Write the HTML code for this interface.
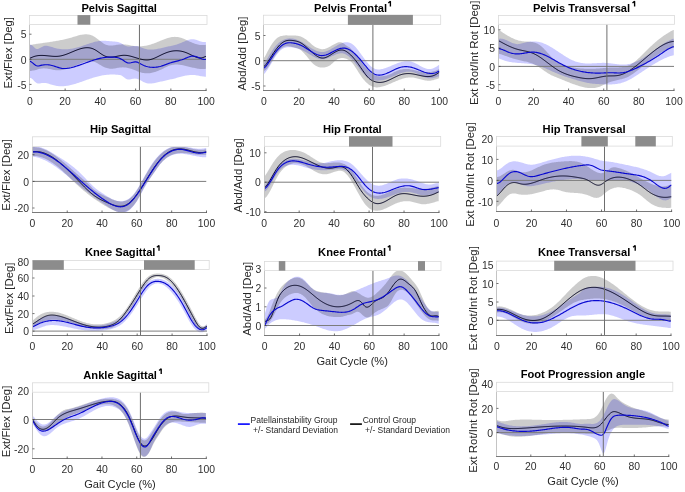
<!DOCTYPE html>
<html><head><meta charset="utf-8"><style>
html,body{margin:0;padding:0;background:#fff;width:685px;height:492px;overflow:hidden}
svg{display:block;will-change:transform}
text{font-family:"Liberation Sans", sans-serif}
</style></head><body>
<svg width="685" height="492" viewBox="0 0 685 492" font-family='"Liberation Sans", sans-serif'>
<rect width="685" height="492" fill="#fff"/>
<clipPath id="clipps"><rect x="29.9" y="24.4" width="176.2" height="65.6"/></clipPath>
<g clip-path="url(#clipps)">
<path d="M29.9,44.85 30.9,44.85 31.9,45.17 32.9,45.93 33.9,46.95 34.9,47.93 35.9,48.63 36.9,48.94 37.9,48.90 38.9,48.57 39.9,48.07 40.9,47.49 41.9,46.91 42.9,46.42 43.9,46.06 44.9,45.85 45.9,45.77 46.9,45.81 47.9,45.94 48.9,46.15 49.9,46.41 50.9,46.71 51.9,47.03 52.9,47.36 53.9,47.67 54.9,47.95 55.9,48.21 56.9,48.44 57.9,48.64 58.9,48.81 59.9,48.95 60.9,49.07 61.9,49.16 62.9,49.23 63.9,49.27 64.9,49.28 65.9,49.27 66.9,49.23 67.9,49.17 68.9,49.08 69.9,48.97 70.9,48.84 71.9,48.69 72.9,48.51 73.9,48.31 74.9,48.09 75.9,47.85 76.9,47.59 77.9,47.31 78.9,47.01 79.9,46.70 80.9,46.38 81.9,46.05 82.9,45.71 83.9,45.36 84.9,45.02 85.9,44.67 86.9,44.32 87.9,43.98 88.9,43.64 89.9,43.31 90.9,42.99 91.9,42.68 92.9,42.39 93.9,42.11 94.9,41.86 95.9,41.62 96.9,41.41 97.9,41.23 98.9,41.07 99.9,40.94 100.9,40.85 101.9,40.79 102.9,40.76 103.9,40.76 104.9,40.79 105.9,40.84 106.9,40.91 107.9,40.98 108.9,41.07 109.9,41.16 110.9,41.25 111.9,41.33 112.9,41.41 113.9,41.49 114.9,41.58 115.9,41.69 116.9,41.84 117.9,42.04 118.9,42.31 119.9,42.67 120.9,43.12 121.9,43.68 122.9,44.34 123.9,45.01 124.9,45.60 125.9,46.05 126.9,46.33 127.9,46.47 128.9,46.50 129.9,46.44 130.9,46.32 131.9,46.18 132.9,46.04 133.9,45.94 134.9,45.91 135.9,45.97 136.9,46.11 137.9,46.33 138.9,46.60 139.9,46.93 140.9,47.28 141.9,47.65 142.9,48.02 143.9,48.38 144.9,48.70 145.9,48.98 146.9,49.21 147.9,49.39 148.9,49.51 149.9,49.58 150.9,49.61 151.9,49.59 152.9,49.54 153.9,49.45 154.9,49.33 155.9,49.18 156.9,49.00 157.9,48.81 158.9,48.60 159.9,48.38 160.9,48.14 161.9,47.90 162.9,47.66 163.9,47.42 164.9,47.18 165.9,46.95 166.9,46.73 167.9,46.53 168.9,46.34 169.9,46.15 170.9,45.97 171.9,45.78 172.9,45.56 173.9,45.32 174.9,45.05 175.9,44.76 176.9,44.43 177.9,44.09 178.9,43.72 179.9,43.33 180.9,42.93 181.9,42.52 182.9,42.10 183.9,41.68 184.9,41.26 185.9,40.84 186.9,40.45 187.9,40.09 188.9,39.78 189.9,39.52 190.9,39.33 191.9,39.21 192.9,39.19 193.9,39.26 194.9,39.44 195.9,39.70 196.9,40.04 197.9,40.41 198.9,40.81 199.9,41.19 200.9,41.53 201.9,41.80 202.9,41.98 203.9,42.05 204.9,41.99 205.9,41.89 L205.9,76.67 204.9,76.66 203.9,76.61 202.9,76.51 201.9,76.37 200.9,76.21 199.9,76.02 198.9,75.82 197.9,75.62 196.9,75.42 195.9,75.25 194.9,75.11 193.9,75.01 192.9,74.95 191.9,74.94 190.9,74.97 189.9,75.03 188.9,75.13 187.9,75.26 186.9,75.42 185.9,75.61 184.9,75.81 183.9,76.04 182.9,76.28 181.9,76.53 180.9,76.79 179.9,77.06 178.9,77.33 177.9,77.60 176.9,77.87 175.9,78.13 174.9,78.39 173.9,78.64 172.9,78.89 171.9,79.13 170.9,79.37 169.9,79.60 168.9,79.83 167.9,80.05 166.9,80.28 165.9,80.50 164.9,80.72 163.9,80.94 162.9,81.16 161.9,81.38 160.9,81.60 159.9,81.83 158.9,82.05 157.9,82.27 156.9,82.50 155.9,82.73 154.9,82.95 153.9,83.15 152.9,83.32 151.9,83.46 150.9,83.56 149.9,83.59 148.9,83.56 147.9,83.46 146.9,83.26 145.9,82.98 144.9,82.60 143.9,82.15 142.9,81.64 141.9,81.10 140.9,80.56 139.9,80.03 138.9,79.55 137.9,79.14 136.9,78.83 135.9,78.63 134.9,78.57 133.9,78.65 132.9,78.83 131.9,79.08 130.9,79.33 129.9,79.53 128.9,79.62 127.9,79.57 126.9,79.31 125.9,78.81 124.9,78.09 123.9,77.24 122.9,76.40 121.9,75.72 120.9,75.29 119.9,75.04 118.9,74.90 117.9,74.80 116.9,74.72 115.9,74.65 114.9,74.60 113.9,74.57 112.9,74.56 111.9,74.56 110.9,74.58 109.9,74.62 108.9,74.67 107.9,74.74 106.9,74.83 105.9,74.94 104.9,75.06 103.9,75.20 102.9,75.36 101.9,75.53 100.9,75.72 99.9,75.93 98.9,76.15 97.9,76.39 96.9,76.65 95.9,76.92 94.9,77.21 93.9,77.51 92.9,77.82 91.9,78.14 90.9,78.48 89.9,78.81 88.9,79.16 87.9,79.51 86.9,79.87 85.9,80.22 84.9,80.58 83.9,80.94 82.9,81.30 81.9,81.66 80.9,82.01 79.9,82.35 78.9,82.69 77.9,83.03 76.9,83.35 75.9,83.66 74.9,83.96 73.9,84.25 72.9,84.53 71.9,84.79 70.9,85.03 69.9,85.25 68.9,85.46 67.9,85.64 66.9,85.80 65.9,85.94 64.9,86.06 63.9,86.15 62.9,86.21 61.9,86.25 60.9,86.25 59.9,86.22 58.9,86.17 57.9,86.08 56.9,85.95 55.9,85.79 54.9,85.59 53.9,85.35 52.9,85.08 51.9,84.78 50.9,84.46 49.9,84.14 48.9,83.83 47.9,83.54 46.9,83.29 45.9,83.10 44.9,82.97 43.9,82.92 42.9,82.95 41.9,83.07 40.9,83.24 39.9,83.40 38.9,83.48 37.9,83.42 36.9,83.14 35.9,82.58 34.9,81.73 33.9,80.66 32.9,79.56 31.9,78.65 30.9,78.10 29.9,77.90 Z" fill="#0000ff" fill-opacity="0.2" stroke="none"/>
<path d="M29.9,44.91 30.9,44.81 31.9,44.66 32.9,44.50 33.9,44.33 34.9,44.17 35.9,44.01 36.9,43.86 37.9,43.71 38.9,43.56 39.9,43.42 40.9,43.27 41.9,43.13 42.9,42.99 43.9,42.84 44.9,42.70 45.9,42.56 46.9,42.42 47.9,42.27 48.9,42.13 49.9,41.98 50.9,41.83 51.9,41.68 52.9,41.52 53.9,41.36 54.9,41.20 55.9,41.03 56.9,40.86 57.9,40.68 58.9,40.49 59.9,40.31 60.9,40.11 61.9,39.91 62.9,39.70 63.9,39.48 64.9,39.25 65.9,39.02 66.9,38.78 67.9,38.52 68.9,38.26 69.9,37.99 70.9,37.71 71.9,37.42 72.9,37.12 73.9,36.81 74.9,36.50 75.9,36.19 76.9,35.90 77.9,35.61 78.9,35.34 79.9,35.09 80.9,34.87 81.9,34.68 82.9,34.52 83.9,34.40 84.9,34.33 85.9,34.30 86.9,34.33 87.9,34.41 88.9,34.56 89.9,34.77 90.9,35.06 91.9,35.42 92.9,35.86 93.9,36.38 94.9,36.99 95.9,37.67 96.9,38.41 97.9,39.19 98.9,39.99 99.9,40.80 100.9,41.59 101.9,42.34 102.9,43.05 103.9,43.68 104.9,44.22 105.9,44.67 106.9,45.01 107.9,45.25 108.9,45.41 109.9,45.49 110.9,45.51 111.9,45.47 112.9,45.39 113.9,45.28 114.9,45.15 115.9,45.01 116.9,44.86 117.9,44.73 118.9,44.60 119.9,44.50 120.9,44.42 121.9,44.37 122.9,44.35 123.9,44.38 124.9,44.45 125.9,44.56 126.9,44.70 127.9,44.87 128.9,45.06 129.9,45.25 130.9,45.45 131.9,45.65 132.9,45.84 133.9,46.00 134.9,46.14 135.9,46.25 136.9,46.33 137.9,46.37 138.9,46.38 139.9,46.36 140.9,46.31 141.9,46.23 142.9,46.12 143.9,45.99 144.9,45.83 145.9,45.65 146.9,45.44 147.9,45.21 148.9,44.95 149.9,44.68 150.9,44.39 151.9,44.07 152.9,43.74 153.9,43.40 154.9,43.03 155.9,42.66 156.9,42.27 157.9,41.86 158.9,41.45 159.9,41.04 160.9,40.62 161.9,40.21 162.9,39.81 163.9,39.41 164.9,39.03 165.9,38.67 166.9,38.33 167.9,38.01 168.9,37.73 169.9,37.48 170.9,37.27 171.9,37.10 172.9,36.97 173.9,36.89 174.9,36.86 175.9,36.88 176.9,36.94 177.9,37.06 178.9,37.23 179.9,37.46 180.9,37.74 181.9,38.07 182.9,38.45 183.9,38.86 184.9,39.30 185.9,39.76 186.9,40.24 187.9,40.72 188.9,41.20 189.9,41.66 190.9,42.12 191.9,42.55 192.9,42.96 193.9,43.35 194.9,43.70 195.9,44.03 196.9,44.32 197.9,44.57 198.9,44.77 199.9,44.93 200.9,45.05 201.9,45.11 202.9,45.12 203.9,45.07 204.9,44.97 205.9,44.87 L205.9,68.82 204.9,68.89 203.9,68.96 202.9,69.00 201.9,68.99 200.9,68.95 199.9,68.88 198.9,68.77 197.9,68.63 196.9,68.47 195.9,68.29 194.9,68.09 193.9,67.87 192.9,67.64 191.9,67.39 190.9,67.14 189.9,66.89 188.9,66.63 187.9,66.38 186.9,66.13 185.9,65.88 184.9,65.65 183.9,65.43 182.9,65.23 181.9,65.05 180.9,64.89 179.9,64.76 178.9,64.65 177.9,64.58 176.9,64.54 175.9,64.54 174.9,64.58 173.9,64.66 172.9,64.79 171.9,64.97 170.9,65.21 169.9,65.50 168.9,65.84 167.9,66.23 166.9,66.67 165.9,67.13 164.9,67.62 163.9,68.13 162.9,68.63 161.9,69.14 160.9,69.63 159.9,70.10 158.9,70.55 157.9,70.97 156.9,71.36 155.9,71.72 154.9,72.04 153.9,72.34 152.9,72.60 151.9,72.82 150.9,73.00 149.9,73.14 148.9,73.25 147.9,73.30 146.9,73.32 145.9,73.29 144.9,73.21 143.9,73.09 142.9,72.91 141.9,72.68 140.9,72.41 139.9,72.10 138.9,71.75 137.9,71.38 136.9,70.98 135.9,70.58 134.9,70.18 133.9,69.78 132.9,69.40 131.9,69.03 130.9,68.70 129.9,68.40 128.9,68.14 127.9,67.91 126.9,67.72 125.9,67.57 124.9,67.46 123.9,67.39 122.9,67.36 121.9,67.38 120.9,67.44 119.9,67.55 118.9,67.69 117.9,67.87 116.9,68.06 115.9,68.26 114.9,68.44 113.9,68.59 112.9,68.70 111.9,68.75 110.9,68.75 109.9,68.67 108.9,68.54 107.9,68.34 106.9,68.08 105.9,67.77 104.9,67.39 103.9,66.96 102.9,66.48 101.9,65.94 100.9,65.36 99.9,64.75 98.9,64.13 97.9,63.52 96.9,62.95 95.9,62.45 94.9,62.04 93.9,61.72 92.9,61.50 91.9,61.37 90.9,61.31 89.9,61.32 88.9,61.38 87.9,61.49 86.9,61.65 85.9,61.85 84.9,62.09 83.9,62.37 82.9,62.67 81.9,63.01 80.9,63.36 79.9,63.74 78.9,64.13 77.9,64.54 76.9,64.96 75.9,65.38 74.9,65.80 73.9,66.22 72.9,66.63 71.9,67.04 70.9,67.44 69.9,67.82 68.9,68.19 67.9,68.54 66.9,68.87 65.9,69.17 64.9,69.45 63.9,69.69 62.9,69.90 61.9,70.08 60.9,70.21 59.9,70.31 58.9,70.36 57.9,70.36 56.9,70.31 55.9,70.22 54.9,70.08 53.9,69.91 52.9,69.72 51.9,69.52 50.9,69.31 49.9,69.10 48.9,68.90 47.9,68.72 46.9,68.57 45.9,68.46 44.9,68.39 43.9,68.37 42.9,68.41 41.9,68.51 40.9,68.66 39.9,68.86 38.9,69.10 37.9,69.36 36.9,69.63 35.9,69.90 34.9,70.16 33.9,70.41 32.9,70.62 31.9,70.80 30.9,70.91 29.9,70.97 Z" fill="#000000" fill-opacity="0.2" stroke="none"/>
<line x1="29.9" x2="206.1" y1="59.3" y2="59.3" stroke="#7c7c7c" stroke-width="1.0"/>
<path d="M29.9,58.11 30.9,57.80 31.9,57.37 32.9,56.95 33.9,56.57 34.9,56.26 35.9,56.00 36.9,55.80 37.9,55.64 38.9,55.53 39.9,55.46 40.9,55.43 41.9,55.43 42.9,55.45 43.9,55.50 44.9,55.56 45.9,55.65 46.9,55.74 47.9,55.84 48.9,55.94 49.9,56.04 50.9,56.14 51.9,56.23 52.9,56.30 53.9,56.35 54.9,56.38 55.9,56.39 56.9,56.36 57.9,56.30 58.9,56.20 59.9,56.06 60.9,55.87 61.9,55.65 62.9,55.39 63.9,55.10 64.9,54.78 65.9,54.44 66.9,54.07 67.9,53.69 68.9,53.29 69.9,52.87 70.9,52.46 71.9,52.03 72.9,51.61 73.9,51.19 74.9,50.78 75.9,50.38 76.9,49.99 77.9,49.62 78.9,49.27 79.9,48.94 80.9,48.65 81.9,48.39 82.9,48.16 83.9,47.97 84.9,47.83 85.9,47.74 86.9,47.70 87.9,47.71 88.9,47.79 89.9,47.93 90.9,48.13 91.9,48.41 92.9,48.77 93.9,49.21 94.9,49.72 95.9,50.30 96.9,50.94 97.9,51.62 98.9,52.33 99.9,53.04 100.9,53.73 101.9,54.40 102.9,55.02 103.9,55.58 104.9,56.06 105.9,56.46 106.9,56.75 107.9,56.96 108.9,57.10 109.9,57.16 110.9,57.15 111.9,57.10 112.9,57.00 113.9,56.86 114.9,56.69 115.9,56.50 116.9,56.30 117.9,56.10 118.9,55.90 119.9,55.72 120.9,55.56 121.9,55.43 122.9,55.34 123.9,55.29 124.9,55.30 125.9,55.36 126.9,55.46 127.9,55.61 128.9,55.80 129.9,56.02 130.9,56.27 131.9,56.54 132.9,56.83 133.9,57.13 134.9,57.44 135.9,57.75 136.9,58.06 137.9,58.37 138.9,58.66 139.9,58.94 140.9,59.19 141.9,59.41 142.9,59.61 143.9,59.77 144.9,59.88 145.9,59.95 146.9,59.97 147.9,59.93 148.9,59.83 149.9,59.66 150.9,59.44 151.9,59.15 152.9,58.81 153.9,58.42 154.9,58.00 155.9,57.55 156.9,57.07 157.9,56.58 158.9,56.08 159.9,55.58 160.9,55.09 161.9,54.61 162.9,54.15 163.9,53.70 164.9,53.28 165.9,52.88 166.9,52.51 167.9,52.16 168.9,51.86 169.9,51.58 170.9,51.35 171.9,51.15 172.9,50.99 173.9,50.87 174.9,50.80 175.9,50.76 176.9,50.76 177.9,50.80 178.9,50.88 179.9,51.00 180.9,51.16 181.9,51.35 182.9,51.59 183.9,51.87 184.9,52.19 185.9,52.55 186.9,52.95 187.9,53.38 188.9,53.85 189.9,54.34 190.9,54.84 191.9,55.34 192.9,55.82 193.9,56.29 194.9,56.72 195.9,57.10 196.9,57.43 197.9,57.69 198.9,57.87 199.9,57.96 200.9,57.95 201.9,57.83 202.9,57.58 203.9,57.20 204.9,56.73 205.9,56.32" fill="none" stroke="#0a0a28" stroke-width="1.0" stroke-linejoin="round"/>
<path d="M29.9,61.21 30.9,61.64 31.9,62.35 32.9,63.18 33.9,64.02 34.9,64.80 35.9,65.42 36.9,65.83 37.9,65.98 38.9,65.90 39.9,65.67 40.9,65.41 41.9,65.16 42.9,64.97 43.9,64.83 44.9,64.74 45.9,64.70 46.9,64.72 47.9,64.78 48.9,64.89 49.9,65.04 50.9,65.24 51.9,65.48 52.9,65.75 53.9,66.05 54.9,66.37 55.9,66.70 56.9,67.03 57.9,67.35 58.9,67.65 59.9,67.92 60.9,68.15 61.9,68.33 62.9,68.45 63.9,68.52 64.9,68.54 65.9,68.51 66.9,68.42 67.9,68.30 68.9,68.14 69.9,67.95 70.9,67.73 71.9,67.48 72.9,67.21 73.9,66.93 74.9,66.63 75.9,66.32 76.9,66.00 77.9,65.67 78.9,65.34 79.9,64.99 80.9,64.64 81.9,64.28 82.9,63.92 83.9,63.56 84.9,63.20 85.9,62.83 86.9,62.47 87.9,62.11 88.9,61.76 89.9,61.40 90.9,61.06 91.9,60.72 92.9,60.39 93.9,60.07 94.9,59.75 95.9,59.46 96.9,59.17 97.9,58.90 98.9,58.64 99.9,58.40 100.9,58.18 101.9,57.98 102.9,57.79 103.9,57.63 104.9,57.49 105.9,57.36 106.9,57.26 107.9,57.18 108.9,57.12 109.9,57.08 110.9,57.06 111.9,57.06 112.9,57.08 113.9,57.13 114.9,57.21 115.9,57.34 116.9,57.51 117.9,57.75 118.9,58.05 119.9,58.42 120.9,58.88 121.9,59.44 122.9,60.08 123.9,60.78 124.9,61.48 125.9,62.11 126.9,62.60 127.9,62.89 128.9,63.00 129.9,62.95 130.9,62.78 131.9,62.54 132.9,62.29 133.9,62.06 134.9,61.92 135.9,61.91 136.9,62.07 137.9,62.41 138.9,62.91 139.9,63.47 140.9,64.03 141.9,64.56 142.9,65.05 143.9,65.48 144.9,65.87 145.9,66.20 146.9,66.50 147.9,66.75 148.9,66.95 149.9,67.11 150.9,67.23 151.9,67.30 152.9,67.33 153.9,67.33 154.9,67.28 155.9,67.19 156.9,67.07 157.9,66.91 158.9,66.71 159.9,66.48 160.9,66.21 161.9,65.91 162.9,65.58 163.9,65.24 164.9,64.88 165.9,64.51 166.9,64.13 167.9,63.76 168.9,63.39 169.9,63.04 170.9,62.70 171.9,62.39 172.9,62.10 173.9,61.83 174.9,61.57 175.9,61.32 176.9,61.08 177.9,60.83 178.9,60.57 179.9,60.30 180.9,60.01 181.9,59.70 182.9,59.36 183.9,58.98 184.9,58.57 185.9,58.15 186.9,57.72 187.9,57.30 188.9,56.92 189.9,56.58 190.9,56.31 191.9,56.12 192.9,56.03 193.9,56.06 194.9,56.21 195.9,56.48 196.9,56.83 197.9,57.24 198.9,57.69 199.9,58.14 200.9,58.56 201.9,58.93 202.9,59.22 203.9,59.40 204.9,59.45 205.9,59.43" fill="none" stroke="#0808d0" stroke-width="1.15" stroke-linejoin="round"/>
</g>
<line x1="139.45" x2="139.45" y1="24.4" y2="90.0" stroke="#6e6e6e" stroke-width="1.0"/>
<line x1="29.5" x2="29.5" y1="24.4" y2="90.5" stroke="#c4c4c4" stroke-width="1"/>
<line x1="29.0" x2="206.6" y1="90.5" y2="90.5" stroke="#7a7a7a" stroke-width="1"/>
<text x="29.90" y="104.9" font-size="10.4" text-anchor="middle" font-weight="normal" fill="#303030">0</text>
<line x1="65.14" x2="65.14" y1="90.5" y2="88.5" stroke="#333333" stroke-width="0.7"/>
<text x="65.14" y="104.9" font-size="10.4" text-anchor="middle" font-weight="normal" fill="#303030">20</text>
<line x1="100.38" x2="100.38" y1="90.5" y2="88.5" stroke="#333333" stroke-width="0.7"/>
<text x="100.38" y="104.9" font-size="10.4" text-anchor="middle" font-weight="normal" fill="#303030">40</text>
<line x1="135.62" x2="135.62" y1="90.5" y2="88.5" stroke="#333333" stroke-width="0.7"/>
<text x="135.62" y="104.9" font-size="10.4" text-anchor="middle" font-weight="normal" fill="#303030">60</text>
<line x1="170.86" x2="170.86" y1="90.5" y2="88.5" stroke="#333333" stroke-width="0.7"/>
<text x="170.86" y="104.9" font-size="10.4" text-anchor="middle" font-weight="normal" fill="#303030">80</text>
<line x1="206.10" x2="206.10" y1="90.5" y2="88.5" stroke="#333333" stroke-width="0.7"/>
<text x="206.10" y="104.9" font-size="10.4" text-anchor="middle" font-weight="normal" fill="#303030">100</text>
<line x1="29.5" x2="31.5" y1="34.2" y2="34.2" stroke="#333333" stroke-width="0.7"/>
<text x="26.599999999999998" y="38.400000000000006" font-size="10.4" text-anchor="end" font-weight="normal" fill="#303030">5</text>
<line x1="29.5" x2="31.5" y1="59.3" y2="59.3" stroke="#333333" stroke-width="0.7"/>
<text x="26.599999999999998" y="63.5" font-size="10.4" text-anchor="end" font-weight="normal" fill="#303030">0</text>
<line x1="29.5" x2="31.5" y1="84.4" y2="84.4" stroke="#333333" stroke-width="0.7"/>
<text x="26.599999999999998" y="88.60000000000001" font-size="10.4" text-anchor="end" font-weight="normal" fill="#303030">-5</text>
<rect x="29.5" y="15.4" width="177.50" height="9.00" fill="#fff" stroke="#dadada" stroke-width="0.8"/>
<rect x="77.5" y="15.1" width="12.80" height="9.60" fill="#8c8c8c"/>
<text x="81.4" y="11.8" font-size="11.15" text-anchor="start" font-weight="bold" fill="#000">Pelvis Sagittal</text>
<text x="12.4" y="52.8" font-size="11.4" text-anchor="middle" font-weight="normal" fill="#262626" transform="rotate(-90 12.4 52.8)">Ext/Flex [Deg]</text>
<clipPath id="clippf"><rect x="263.8" y="24.6" width="175.59999999999997" height="65.4"/></clipPath>
<g clip-path="url(#clippf)">
<path d="M263.8,63.25 264.8,62.30 265.8,60.88 266.8,59.29 267.8,57.64 268.8,55.98 269.8,54.33 270.8,52.72 271.8,51.15 272.8,49.66 273.8,48.25 274.8,46.95 275.8,45.75 276.8,44.66 277.8,43.67 278.8,42.78 279.8,41.98 280.8,41.27 281.8,40.65 282.8,40.10 283.8,39.64 284.8,39.26 285.8,38.94 286.8,38.70 287.8,38.52 288.8,38.41 289.8,38.36 290.8,38.38 291.8,38.45 292.8,38.59 293.8,38.78 294.8,39.02 295.8,39.31 296.8,39.65 297.8,40.04 298.8,40.47 299.8,40.95 300.8,41.47 301.8,42.02 302.8,42.61 303.8,43.23 304.8,43.86 305.8,44.52 306.8,45.18 307.8,45.85 308.8,46.51 309.8,47.16 310.8,47.80 311.8,48.42 312.8,49.01 313.8,49.56 314.8,50.08 315.8,50.55 316.8,50.96 317.8,51.32 318.8,51.61 319.8,51.83 320.8,51.98 321.8,52.04 322.8,52.01 323.8,51.90 324.8,51.70 325.8,51.42 326.8,51.08 327.8,50.68 328.8,50.22 329.8,49.72 330.8,49.18 331.8,48.61 332.8,48.03 333.8,47.43 334.8,46.82 335.8,46.22 336.8,45.64 337.8,45.07 338.8,44.53 339.8,44.02 340.8,43.56 341.8,43.15 342.8,42.80 343.8,42.52 344.8,42.32 345.8,42.19 346.8,42.17 347.8,42.24 348.8,42.43 349.8,42.74 350.8,43.17 351.8,43.75 352.8,44.46 353.8,45.31 354.8,46.29 355.8,47.37 356.8,48.55 357.8,49.80 358.8,51.11 359.8,52.46 360.8,53.84 361.8,55.23 362.8,56.61 363.8,57.98 364.8,59.33 365.8,60.63 366.8,61.89 367.8,63.09 368.8,64.21 369.8,65.25 370.8,66.19 371.8,67.03 372.8,67.75 373.8,68.34 374.8,68.80 375.8,69.14 376.8,69.36 377.8,69.48 378.8,69.50 379.8,69.45 380.8,69.32 381.8,69.12 382.8,68.88 383.8,68.60 384.8,68.29 385.8,67.94 386.8,67.58 387.8,67.20 388.8,66.80 389.8,66.39 390.8,65.97 391.8,65.54 392.8,65.12 393.8,64.70 394.8,64.28 395.8,63.88 396.8,63.49 397.8,63.11 398.8,62.76 399.8,62.44 400.8,62.14 401.8,61.87 402.8,61.64 403.8,61.45 404.8,61.31 405.8,61.21 406.8,61.16 407.8,61.17 408.8,61.23 409.8,61.36 410.8,61.55 411.8,61.81 412.8,62.14 413.8,62.53 414.8,62.97 415.8,63.46 416.8,63.98 417.8,64.53 418.8,65.08 419.8,65.64 420.8,66.19 421.8,66.72 422.8,67.22 423.8,67.68 424.8,68.09 425.8,68.44 426.8,68.71 427.8,68.90 428.8,69.00 429.8,69.00 430.8,68.90 431.8,68.70 432.8,68.40 433.8,68.02 434.8,67.55 435.8,67.01 436.8,66.39 437.8,65.72 438.8,65.10 439.3,64.87 L439.3,76.21 438.3,76.48 437.3,76.84 436.3,77.19 435.3,77.51 434.3,77.78 433.3,78.01 432.3,78.17 431.3,78.28 430.3,78.31 429.3,78.27 428.3,78.16 427.3,77.96 426.3,77.70 425.3,77.39 424.3,77.02 423.3,76.61 422.3,76.17 421.3,75.71 420.3,75.23 419.3,74.75 418.3,74.28 417.3,73.81 416.3,73.37 415.3,72.97 414.3,72.60 413.3,72.29 412.3,72.03 411.3,71.84 410.3,71.71 409.3,71.65 408.3,71.64 407.3,71.70 406.3,71.81 405.3,71.96 404.3,72.17 403.3,72.41 402.3,72.69 401.3,73.00 400.3,73.35 399.3,73.72 398.3,74.11 397.3,74.52 396.3,74.94 395.3,75.38 394.3,75.82 393.3,76.26 392.3,76.70 391.3,77.14 390.3,77.56 389.3,77.98 388.3,78.37 387.3,78.75 386.3,79.10 385.3,79.43 384.3,79.72 383.3,79.97 382.3,80.19 381.3,80.37 380.3,80.50 379.3,80.60 378.3,80.65 377.3,80.66 376.3,80.62 375.3,80.54 374.3,80.41 373.3,80.24 372.3,80.00 371.3,79.69 370.3,79.29 369.3,78.77 368.3,78.13 367.3,77.37 366.3,76.50 365.3,75.54 364.3,74.49 363.3,73.36 362.3,72.17 361.3,70.93 360.3,69.66 359.3,68.36 358.3,67.04 357.3,65.74 356.3,64.44 355.3,63.18 354.3,61.97 353.3,60.81 352.3,59.72 351.3,58.70 350.3,57.77 349.3,56.91 348.3,56.11 347.3,55.38 346.3,54.73 345.3,54.18 344.3,53.73 343.3,53.42 342.3,53.24 341.3,53.19 340.3,53.24 339.3,53.40 338.3,53.63 337.3,53.94 336.3,54.31 335.3,54.72 334.3,55.16 333.3,55.63 332.3,56.11 331.3,56.58 330.3,57.05 329.3,57.50 328.3,57.93 327.3,58.31 326.3,58.65 325.3,58.93 324.3,59.14 323.3,59.28 322.3,59.33 321.3,59.29 320.3,59.17 319.3,58.96 318.3,58.69 317.3,58.35 316.3,57.96 315.3,57.51 314.3,57.02 313.3,56.49 312.3,55.93 311.3,55.34 310.3,54.74 309.3,54.13 308.3,53.52 307.3,52.91 306.3,52.31 305.3,51.73 304.3,51.17 303.3,50.64 302.3,50.16 301.3,49.72 300.3,49.32 299.3,48.97 298.3,48.67 297.3,48.40 296.3,48.16 295.3,47.96 294.3,47.77 293.3,47.61 292.3,47.46 291.3,47.33 290.3,47.23 289.3,47.18 288.3,47.18 287.3,47.25 286.3,47.40 285.3,47.64 284.3,48.00 283.3,48.47 282.3,49.06 281.3,49.78 280.3,50.62 279.3,51.58 278.3,52.67 277.3,53.88 276.3,55.21 275.3,56.66 274.3,58.23 273.3,59.91 272.3,61.67 271.3,63.44 270.3,65.18 269.3,66.85 268.3,68.43 267.3,69.94 266.3,71.36 265.3,72.67 264.3,73.70 263.8,74.04 Z" fill="#0000ff" fill-opacity="0.2" stroke="none"/>
<path d="M263.8,57.96 264.8,56.70 265.8,54.89 266.8,52.93 267.8,51.02 268.8,49.18 269.8,47.42 270.8,45.77 271.8,44.22 272.8,42.79 273.8,41.49 274.8,40.32 275.8,39.27 276.8,38.35 277.8,37.54 278.8,36.88 279.8,36.39 280.8,36.07 281.8,35.90 282.8,35.77 283.8,35.62 284.8,35.46 285.8,35.37 286.8,35.37 287.8,35.43 288.8,35.50 289.8,35.54 290.8,35.56 291.8,35.55 292.8,35.53 293.8,35.52 294.8,35.53 295.8,35.57 296.8,35.64 297.8,35.76 298.8,35.94 299.8,36.19 300.8,36.51 301.8,36.92 302.8,37.42 303.8,37.99 304.8,38.63 305.8,39.34 306.8,40.10 307.8,40.91 308.8,41.75 309.8,42.62 310.8,43.51 311.8,44.38 312.8,45.20 313.8,45.96 314.8,46.63 315.8,47.20 316.8,47.70 317.8,48.12 318.8,48.49 319.8,48.79 320.8,49.02 321.8,49.16 322.8,49.19 323.8,49.11 324.8,48.91 325.8,48.62 326.8,48.25 327.8,47.81 328.8,47.31 329.8,46.76 330.8,46.19 331.8,45.61 332.8,45.02 333.8,44.45 334.8,43.91 335.8,43.41 336.8,42.97 337.8,42.61 338.8,42.37 339.8,42.25 340.8,42.29 341.8,42.50 342.8,42.92 343.8,43.54 344.8,44.33 345.8,45.15 346.8,45.86 347.8,46.39 348.8,46.89 349.8,47.61 350.8,48.63 351.8,49.83 352.8,51.06 353.8,52.25 354.8,53.41 355.8,54.58 356.8,55.78 357.8,57.04 358.8,58.36 359.8,59.72 360.8,61.11 361.8,62.50 362.8,63.88 363.8,65.20 364.8,66.43 365.8,67.57 366.8,68.62 367.8,69.61 368.8,70.55 369.8,71.48 370.8,72.38 371.8,73.25 372.8,74.04 373.8,74.72 374.8,75.27 375.8,75.70 376.8,76.02 377.8,76.23 378.8,76.34 379.8,76.38 380.8,76.36 381.8,76.28 382.8,76.16 383.8,76.01 384.8,75.83 385.8,75.63 386.8,75.38 387.8,75.09 388.8,74.75 389.8,74.34 390.8,73.89 391.8,73.39 392.8,72.88 393.8,72.36 394.8,71.86 395.8,71.38 396.8,70.94 397.8,70.54 398.8,70.18 399.8,69.87 400.8,69.60 401.8,69.39 402.8,69.21 403.8,69.09 404.8,69.01 405.8,68.97 406.8,68.97 407.8,69.02 408.8,69.11 409.8,69.24 410.8,69.40 411.8,69.60 412.8,69.83 413.8,70.09 414.8,70.35 415.8,70.61 416.8,70.86 417.8,71.07 418.8,71.25 419.8,71.40 420.8,71.52 421.8,71.63 422.8,71.72 423.8,71.81 424.8,71.89 425.8,71.96 426.8,72.02 427.8,72.05 428.8,72.04 429.8,72.00 430.8,71.90 431.8,71.76 432.8,71.57 433.8,71.32 434.8,71.01 435.8,70.65 436.8,70.23 437.8,69.76 438.8,69.32 439.3,69.15 L439.3,78.36 438.3,78.60 437.3,78.93 436.3,79.26 435.3,79.58 434.3,79.87 433.3,80.13 432.3,80.35 431.3,80.53 430.3,80.65 429.3,80.72 428.3,80.72 427.3,80.67 426.3,80.57 425.3,80.42 424.3,80.24 423.3,80.02 422.3,79.77 421.3,79.51 420.3,79.23 419.3,78.96 418.3,78.68 417.3,78.41 416.3,78.17 415.3,77.94 414.3,77.75 413.3,77.59 412.3,77.48 411.3,77.41 410.3,77.40 409.3,77.43 408.3,77.51 407.3,77.64 406.3,77.80 405.3,78.00 404.3,78.24 403.3,78.51 402.3,78.81 401.3,79.13 400.3,79.48 399.3,79.85 398.3,80.24 397.3,80.64 396.3,81.06 395.3,81.49 394.3,81.92 393.3,82.35 392.3,82.79 391.3,83.23 390.3,83.66 389.3,84.08 388.3,84.49 387.3,84.89 386.3,85.28 385.3,85.65 384.3,85.99 383.3,86.31 382.3,86.60 381.3,86.86 380.3,87.07 379.3,87.24 378.3,87.35 377.3,87.40 376.3,87.38 375.3,87.29 374.3,87.12 373.3,86.86 372.3,86.51 371.3,86.07 370.3,85.53 369.3,84.90 368.3,84.18 367.3,83.36 366.3,82.45 365.3,81.45 364.3,80.35 363.3,79.16 362.3,77.88 361.3,76.50 360.3,75.03 359.3,73.50 358.3,71.91 357.3,70.31 356.3,68.72 355.3,67.18 354.3,65.71 353.3,64.35 352.3,63.12 351.3,62.04 350.3,61.12 349.3,60.34 348.3,59.69 347.3,59.17 346.3,58.76 345.3,58.45 344.3,58.24 343.3,58.10 342.3,58.05 341.3,58.09 340.3,58.23 339.3,58.47 338.3,58.83 337.3,59.32 336.3,59.94 335.3,60.70 334.3,61.57 333.3,62.51 332.3,63.47 331.3,64.36 330.3,65.15 329.3,65.82 328.3,66.36 327.3,66.79 326.3,67.11 325.3,67.34 324.3,67.49 323.3,67.56 322.3,67.57 321.3,67.52 320.3,67.40 319.3,67.21 318.3,66.93 317.3,66.56 316.3,66.08 315.3,65.48 314.3,64.76 313.3,63.92 312.3,62.96 311.3,61.90 310.3,60.76 309.3,59.56 308.3,58.33 307.3,57.09 306.3,55.86 305.3,54.66 304.3,53.51 303.3,52.44 302.3,51.47 301.3,50.61 300.3,49.87 299.3,49.26 298.3,48.75 297.3,48.33 296.3,47.99 295.3,47.70 294.3,47.45 293.3,47.21 292.3,46.99 291.3,46.77 290.3,46.57 289.3,46.41 288.3,46.30 287.3,46.27 286.3,46.32 285.3,46.49 284.3,46.78 283.3,47.22 282.3,47.79 281.3,48.51 280.3,49.36 279.3,50.34 278.3,51.44 277.3,52.66 276.3,53.99 275.3,55.43 274.3,56.97 273.3,58.60 272.3,60.28 271.3,61.99 270.3,63.68 269.3,65.30 268.3,66.81 267.3,68.16 266.3,69.29 265.3,70.17 264.3,70.73 263.8,70.89 Z" fill="#000000" fill-opacity="0.2" stroke="none"/>
<line x1="263.8" x2="439.4" y1="60.7" y2="60.7" stroke="#7c7c7c" stroke-width="1.0"/>
<path d="M263.8,66.61 264.8,65.83 265.8,64.65 266.8,63.27 267.8,61.81 268.8,60.29 269.8,58.73 270.8,57.16 271.8,55.59 272.8,54.04 273.8,52.53 274.8,51.07 275.8,49.68 276.8,48.36 277.8,47.13 278.8,45.97 279.8,44.91 280.8,43.95 281.8,43.10 282.8,42.36 283.8,41.74 284.8,41.24 285.8,40.86 286.8,40.59 287.8,40.41 288.8,40.32 289.8,40.30 290.8,40.33 291.8,40.40 292.8,40.51 293.8,40.65 294.8,40.82 295.8,41.02 296.8,41.27 297.8,41.57 298.8,41.93 299.8,42.35 300.8,42.86 301.8,43.45 302.8,44.11 303.8,44.85 304.8,45.65 305.8,46.50 306.8,47.38 307.8,48.30 308.8,49.23 309.8,50.18 310.8,51.11 311.8,52.03 312.8,52.93 313.8,53.79 314.8,54.60 315.8,55.36 316.8,56.04 317.8,56.64 318.8,57.16 319.8,57.57 320.8,57.87 321.8,58.04 322.8,58.09 323.8,58.00 324.8,57.79 325.8,57.48 326.8,57.06 327.8,56.58 328.8,56.03 329.8,55.43 330.8,54.80 331.8,54.15 332.8,53.51 333.8,52.87 334.8,52.27 335.8,51.71 336.8,51.21 337.8,50.78 338.8,50.43 339.8,50.18 340.8,50.03 341.8,50.00 342.8,50.09 343.8,50.32 344.8,50.69 345.8,51.20 346.8,51.81 347.8,52.52 348.8,53.30 349.8,54.15 350.8,55.07 351.8,56.07 352.8,57.13 353.8,58.27 354.8,59.47 355.8,60.74 356.8,62.05 357.8,63.42 358.8,64.82 359.8,66.25 360.8,67.70 361.8,69.17 362.8,70.63 363.8,72.07 364.8,73.46 365.8,74.79 366.8,76.03 367.8,77.17 368.8,78.17 369.8,79.04 370.8,79.77 371.8,80.37 372.8,80.87 373.8,81.29 374.8,81.63 375.8,81.91 376.8,82.13 377.8,82.29 378.8,82.38 379.8,82.41 380.8,82.38 381.8,82.29 382.8,82.15 383.8,81.94 384.8,81.67 385.8,81.36 386.8,81.00 387.8,80.60 388.8,80.17 389.8,79.71 390.8,79.23 391.8,78.73 392.8,78.23 393.8,77.73 394.8,77.23 395.8,76.75 396.8,76.28 397.8,75.83 398.8,75.42 399.8,75.04 400.8,74.71 401.8,74.41 402.8,74.17 403.8,73.97 404.8,73.81 405.8,73.69 406.8,73.62 407.8,73.58 408.8,73.58 409.8,73.62 410.8,73.70 411.8,73.81 412.8,73.95 413.8,74.11 414.8,74.31 415.8,74.51 416.8,74.74 417.8,74.97 418.8,75.20 419.8,75.43 420.8,75.65 421.8,75.86 422.8,76.05 423.8,76.22 424.8,76.36 425.8,76.47 426.8,76.53 427.8,76.56 428.8,76.53 429.8,76.46 430.8,76.32 431.8,76.12 432.8,75.85 433.8,75.50 434.8,75.08 435.8,74.57 436.8,73.97 437.8,73.30 438.8,72.67 439.3,72.43" fill="none" stroke="#0a0a28" stroke-width="1.0" stroke-linejoin="round"/>
<path d="M263.8,68.11 264.8,67.39 265.8,66.30 266.8,65.01 267.8,63.62 268.8,62.16 269.8,60.66 270.8,59.14 271.8,57.61 272.8,56.11 273.8,54.64 274.8,53.23 275.8,51.88 276.8,50.61 277.8,49.41 278.8,48.30 279.8,47.28 280.8,46.35 281.8,45.53 282.8,44.81 283.8,44.20 284.8,43.71 285.8,43.33 286.8,43.05 287.8,42.87 288.8,42.77 289.8,42.74 290.8,42.77 291.8,42.85 292.8,42.97 293.8,43.13 294.8,43.33 295.8,43.55 296.8,43.82 297.8,44.13 298.8,44.47 299.8,44.86 300.8,45.29 301.8,45.77 302.8,46.29 303.8,46.85 304.8,47.44 305.8,48.05 306.8,48.68 307.8,49.32 308.8,49.96 309.8,50.60 310.8,51.23 311.8,51.84 312.8,52.43 313.8,52.99 314.8,53.51 315.8,53.99 316.8,54.42 317.8,54.79 318.8,55.09 319.8,55.33 320.8,55.49 321.8,55.56 322.8,55.55 323.8,55.44 324.8,55.26 325.8,54.99 326.8,54.67 327.8,54.28 328.8,53.85 329.8,53.38 330.8,52.88 331.8,52.36 332.8,51.84 333.8,51.31 334.8,50.79 335.8,50.29 336.8,49.82 337.8,49.38 338.8,49.00 339.8,48.66 340.8,48.40 341.8,48.21 342.8,48.10 343.8,48.08 344.8,48.17 345.8,48.35 346.8,48.62 347.8,48.99 348.8,49.45 349.8,49.98 350.8,50.60 351.8,51.29 352.8,52.06 353.8,52.88 354.8,53.77 355.8,54.72 356.8,55.72 357.8,56.77 358.8,57.87 359.8,59.00 360.8,60.17 361.8,61.37 362.8,62.59 363.8,63.81 364.8,65.03 365.8,66.23 366.8,67.40 367.8,68.53 368.8,69.60 369.8,70.61 370.8,71.53 371.8,72.37 372.8,73.10 373.8,73.72 374.8,74.21 375.8,74.60 376.8,74.87 377.8,75.04 378.8,75.12 379.8,75.11 380.8,75.02 381.8,74.86 382.8,74.64 383.8,74.37 384.8,74.05 385.8,73.68 386.8,73.28 387.8,72.85 388.8,72.40 389.8,71.93 390.8,71.45 391.8,70.96 392.8,70.48 393.8,70.00 394.8,69.53 395.8,69.07 396.8,68.64 397.8,68.24 398.8,67.88 399.8,67.56 400.8,67.28 401.8,67.05 402.8,66.88 403.8,66.75 404.8,66.67 405.8,66.64 406.8,66.65 407.8,66.72 408.8,66.82 409.8,66.98 410.8,67.17 411.8,67.41 412.8,67.69 413.8,68.00 414.8,68.35 415.8,68.72 416.8,69.11 417.8,69.51 418.8,69.92 419.8,70.34 420.8,70.75 421.8,71.16 422.8,71.55 423.8,71.92 424.8,72.26 425.8,72.57 426.8,72.85 427.8,73.08 428.8,73.27 429.8,73.40 430.8,73.47 431.8,73.48 432.8,73.42 433.8,73.28 434.8,73.05 435.8,72.74 436.8,72.34 437.8,71.85 438.8,71.37 439.3,71.19" fill="none" stroke="#0808d0" stroke-width="1.15" stroke-linejoin="round"/>
</g>
<line x1="372.9" x2="372.9" y1="24.6" y2="90.0" stroke="#6e6e6e" stroke-width="1.0"/>
<line x1="263.5" x2="263.5" y1="24.6" y2="90.5" stroke="#c4c4c4" stroke-width="1"/>
<line x1="263.0" x2="439.9" y1="90.5" y2="90.5" stroke="#7a7a7a" stroke-width="1"/>
<text x="263.80" y="104.9" font-size="10.4" text-anchor="middle" font-weight="normal" fill="#303030">0</text>
<line x1="298.92" x2="298.92" y1="90.5" y2="88.5" stroke="#333333" stroke-width="0.7"/>
<text x="298.92" y="104.9" font-size="10.4" text-anchor="middle" font-weight="normal" fill="#303030">20</text>
<line x1="334.04" x2="334.04" y1="90.5" y2="88.5" stroke="#333333" stroke-width="0.7"/>
<text x="334.04" y="104.9" font-size="10.4" text-anchor="middle" font-weight="normal" fill="#303030">40</text>
<line x1="369.16" x2="369.16" y1="90.5" y2="88.5" stroke="#333333" stroke-width="0.7"/>
<text x="369.16" y="104.9" font-size="10.4" text-anchor="middle" font-weight="normal" fill="#303030">60</text>
<line x1="404.28" x2="404.28" y1="90.5" y2="88.5" stroke="#333333" stroke-width="0.7"/>
<text x="404.28" y="104.9" font-size="10.4" text-anchor="middle" font-weight="normal" fill="#303030">80</text>
<line x1="439.40" x2="439.40" y1="90.5" y2="88.5" stroke="#333333" stroke-width="0.7"/>
<text x="439.40" y="104.9" font-size="10.4" text-anchor="middle" font-weight="normal" fill="#303030">100</text>
<line x1="263.5" x2="265.5" y1="35.5" y2="35.5" stroke="#333333" stroke-width="0.7"/>
<text x="260.5" y="39.7" font-size="10.4" text-anchor="end" font-weight="normal" fill="#303030">5</text>
<line x1="263.5" x2="265.5" y1="60.7" y2="60.7" stroke="#333333" stroke-width="0.7"/>
<text x="260.5" y="64.9" font-size="10.4" text-anchor="end" font-weight="normal" fill="#303030">0</text>
<line x1="263.5" x2="265.5" y1="86.0" y2="86.0" stroke="#333333" stroke-width="0.7"/>
<text x="260.5" y="90.2" font-size="10.4" text-anchor="end" font-weight="normal" fill="#303030">-5</text>
<rect x="263.5" y="15.2" width="177.20" height="9.40" fill="#fff" stroke="#dadada" stroke-width="0.8"/>
<rect x="347.9" y="14.899999999999999" width="65.00" height="10.00" fill="#8c8c8c"/>
<path d="M388.30,3.10 L390.40,1.20 L390.40,6.40" fill="none" stroke="#000" stroke-width="1.35" stroke-linejoin="bevel"/>
<text x="314.1" y="11.8" font-size="11.15" text-anchor="start" font-weight="bold" fill="#000">Pelvis Frontal</text>
<text x="246.2" y="53.5" font-size="11.4" text-anchor="middle" font-weight="normal" fill="#262626" transform="rotate(-90 246.2 53.5)">Abd/Add [Deg]</text>
<clipPath id="clippt"><rect x="498.3" y="24.3" width="175.7" height="65.7"/></clipPath>
<g clip-path="url(#clippt)">
<path d="M498.3,38.75 499.3,38.66 500.3,38.61 501.3,38.65 502.3,38.80 503.3,39.03 504.3,39.33 505.3,39.70 506.3,40.12 507.3,40.57 508.3,41.04 509.3,41.53 510.3,42.00 511.3,42.47 512.3,42.90 513.3,43.28 514.3,43.61 515.3,43.87 516.3,44.05 517.3,44.14 518.3,44.12 519.3,44.02 520.3,43.84 521.3,43.61 522.3,43.34 523.3,43.06 524.3,42.78 525.3,42.52 526.3,42.28 527.3,42.07 528.3,41.88 529.3,41.73 530.3,41.60 531.3,41.51 532.3,41.44 533.3,41.42 534.3,41.42 535.3,41.46 536.3,41.54 537.3,41.66 538.3,41.82 539.3,42.02 540.3,42.26 541.3,42.54 542.3,42.87 543.3,43.23 544.3,43.63 545.3,44.06 546.3,44.52 547.3,45.02 548.3,45.54 549.3,46.08 550.3,46.65 551.3,47.23 552.3,47.84 553.3,48.46 554.3,49.09 555.3,49.74 556.3,50.39 557.3,51.05 558.3,51.72 559.3,52.38 560.3,53.05 561.3,53.71 562.3,54.37 563.3,55.02 564.3,55.66 565.3,56.29 566.3,56.90 567.3,57.50 568.3,58.08 569.3,58.64 570.3,59.18 571.3,59.69 572.3,60.17 573.3,60.62 574.3,61.05 575.3,61.43 576.3,61.78 577.3,62.09 578.3,62.37 579.3,62.61 580.3,62.81 581.3,62.98 582.3,63.12 583.3,63.24 584.3,63.33 585.3,63.39 586.3,63.43 587.3,63.46 588.3,63.46 589.3,63.45 590.3,63.43 591.3,63.39 592.3,63.35 593.3,63.30 594.3,63.24 595.3,63.18 596.3,63.13 597.3,63.07 598.3,63.01 599.3,62.96 600.3,62.92 601.3,62.89 602.3,62.86 603.3,62.86 604.3,62.86 605.3,62.89 606.3,62.94 607.3,63.00 608.3,63.09 609.3,63.19 610.3,63.31 611.3,63.44 612.3,63.57 613.3,63.71 614.3,63.85 615.3,63.99 616.3,64.12 617.3,64.25 618.3,64.36 619.3,64.45 620.3,64.53 621.3,64.58 622.3,64.61 623.3,64.61 624.3,64.58 625.3,64.51 626.3,64.41 627.3,64.27 628.3,64.11 629.3,63.90 630.3,63.67 631.3,63.40 632.3,63.10 633.3,62.77 634.3,62.41 635.3,62.02 636.3,61.60 637.3,61.16 638.3,60.68 639.3,60.18 640.3,59.65 641.3,59.09 642.3,58.51 643.3,57.90 644.3,57.27 645.3,56.62 646.3,55.95 647.3,55.26 648.3,54.57 649.3,53.85 650.3,53.13 651.3,52.41 652.3,51.67 653.3,50.93 654.3,50.19 655.3,49.46 656.3,48.72 657.3,47.99 658.3,47.27 659.3,46.55 660.3,45.85 661.3,45.16 662.3,44.49 663.3,43.83 664.3,43.19 665.3,42.58 666.3,41.99 667.3,41.42 668.3,40.88 669.3,40.38 670.3,39.90 671.3,39.47 672.3,39.07 673.3,38.76 673.8,38.65 L673.8,55.20 672.8,55.40 671.8,55.67 670.8,55.99 669.8,56.33 668.8,56.70 667.8,57.08 666.8,57.49 665.8,57.91 664.8,58.35 663.8,58.81 662.8,59.29 661.8,59.78 660.8,60.29 659.8,60.82 658.8,61.36 657.8,61.91 656.8,62.48 655.8,63.06 654.8,63.65 653.8,64.25 652.8,64.86 651.8,65.48 650.8,66.11 649.8,66.74 648.8,67.38 647.8,68.03 646.8,68.69 645.8,69.35 644.8,70.01 643.8,70.68 642.8,71.35 641.8,72.02 640.8,72.69 639.8,73.36 638.8,74.03 637.8,74.69 636.8,75.34 635.8,75.99 634.8,76.62 633.8,77.24 632.8,77.85 631.8,78.43 630.8,79.00 629.8,79.54 628.8,80.06 627.8,80.56 626.8,81.03 625.8,81.46 624.8,81.86 623.8,82.23 622.8,82.57 621.8,82.87 620.8,83.14 619.8,83.38 618.8,83.59 617.8,83.78 616.8,83.94 615.8,84.07 614.8,84.18 613.8,84.27 612.8,84.34 611.8,84.40 610.8,84.43 609.8,84.46 608.8,84.47 607.8,84.46 606.8,84.45 605.8,84.43 604.8,84.40 603.8,84.36 602.8,84.32 601.8,84.28 600.8,84.23 599.8,84.17 598.8,84.12 597.8,84.06 596.8,83.99 595.8,83.91 594.8,83.83 593.8,83.73 592.8,83.63 591.8,83.51 590.8,83.38 589.8,83.23 588.8,83.07 587.8,82.89 586.8,82.70 585.8,82.49 584.8,82.26 583.8,82.03 582.8,81.78 581.8,81.52 580.8,81.25 579.8,80.98 578.8,80.71 577.8,80.42 576.8,80.14 575.8,79.86 574.8,79.57 573.8,79.27 572.8,78.97 571.8,78.67 570.8,78.37 569.8,78.05 568.8,77.74 567.8,77.41 566.8,77.08 565.8,76.75 564.8,76.40 563.8,76.05 562.8,75.69 561.8,75.33 560.8,74.95 559.8,74.57 558.8,74.17 557.8,73.77 556.8,73.36 555.8,72.94 554.8,72.51 553.8,72.07 552.8,71.63 551.8,71.18 550.8,70.73 549.8,70.29 548.8,69.84 547.8,69.40 546.8,68.97 545.8,68.54 544.8,68.12 543.8,67.71 542.8,67.31 541.8,66.93 540.8,66.56 539.8,66.21 538.8,65.88 537.8,65.56 536.8,65.28 535.8,65.01 534.8,64.77 533.8,64.55 532.8,64.36 531.8,64.19 530.8,64.03 529.8,63.90 528.8,63.77 527.8,63.67 526.8,63.57 525.8,63.48 524.8,63.40 523.8,63.33 522.8,63.26 521.8,63.19 520.8,63.12 519.8,63.05 518.8,62.98 517.8,62.91 516.8,62.82 515.8,62.73 514.8,62.62 513.8,62.51 512.8,62.38 511.8,62.24 510.8,62.08 509.8,61.90 508.8,61.70 507.8,61.48 506.8,61.24 505.8,60.97 504.8,60.67 503.8,60.35 502.8,60.00 501.8,59.62 500.8,59.21 499.8,58.77 498.8,58.38 498.3,58.23 Z" fill="#0000ff" fill-opacity="0.2" stroke="none"/>
<path d="M498.3,29.82 499.3,30.30 500.3,30.94 501.3,31.62 502.3,32.29 503.3,32.96 504.3,33.61 505.3,34.24 506.3,34.85 507.3,35.45 508.3,36.03 509.3,36.59 510.3,37.12 511.3,37.63 512.3,38.11 513.3,38.57 514.3,39.00 515.3,39.39 516.3,39.76 517.3,40.09 518.3,40.38 519.3,40.64 520.3,40.86 521.3,41.05 522.3,41.19 523.3,41.31 524.3,41.39 525.3,41.46 526.3,41.51 527.3,41.56 528.3,41.62 529.3,41.69 530.3,41.78 531.3,41.89 532.3,42.04 533.3,42.24 534.3,42.48 535.3,42.79 536.3,43.16 537.3,43.60 538.3,44.13 539.3,44.75 540.3,45.46 541.3,46.26 542.3,47.15 543.3,48.11 544.3,49.13 545.3,50.19 546.3,51.28 547.3,52.39 548.3,53.50 549.3,54.60 550.3,55.67 551.3,56.71 552.3,57.70 553.3,58.63 554.3,59.50 555.3,60.31 556.3,61.07 557.3,61.77 558.3,62.42 559.3,63.02 560.3,63.57 561.3,64.08 562.3,64.54 563.3,64.97 564.3,65.35 565.3,65.71 566.3,66.02 567.3,66.31 568.3,66.58 569.3,66.81 570.3,67.02 571.3,67.22 572.3,67.39 573.3,67.55 574.3,67.69 575.3,67.82 576.3,67.95 577.3,68.07 578.3,68.18 579.3,68.28 580.3,68.38 581.3,68.47 582.3,68.55 583.3,68.62 584.3,68.69 585.3,68.74 586.3,68.78 587.3,68.82 588.3,68.84 589.3,68.85 590.3,68.85 591.3,68.84 592.3,68.82 593.3,68.78 594.3,68.73 595.3,68.68 596.3,68.61 597.3,68.54 598.3,68.47 599.3,68.39 600.3,68.30 601.3,68.22 602.3,68.13 603.3,68.04 604.3,67.96 605.3,67.88 606.3,67.80 607.3,67.72 608.3,67.66 609.3,67.60 610.3,67.55 611.3,67.51 612.3,67.48 613.3,67.45 614.3,67.44 615.3,67.44 616.3,67.43 617.3,67.41 618.3,67.39 619.3,67.35 620.3,67.30 621.3,67.22 622.3,67.11 623.3,66.97 624.3,66.79 625.3,66.56 626.3,66.29 627.3,65.97 628.3,65.59 629.3,65.15 630.3,64.65 631.3,64.08 632.3,63.45 633.3,62.76 634.3,62.01 635.3,61.22 636.3,60.38 637.3,59.51 638.3,58.60 639.3,57.66 640.3,56.70 641.3,55.72 642.3,54.73 643.3,53.74 644.3,52.74 645.3,51.74 646.3,50.74 647.3,49.75 648.3,48.77 649.3,47.80 650.3,46.84 651.3,45.90 652.3,44.96 653.3,44.04 654.3,43.14 655.3,42.26 656.3,41.39 657.3,40.54 658.3,39.72 659.3,38.91 660.3,38.13 661.3,37.38 662.3,36.65 663.3,35.95 664.3,35.28 665.3,34.63 666.3,33.99 667.3,33.38 668.3,32.78 669.3,32.20 670.3,31.62 671.3,31.06 672.3,30.52 673.3,30.05 673.8,29.88 L673.8,47.97 672.8,48.08 671.8,48.25 670.8,48.48 669.8,48.75 668.8,49.06 667.8,49.41 666.8,49.79 665.8,50.22 664.8,50.68 663.8,51.17 662.8,51.69 661.8,52.24 660.8,52.82 659.8,53.43 658.8,54.06 657.8,54.72 656.8,55.40 655.8,56.09 654.8,56.81 653.8,57.55 652.8,58.30 651.8,59.06 650.8,59.84 649.8,60.62 648.8,61.42 647.8,62.22 646.8,63.03 645.8,63.85 644.8,64.66 643.8,65.48 642.8,66.30 641.8,67.11 640.8,67.93 639.8,68.73 638.8,69.53 637.8,70.31 636.8,71.08 635.8,71.84 634.8,72.57 633.8,73.28 632.8,73.97 631.8,74.62 630.8,75.25 629.8,75.85 628.8,76.41 627.8,76.93 626.8,77.41 625.8,77.84 624.8,78.23 623.8,78.57 622.8,78.87 621.8,79.13 620.8,79.37 619.8,79.59 618.8,79.80 617.8,80.01 616.8,80.22 615.8,80.45 614.8,80.68 613.8,80.94 612.8,81.21 611.8,81.50 610.8,81.82 609.8,82.17 608.8,82.54 607.8,82.95 606.8,83.39 605.8,83.86 604.8,84.35 603.8,84.85 602.8,85.34 601.8,85.82 600.8,86.25 599.8,86.64 598.8,86.98 597.8,87.28 596.8,87.52 595.8,87.73 594.8,87.88 593.8,88.00 592.8,88.08 591.8,88.11 590.8,88.11 589.8,88.08 588.8,88.02 587.8,87.92 586.8,87.79 585.8,87.64 584.8,87.46 583.8,87.25 582.8,87.03 581.8,86.78 580.8,86.52 579.8,86.23 578.8,85.94 577.8,85.62 576.8,85.30 575.8,84.96 574.8,84.62 573.8,84.26 572.8,83.90 571.8,83.53 570.8,83.15 569.8,82.76 568.8,82.37 567.8,81.97 566.8,81.57 565.8,81.16 564.8,80.76 563.8,80.35 562.8,79.94 561.8,79.53 560.8,79.12 559.8,78.71 558.8,78.31 557.8,77.90 556.8,77.51 555.8,77.11 554.8,76.70 553.8,76.29 552.8,75.86 551.8,75.40 550.8,74.90 549.8,74.37 548.8,73.80 547.8,73.19 546.8,72.54 545.8,71.87 544.8,71.18 543.8,70.48 542.8,69.76 541.8,69.06 540.8,68.35 539.8,67.67 538.8,67.00 537.8,66.36 536.8,65.76 535.8,65.19 534.8,64.67 533.8,64.20 532.8,63.76 531.8,63.37 530.8,63.01 529.8,62.68 528.8,62.38 527.8,62.11 526.8,61.85 525.8,61.61 524.8,61.38 523.8,61.17 522.8,60.95 521.8,60.74 520.8,60.53 519.8,60.31 518.8,60.09 517.8,59.85 516.8,59.59 515.8,59.32 514.8,59.03 513.8,58.74 512.8,58.42 511.8,58.10 510.8,57.77 509.8,57.43 508.8,57.08 507.8,56.73 506.8,56.37 505.8,56.02 504.8,55.66 503.8,55.30 502.8,54.95 501.8,54.60 500.8,54.25 499.8,53.92 498.8,53.64 498.3,53.54 Z" fill="#000000" fill-opacity="0.2" stroke="none"/>
<line x1="498.3" x2="674.0" y1="66.4" y2="66.4" stroke="#7c7c7c" stroke-width="1.0"/>
<path d="M498.3,40.70 499.3,41.09 500.3,41.61 501.3,42.16 502.3,42.71 503.3,43.26 504.3,43.79 505.3,44.31 506.3,44.82 507.3,45.32 508.3,45.80 509.3,46.26 510.3,46.71 511.3,47.14 512.3,47.55 513.3,47.95 514.3,48.31 515.3,48.66 516.3,48.98 517.3,49.28 518.3,49.55 519.3,49.80 520.3,50.03 521.3,50.25 522.3,50.46 523.3,50.67 524.3,50.87 525.3,51.08 526.3,51.30 527.3,51.53 528.3,51.78 529.3,52.05 530.3,52.35 531.3,52.68 532.3,53.05 533.3,53.46 534.3,53.91 535.3,54.41 536.3,54.94 537.3,55.51 538.3,56.12 539.3,56.76 540.3,57.42 541.3,58.10 542.3,58.81 543.3,59.54 544.3,60.28 545.3,61.03 546.3,61.78 547.3,62.55 548.3,63.31 549.3,64.07 550.3,64.83 551.3,65.58 552.3,66.32 553.3,67.05 554.3,67.75 555.3,68.44 556.3,69.10 557.3,69.74 558.3,70.34 559.3,70.91 560.3,71.46 561.3,71.97 562.3,72.45 563.3,72.90 564.3,73.33 565.3,73.73 566.3,74.11 567.3,74.47 568.3,74.81 569.3,75.13 570.3,75.43 571.3,75.72 572.3,75.99 573.3,76.25 574.3,76.49 575.3,76.73 576.3,76.96 577.3,77.18 578.3,77.39 579.3,77.59 580.3,77.79 581.3,77.96 582.3,78.13 583.3,78.27 584.3,78.40 585.3,78.50 586.3,78.58 587.3,78.64 588.3,78.67 589.3,78.67 590.3,78.64 591.3,78.58 592.3,78.49 593.3,78.37 594.3,78.22 595.3,78.06 596.3,77.87 597.3,77.68 598.3,77.48 599.3,77.27 600.3,77.07 601.3,76.87 602.3,76.68 603.3,76.50 604.3,76.34 605.3,76.21 606.3,76.10 607.3,76.02 608.3,75.97 609.3,75.93 610.3,75.91 611.3,75.90 612.3,75.89 613.3,75.87 614.3,75.84 615.3,75.78 616.3,75.70 617.3,75.58 618.3,75.42 619.3,75.21 620.3,74.95 621.3,74.64 622.3,74.29 623.3,73.90 624.3,73.46 625.3,72.98 626.3,72.47 627.3,71.92 628.3,71.34 629.3,70.73 630.3,70.08 631.3,69.41 632.3,68.71 633.3,67.99 634.3,67.25 635.3,66.49 636.3,65.71 637.3,64.92 638.3,64.11 639.3,63.29 640.3,62.46 641.3,61.62 642.3,60.78 643.3,59.93 644.3,59.08 645.3,58.22 646.3,57.37 647.3,56.52 648.3,55.67 649.3,54.84 650.3,54.01 651.3,53.19 652.3,52.38 653.3,51.58 654.3,50.80 655.3,50.04 656.3,49.30 657.3,48.58 658.3,47.88 659.3,47.21 660.3,46.56 661.3,45.94 662.3,45.36 663.3,44.80 664.3,44.28 665.3,43.80 666.3,43.35 667.3,42.94 668.3,42.58 669.3,42.26 670.3,41.98 671.3,41.75 672.3,41.57 673.3,41.45 673.8,41.41" fill="none" stroke="#0a0a28" stroke-width="1.0" stroke-linejoin="round"/>
<path d="M498.3,48.48 499.3,48.63 500.3,48.88 501.3,49.19 502.3,49.56 503.3,49.96 504.3,50.39 505.3,50.83 506.3,51.27 507.3,51.69 508.3,52.10 509.3,52.46 510.3,52.79 511.3,53.08 512.3,53.33 513.3,53.54 514.3,53.70 515.3,53.82 516.3,53.90 517.3,53.93 518.3,53.91 519.3,53.86 520.3,53.77 521.3,53.65 522.3,53.51 523.3,53.36 524.3,53.19 525.3,53.01 526.3,52.84 527.3,52.67 528.3,52.51 529.3,52.38 530.3,52.27 531.3,52.19 532.3,52.15 533.3,52.14 534.3,52.19 535.3,52.28 536.3,52.42 537.3,52.60 538.3,52.82 539.3,53.08 540.3,53.38 541.3,53.71 542.3,54.07 543.3,54.46 544.3,54.88 545.3,55.32 546.3,55.79 547.3,56.28 548.3,56.78 549.3,57.31 550.3,57.85 551.3,58.39 552.3,58.95 553.3,59.52 554.3,60.09 555.3,60.67 556.3,61.24 557.3,61.82 558.3,62.39 559.3,62.96 560.3,63.51 561.3,64.06 562.3,64.59 563.3,65.12 564.3,65.62 565.3,66.10 566.3,66.57 567.3,67.02 568.3,67.45 569.3,67.86 570.3,68.25 571.3,68.63 572.3,68.99 573.3,69.33 574.3,69.65 575.3,69.96 576.3,70.25 577.3,70.53 578.3,70.79 579.3,71.03 580.3,71.26 581.3,71.48 582.3,71.68 583.3,71.86 584.3,72.03 585.3,72.19 586.3,72.33 587.3,72.46 588.3,72.58 589.3,72.68 590.3,72.78 591.3,72.86 592.3,72.92 593.3,72.98 594.3,73.02 595.3,73.06 596.3,73.08 597.3,73.09 598.3,73.09 599.3,73.08 600.3,73.06 601.3,73.03 602.3,73.00 603.3,72.96 604.3,72.91 605.3,72.87 606.3,72.82 607.3,72.78 608.3,72.75 609.3,72.73 610.3,72.72 611.3,72.72 612.3,72.74 613.3,72.78 614.3,72.83 615.3,72.88 616.3,72.93 617.3,72.97 618.3,72.98 619.3,72.96 620.3,72.92 621.3,72.84 622.3,72.73 623.3,72.58 624.3,72.40 625.3,72.19 626.3,71.95 627.3,71.67 628.3,71.37 629.3,71.04 630.3,70.68 631.3,70.30 632.3,69.90 633.3,69.48 634.3,69.04 635.3,68.58 636.3,68.11 637.3,67.62 638.3,67.13 639.3,66.62 640.3,66.10 641.3,65.58 642.3,65.05 643.3,64.52 644.3,63.98 645.3,63.44 646.3,62.89 647.3,62.34 648.3,61.77 649.3,61.20 650.3,60.63 651.3,60.04 652.3,59.45 653.3,58.84 654.3,58.23 655.3,57.60 656.3,56.97 657.3,56.32 658.3,55.66 659.3,54.99 660.3,54.30 661.3,53.61 662.3,52.92 663.3,52.23 664.3,51.55 665.3,50.88 666.3,50.23 667.3,49.61 668.3,49.01 669.3,48.45 670.3,47.94 671.3,47.47 672.3,47.06 673.3,46.74 673.8,46.63" fill="none" stroke="#0808d0" stroke-width="1.15" stroke-linejoin="round"/>
</g>
<line x1="606.9" x2="606.9" y1="24.3" y2="90.0" stroke="#6e6e6e" stroke-width="1.0"/>
<line x1="498.5" x2="498.5" y1="24.3" y2="90.5" stroke="#c4c4c4" stroke-width="1"/>
<line x1="498.0" x2="674.5" y1="90.5" y2="90.5" stroke="#7a7a7a" stroke-width="1"/>
<text x="498.30" y="104.9" font-size="10.4" text-anchor="middle" font-weight="normal" fill="#303030">0</text>
<line x1="533.44" x2="533.44" y1="90.5" y2="88.5" stroke="#333333" stroke-width="0.7"/>
<text x="533.44" y="104.9" font-size="10.4" text-anchor="middle" font-weight="normal" fill="#303030">20</text>
<line x1="568.58" x2="568.58" y1="90.5" y2="88.5" stroke="#333333" stroke-width="0.7"/>
<text x="568.58" y="104.9" font-size="10.4" text-anchor="middle" font-weight="normal" fill="#303030">40</text>
<line x1="603.72" x2="603.72" y1="90.5" y2="88.5" stroke="#333333" stroke-width="0.7"/>
<text x="603.72" y="104.9" font-size="10.4" text-anchor="middle" font-weight="normal" fill="#303030">60</text>
<line x1="638.86" x2="638.86" y1="90.5" y2="88.5" stroke="#333333" stroke-width="0.7"/>
<text x="638.86" y="104.9" font-size="10.4" text-anchor="middle" font-weight="normal" fill="#303030">80</text>
<line x1="674.00" x2="674.00" y1="90.5" y2="88.5" stroke="#333333" stroke-width="0.7"/>
<text x="674.00" y="104.9" font-size="10.4" text-anchor="middle" font-weight="normal" fill="#303030">100</text>
<line x1="498.5" x2="500.5" y1="29.8" y2="29.8" stroke="#333333" stroke-width="0.7"/>
<text x="495.0" y="34.0" font-size="10.4" text-anchor="end" font-weight="normal" fill="#303030">10</text>
<line x1="498.5" x2="500.5" y1="48.1" y2="48.1" stroke="#333333" stroke-width="0.7"/>
<text x="495.0" y="52.300000000000004" font-size="10.4" text-anchor="end" font-weight="normal" fill="#303030">5</text>
<line x1="498.5" x2="500.5" y1="66.4" y2="66.4" stroke="#333333" stroke-width="0.7"/>
<text x="495.0" y="70.60000000000001" font-size="10.4" text-anchor="end" font-weight="normal" fill="#303030">0</text>
<line x1="498.5" x2="500.5" y1="84.6" y2="84.6" stroke="#333333" stroke-width="0.7"/>
<text x="495.0" y="88.8" font-size="10.4" text-anchor="end" font-weight="normal" fill="#303030">-5</text>
<rect x="498.5" y="15.4" width="176.00" height="8.90" fill="#fff" stroke="#dadada" stroke-width="0.8"/>
<path d="M632.50,3.10 L634.60,1.20 L634.60,6.40" fill="none" stroke="#000" stroke-width="1.35" stroke-linejoin="bevel"/>
<text x="532.9" y="11.8" font-size="11.15" text-anchor="start" font-weight="bold" fill="#000">Pelvis Transversal</text>
<text x="478.4" y="52.85" font-size="11.4" text-anchor="middle" font-weight="normal" fill="#262626" transform="rotate(-90 478.4 52.85)">Ext Rot/Int Rot [Deg]</text>
<clipPath id="cliphs"><rect x="32.4" y="146.4" width="174.1" height="65.69999999999999"/></clipPath>
<g clip-path="url(#cliphs)">
<path d="M32.4,146.85 33.4,146.79 34.4,146.71 35.4,146.67 36.4,146.69 37.4,146.77 38.4,146.90 39.4,147.09 40.4,147.32 41.4,147.61 42.4,147.94 43.4,148.30 44.4,148.71 45.4,149.15 46.4,149.62 47.4,150.12 48.4,150.65 49.4,151.20 50.4,151.77 51.4,152.35 52.4,152.95 53.4,153.56 54.4,154.17 55.4,154.79 56.4,155.42 57.4,156.04 58.4,156.67 59.4,157.29 60.4,157.92 61.4,158.56 62.4,159.20 63.4,159.85 64.4,160.51 65.4,161.18 66.4,161.86 67.4,162.55 68.4,163.25 69.4,163.97 70.4,164.71 71.4,165.46 72.4,166.23 73.4,167.03 74.4,167.84 75.4,168.67 76.4,169.53 77.4,170.41 78.4,171.32 79.4,172.25 80.4,173.22 81.4,174.21 82.4,175.22 83.4,176.25 84.4,177.30 85.4,178.35 86.4,179.41 87.4,180.46 88.4,181.50 89.4,182.53 90.4,183.54 91.4,184.53 92.4,185.49 93.4,186.41 94.4,187.29 95.4,188.13 96.4,188.93 97.4,189.70 98.4,190.43 99.4,191.14 100.4,191.83 101.4,192.51 102.4,193.17 103.4,193.83 104.4,194.48 105.4,195.13 106.4,195.76 107.4,196.38 108.4,196.98 109.4,197.56 110.4,198.12 111.4,198.64 112.4,199.13 113.4,199.58 114.4,199.98 115.4,200.34 116.4,200.65 117.4,200.91 118.4,201.11 119.4,201.24 120.4,201.31 121.4,201.30 122.4,201.22 123.4,201.07 124.4,200.83 125.4,200.50 126.4,200.09 127.4,199.58 128.4,198.97 129.4,198.27 130.4,197.46 131.4,196.56 132.4,195.54 133.4,194.41 134.4,193.17 135.4,191.82 136.4,190.36 137.4,188.81 138.4,187.18 139.4,185.48 140.4,183.73 141.4,181.94 142.4,180.13 143.4,178.31 144.4,176.48 145.4,174.67 146.4,172.88 147.4,171.13 148.4,169.43 149.4,167.78 150.4,166.19 151.4,164.67 152.4,163.21 153.4,161.82 154.4,160.50 155.4,159.24 156.4,158.04 157.4,156.90 158.4,155.82 159.4,154.81 160.4,153.85 161.4,152.95 162.4,152.12 163.4,151.33 164.4,150.61 165.4,149.94 166.4,149.33 167.4,148.78 168.4,148.27 169.4,147.82 170.4,147.42 171.4,147.08 172.4,146.78 173.4,146.54 174.4,146.34 175.4,146.19 176.4,146.09 177.4,146.03 178.4,146.01 179.4,146.03 180.4,146.08 181.4,146.16 182.4,146.26 183.4,146.39 184.4,146.53 185.4,146.69 186.4,146.87 187.4,147.05 188.4,147.24 189.4,147.43 190.4,147.62 191.4,147.80 192.4,147.98 193.4,148.15 194.4,148.30 195.4,148.43 196.4,148.55 197.4,148.63 198.4,148.69 199.4,148.72 200.4,148.71 201.4,148.67 202.4,148.58 203.4,148.45 204.4,148.27 205.4,148.07 206.4,147.92 L206.4,157.26 205.4,157.26 204.4,157.24 203.4,157.20 202.4,157.13 201.4,157.03 200.4,156.91 199.4,156.77 198.4,156.61 197.4,156.44 196.4,156.25 195.4,156.05 194.4,155.85 193.4,155.65 192.4,155.44 191.4,155.23 190.4,155.03 189.4,154.83 188.4,154.64 187.4,154.47 186.4,154.30 185.4,154.16 184.4,154.04 183.4,153.94 182.4,153.86 181.4,153.81 180.4,153.80 179.4,153.81 178.4,153.86 177.4,153.96 176.4,154.09 175.4,154.27 174.4,154.49 173.4,154.77 172.4,155.09 171.4,155.47 170.4,155.91 169.4,156.41 168.4,156.98 167.4,157.61 166.4,158.30 165.4,159.07 164.4,159.92 163.4,160.84 162.4,161.83 161.4,162.92 160.4,164.08 159.4,165.33 158.4,166.65 157.4,168.03 156.4,169.46 155.4,170.92 154.4,172.39 153.4,173.87 152.4,175.34 151.4,176.81 150.4,178.27 149.4,179.76 148.4,181.28 147.4,182.84 146.4,184.45 145.4,186.13 144.4,187.86 143.4,189.66 142.4,191.50 141.4,193.35 140.4,195.20 139.4,197.00 138.4,198.74 137.4,200.40 136.4,201.98 135.4,203.46 134.4,204.84 133.4,206.12 132.4,207.30 131.4,208.36 130.4,209.30 129.4,210.13 128.4,210.83 127.4,211.41 126.4,211.88 125.4,212.24 124.4,212.49 123.4,212.65 122.4,212.71 121.4,212.69 120.4,212.58 119.4,212.40 118.4,212.15 117.4,211.83 116.4,211.46 115.4,211.03 114.4,210.55 113.4,210.03 112.4,209.47 111.4,208.88 110.4,208.27 109.4,207.63 108.4,206.98 107.4,206.32 106.4,205.65 105.4,204.98 104.4,204.30 103.4,203.62 102.4,202.94 101.4,202.25 100.4,201.55 99.4,200.85 98.4,200.15 97.4,199.44 96.4,198.73 95.4,198.01 94.4,197.28 93.4,196.55 92.4,195.82 91.4,195.08 90.4,194.34 89.4,193.59 88.4,192.84 87.4,192.08 86.4,191.31 85.4,190.54 84.4,189.77 83.4,188.99 82.4,188.20 81.4,187.41 80.4,186.62 79.4,185.81 78.4,185.01 77.4,184.19 76.4,183.37 75.4,182.55 74.4,181.72 73.4,180.89 72.4,180.06 71.4,179.23 70.4,178.40 69.4,177.57 68.4,176.74 67.4,175.91 66.4,175.09 65.4,174.28 64.4,173.47 63.4,172.66 62.4,171.87 61.4,171.08 60.4,170.31 59.4,169.54 58.4,168.79 57.4,168.05 56.4,167.33 55.4,166.62 54.4,165.92 53.4,165.25 52.4,164.59 51.4,163.95 50.4,163.33 49.4,162.73 48.4,162.15 47.4,161.60 46.4,161.07 45.4,160.56 44.4,160.08 43.4,159.63 42.4,159.21 41.4,158.81 40.4,158.45 39.4,158.11 38.4,157.81 37.4,157.54 36.4,157.31 35.4,157.11 34.4,156.94 33.4,156.83 32.4,156.76 Z" fill="#0000ff" fill-opacity="0.2" stroke="none"/>
<path d="M32.4,147.11 33.4,147.10 34.4,147.11 35.4,147.16 36.4,147.25 37.4,147.38 38.4,147.55 39.4,147.76 40.4,148.02 41.4,148.31 42.4,148.63 43.4,149.00 44.4,149.40 45.4,149.83 46.4,150.29 47.4,150.79 48.4,151.31 49.4,151.86 50.4,152.44 51.4,153.05 52.4,153.69 53.4,154.34 54.4,155.02 55.4,155.72 56.4,156.45 57.4,157.19 58.4,157.95 59.4,158.73 60.4,159.52 61.4,160.33 62.4,161.15 63.4,161.98 64.4,162.83 65.4,163.69 66.4,164.55 67.4,165.42 68.4,166.30 69.4,167.19 70.4,168.08 71.4,168.97 72.4,169.86 73.4,170.76 74.4,171.65 75.4,172.54 76.4,173.43 77.4,174.32 78.4,175.20 79.4,176.08 80.4,176.95 81.4,177.81 82.4,178.67 83.4,179.53 84.4,180.40 85.4,181.29 86.4,182.19 87.4,183.11 88.4,184.07 89.4,185.06 90.4,186.08 91.4,187.11 92.4,188.14 93.4,189.13 94.4,190.04 95.4,190.86 96.4,191.59 97.4,192.24 98.4,192.82 99.4,193.34 100.4,193.83 101.4,194.29 102.4,194.74 103.4,195.20 104.4,195.67 105.4,196.14 106.4,196.63 107.4,197.11 108.4,197.60 109.4,198.07 110.4,198.53 111.4,198.98 112.4,199.40 113.4,199.80 114.4,200.17 115.4,200.50 116.4,200.79 117.4,201.03 118.4,201.23 119.4,201.37 120.4,201.45 121.4,201.47 122.4,201.42 123.4,201.29 124.4,201.09 125.4,200.80 126.4,200.43 127.4,199.96 128.4,199.41 129.4,198.75 130.4,197.98 131.4,197.11 132.4,196.13 133.4,195.03 134.4,193.82 135.4,192.48 136.4,191.03 137.4,189.48 138.4,187.84 139.4,186.12 140.4,184.35 141.4,182.54 142.4,180.72 143.4,178.91 144.4,177.13 145.4,175.37 146.4,173.64 147.4,171.95 148.4,170.30 149.4,168.69 150.4,167.12 151.4,165.60 152.4,164.12 153.4,162.70 154.4,161.34 155.4,160.03 156.4,158.79 157.4,157.61 158.4,156.49 159.4,155.44 160.4,154.44 161.4,153.51 162.4,152.65 163.4,151.84 164.4,151.09 165.4,150.40 166.4,149.77 167.4,149.19 168.4,148.67 169.4,148.21 170.4,147.81 171.4,147.45 172.4,147.15 173.4,146.91 174.4,146.71 175.4,146.57 176.4,146.48 177.4,146.43 178.4,146.42 179.4,146.45 180.4,146.52 181.4,146.61 182.4,146.74 183.4,146.89 184.4,147.06 185.4,147.25 186.4,147.45 187.4,147.66 188.4,147.88 189.4,148.11 190.4,148.33 191.4,148.55 192.4,148.76 193.4,148.96 194.4,149.15 195.4,149.32 196.4,149.47 197.4,149.59 198.4,149.69 199.4,149.75 200.4,149.78 201.4,149.78 202.4,149.72 203.4,149.63 204.4,149.49 205.4,149.32 206.4,149.19 L206.4,154.64 205.4,154.71 204.4,154.78 203.4,154.84 202.4,154.87 201.4,154.87 200.4,154.85 199.4,154.80 198.4,154.73 197.4,154.64 196.4,154.54 195.4,154.43 194.4,154.30 193.4,154.17 192.4,154.04 191.4,153.90 190.4,153.77 189.4,153.64 188.4,153.51 187.4,153.40 186.4,153.29 185.4,153.21 184.4,153.14 183.4,153.09 182.4,153.06 181.4,153.06 180.4,153.09 179.4,153.15 178.4,153.24 177.4,153.37 176.4,153.54 175.4,153.75 174.4,154.01 173.4,154.31 172.4,154.67 171.4,155.08 170.4,155.54 169.4,156.06 168.4,156.65 167.4,157.29 166.4,158.01 165.4,158.79 164.4,159.65 163.4,160.58 162.4,161.59 161.4,162.68 160.4,163.85 159.4,165.10 158.4,166.42 157.4,167.80 156.4,169.21 155.4,170.65 154.4,172.10 153.4,173.54 152.4,174.96 151.4,176.35 150.4,177.74 149.4,179.14 148.4,180.57 147.4,182.05 146.4,183.60 145.4,185.23 144.4,186.97 143.4,188.81 142.4,190.74 141.4,192.70 140.4,194.65 139.4,196.55 138.4,198.36 137.4,200.07 136.4,201.65 135.4,203.12 134.4,204.47 133.4,205.71 132.4,206.83 131.4,207.84 130.4,208.74 129.4,209.53 128.4,210.21 127.4,210.78 126.4,211.25 125.4,211.63 124.4,211.91 123.4,212.11 122.4,212.23 121.4,212.26 120.4,212.23 119.4,212.12 118.4,211.95 117.4,211.72 116.4,211.44 115.4,211.11 114.4,210.73 113.4,210.31 112.4,209.85 111.4,209.36 110.4,208.85 109.4,208.31 108.4,207.75 107.4,207.19 106.4,206.61 105.4,206.02 104.4,205.42 103.4,204.81 102.4,204.19 101.4,203.56 100.4,202.93 99.4,202.28 98.4,201.62 97.4,200.95 96.4,200.27 95.4,199.58 94.4,198.88 93.4,198.17 92.4,197.44 91.4,196.71 90.4,195.96 89.4,195.20 88.4,194.43 87.4,193.65 86.4,192.86 85.4,192.05 84.4,191.23 83.4,190.40 82.4,189.55 81.4,188.69 80.4,187.82 79.4,186.93 78.4,186.03 77.4,185.12 76.4,184.20 75.4,183.26 74.4,182.31 73.4,181.36 72.4,180.39 71.4,179.43 70.4,178.46 69.4,177.49 68.4,176.52 67.4,175.56 66.4,174.60 65.4,173.65 64.4,172.70 63.4,171.77 62.4,170.85 61.4,169.95 60.4,169.06 59.4,168.19 58.4,167.35 57.4,166.52 56.4,165.72 55.4,164.95 54.4,164.20 53.4,163.48 52.4,162.79 51.4,162.13 50.4,161.50 49.4,160.90 48.4,160.33 47.4,159.79 46.4,159.29 45.4,158.81 44.4,158.37 43.4,157.97 42.4,157.59 41.4,157.26 40.4,156.96 39.4,156.69 38.4,156.46 37.4,156.27 36.4,156.12 35.4,156.00 34.4,155.92 33.4,155.88 32.4,155.87 Z" fill="#000000" fill-opacity="0.2" stroke="none"/>
<line x1="32.4" x2="206.5" y1="181.4" y2="181.4" stroke="#7c7c7c" stroke-width="1.0"/>
<path d="M32.4,151.86 33.4,151.78 34.4,151.69 35.4,151.63 36.4,151.61 37.4,151.64 38.4,151.71 39.4,151.83 40.4,152.00 41.4,152.22 42.4,152.47 43.4,152.77 44.4,153.11 45.4,153.49 46.4,153.90 47.4,154.36 48.4,154.85 49.4,155.37 50.4,155.93 51.4,156.52 52.4,157.15 53.4,157.80 54.4,158.49 55.4,159.20 56.4,159.94 57.4,160.70 58.4,161.49 59.4,162.31 60.4,163.14 61.4,164.00 62.4,164.88 63.4,165.77 64.4,166.69 65.4,167.62 66.4,168.56 67.4,169.52 68.4,170.50 69.4,171.48 70.4,172.48 71.4,173.49 72.4,174.50 73.4,175.53 74.4,176.56 75.4,177.59 76.4,178.63 77.4,179.67 78.4,180.72 79.4,181.76 80.4,182.80 81.4,183.84 82.4,184.87 83.4,185.90 84.4,186.91 85.4,187.90 86.4,188.88 87.4,189.84 88.4,190.77 89.4,191.68 90.4,192.56 91.4,193.41 92.4,194.23 93.4,195.01 94.4,195.74 95.4,196.44 96.4,197.10 97.4,197.73 98.4,198.32 99.4,198.88 100.4,199.41 101.4,199.92 102.4,200.41 103.4,200.88 104.4,201.34 105.4,201.79 106.4,202.23 107.4,202.66 108.4,203.09 109.4,203.52 110.4,203.93 111.4,204.32 112.4,204.70 113.4,205.05 114.4,205.36 115.4,205.64 116.4,205.88 117.4,206.07 118.4,206.21 119.4,206.29 120.4,206.30 121.4,206.25 122.4,206.13 123.4,205.93 124.4,205.64 125.4,205.27 126.4,204.80 127.4,204.23 128.4,203.56 129.4,202.80 130.4,201.93 131.4,200.98 132.4,199.94 133.4,198.83 134.4,197.64 135.4,196.38 136.4,195.07 137.4,193.70 138.4,192.27 139.4,190.81 140.4,189.31 141.4,187.77 142.4,186.21 143.4,184.63 144.4,183.03 145.4,181.42 146.4,179.81 147.4,178.19 148.4,176.59 149.4,174.99 150.4,173.40 151.4,171.83 152.4,170.29 153.4,168.78 154.4,167.29 155.4,165.85 156.4,164.44 157.4,163.09 158.4,161.78 159.4,160.53 160.4,159.34 161.4,158.22 162.4,157.16 163.4,156.18 164.4,155.26 165.4,154.41 166.4,153.64 167.4,152.92 168.4,152.27 169.4,151.68 170.4,151.16 171.4,150.69 172.4,150.28 173.4,149.93 174.4,149.63 175.4,149.38 176.4,149.19 177.4,149.04 178.4,148.95 179.4,148.90 180.4,148.89 181.4,148.93 182.4,149.02 183.4,149.14 184.4,149.29 185.4,149.48 186.4,149.69 187.4,149.92 188.4,150.17 189.4,150.43 190.4,150.70 191.4,150.96 192.4,151.22 193.4,151.48 194.4,151.72 195.4,151.94 196.4,152.14 197.4,152.30 198.4,152.44 199.4,152.54 200.4,152.59 201.4,152.60 202.4,152.55 203.4,152.44 204.4,152.28 205.4,152.08 206.4,151.92" fill="none" stroke="#0a0a28" stroke-width="1.0" stroke-linejoin="round"/>
<path d="M32.4,151.84 33.4,151.83 34.4,151.83 35.4,151.86 36.4,151.94 37.4,152.05 38.4,152.20 39.4,152.39 40.4,152.62 41.4,152.88 42.4,153.18 43.4,153.51 44.4,153.87 45.4,154.27 46.4,154.70 47.4,155.16 48.4,155.64 49.4,156.16 50.4,156.70 51.4,157.27 52.4,157.86 53.4,158.48 54.4,159.12 55.4,159.79 56.4,160.47 57.4,161.18 58.4,161.90 59.4,162.64 60.4,163.40 61.4,164.18 62.4,164.97 63.4,165.78 64.4,166.60 65.4,167.43 66.4,168.27 67.4,169.12 68.4,169.98 69.4,170.86 70.4,171.73 71.4,172.62 72.4,173.51 73.4,174.40 74.4,175.30 75.4,176.20 76.4,177.10 77.4,178.01 78.4,178.91 79.4,179.81 80.4,180.71 81.4,181.60 82.4,182.49 83.4,183.38 84.4,184.26 85.4,185.13 86.4,186.00 87.4,186.87 88.4,187.72 89.4,188.57 90.4,189.41 91.4,190.24 92.4,191.06 93.4,191.88 94.4,192.68 95.4,193.47 96.4,194.25 97.4,195.02 98.4,195.77 99.4,196.52 100.4,197.25 101.4,197.96 102.4,198.67 103.4,199.35 104.4,200.03 105.4,200.68 106.4,201.32 107.4,201.94 108.4,202.55 109.4,203.13 110.4,203.68 111.4,204.21 112.4,204.70 113.4,205.15 114.4,205.55 115.4,205.91 116.4,206.21 117.4,206.46 118.4,206.64 119.4,206.76 120.4,206.81 121.4,206.78 122.4,206.67 123.4,206.47 124.4,206.19 125.4,205.81 126.4,205.33 127.4,204.75 128.4,204.07 129.4,203.29 130.4,202.40 131.4,201.43 132.4,200.37 133.4,199.23 134.4,198.02 135.4,196.74 136.4,195.40 137.4,194.01 138.4,192.57 139.4,191.09 140.4,189.57 141.4,188.02 142.4,186.45 143.4,184.86 144.4,183.26 145.4,181.65 146.4,180.04 147.4,178.44 148.4,176.84 149.4,175.26 150.4,173.69 151.4,172.14 152.4,170.62 153.4,169.12 154.4,167.66 155.4,166.24 156.4,164.85 157.4,163.52 158.4,162.23 159.4,160.99 160.4,159.82 161.4,158.70 162.4,157.65 163.4,156.67 164.4,155.76 165.4,154.91 166.4,154.13 167.4,153.41 168.4,152.75 169.4,152.16 170.4,151.62 171.4,151.15 172.4,150.73 173.4,150.37 174.4,150.07 175.4,149.82 176.4,149.63 177.4,149.49 178.4,149.40 179.4,149.36 180.4,149.37 181.4,149.43 182.4,149.54 183.4,149.69 184.4,149.88 185.4,150.10 186.4,150.35 187.4,150.62 188.4,150.91 189.4,151.20 190.4,151.49 191.4,151.78 192.4,152.06 193.4,152.32 194.4,152.55 195.4,152.76 196.4,152.92 197.4,153.05 198.4,153.12 199.4,153.15 200.4,153.12 201.4,153.05 202.4,152.93 203.4,152.76 204.4,152.55 205.4,152.33 206.4,152.16" fill="none" stroke="#0808d0" stroke-width="1.15" stroke-linejoin="round"/>
</g>
<line x1="140.4" x2="140.4" y1="146.4" y2="212.1" stroke="#6e6e6e" stroke-width="1.0"/>
<line x1="32.5" x2="32.5" y1="146.4" y2="212.5" stroke="#c4c4c4" stroke-width="1"/>
<line x1="32.0" x2="207.0" y1="212.5" y2="212.5" stroke="#7a7a7a" stroke-width="1"/>
<text x="32.40" y="226.5" font-size="10.4" text-anchor="middle" font-weight="normal" fill="#303030">0</text>
<line x1="67.22" x2="67.22" y1="212.5" y2="210.5" stroke="#333333" stroke-width="0.7"/>
<text x="67.22" y="226.5" font-size="10.4" text-anchor="middle" font-weight="normal" fill="#303030">20</text>
<line x1="102.04" x2="102.04" y1="212.5" y2="210.5" stroke="#333333" stroke-width="0.7"/>
<text x="102.04" y="226.5" font-size="10.4" text-anchor="middle" font-weight="normal" fill="#303030">40</text>
<line x1="136.86" x2="136.86" y1="212.5" y2="210.5" stroke="#333333" stroke-width="0.7"/>
<text x="136.86" y="226.5" font-size="10.4" text-anchor="middle" font-weight="normal" fill="#303030">60</text>
<line x1="171.68" x2="171.68" y1="212.5" y2="210.5" stroke="#333333" stroke-width="0.7"/>
<text x="171.68" y="226.5" font-size="10.4" text-anchor="middle" font-weight="normal" fill="#303030">80</text>
<line x1="206.50" x2="206.50" y1="212.5" y2="210.5" stroke="#333333" stroke-width="0.7"/>
<text x="206.50" y="226.5" font-size="10.4" text-anchor="middle" font-weight="normal" fill="#303030">100</text>
<line x1="32.5" x2="34.5" y1="154.7" y2="154.7" stroke="#333333" stroke-width="0.7"/>
<text x="29.099999999999998" y="158.89999999999998" font-size="10.4" text-anchor="end" font-weight="normal" fill="#303030">20</text>
<line x1="32.5" x2="34.5" y1="181.4" y2="181.4" stroke="#333333" stroke-width="0.7"/>
<text x="29.099999999999998" y="185.6" font-size="10.4" text-anchor="end" font-weight="normal" fill="#303030">0</text>
<line x1="32.5" x2="34.5" y1="208.0" y2="208.0" stroke="#333333" stroke-width="0.7"/>
<text x="29.099999999999998" y="212.2" font-size="10.4" text-anchor="end" font-weight="normal" fill="#303030">-20</text>
<rect x="32.5" y="136.8" width="176.20" height="9.60" fill="#fff" stroke="#dadada" stroke-width="0.8"/>
<text x="89.9" y="132.6" font-size="11.15" text-anchor="start" font-weight="bold" fill="#000">Hip Sagittal</text>
<text x="9.8" y="174.95" font-size="11.4" text-anchor="middle" font-weight="normal" fill="#262626" transform="rotate(-90 9.8 174.95)">Ext/Flex [Deg]</text>
<clipPath id="cliphf"><rect x="264.2" y="146.3" width="174.8" height="65.89999999999998"/></clipPath>
<g clip-path="url(#cliphf)">
<path d="M264.2,185.48 265.2,184.89 266.2,183.89 267.2,182.63 268.2,181.21 269.2,179.68 270.2,178.07 271.2,176.41 272.2,174.73 273.2,173.06 274.2,171.43 275.2,169.86 276.2,168.40 277.2,167.05 278.2,165.84 279.2,164.75 280.2,163.79 281.2,162.95 282.2,162.21 283.2,161.56 284.2,161.01 285.2,160.53 286.2,160.12 287.2,159.77 288.2,159.48 289.2,159.25 290.2,159.07 291.2,158.94 292.2,158.86 293.2,158.82 294.2,158.81 295.2,158.85 296.2,158.92 297.2,159.03 298.2,159.16 299.2,159.32 300.2,159.49 301.2,159.69 302.2,159.91 303.2,160.14 304.2,160.38 305.2,160.63 306.2,160.88 307.2,161.13 308.2,161.39 309.2,161.64 310.2,161.88 311.2,162.11 312.2,162.33 313.2,162.53 314.2,162.72 315.2,162.88 316.2,163.02 317.2,163.13 318.2,163.21 319.2,163.26 320.2,163.28 321.2,163.25 322.2,163.19 323.2,163.08 324.2,162.93 325.2,162.76 326.2,162.55 327.2,162.32 328.2,162.08 329.2,161.83 330.2,161.58 331.2,161.34 332.2,161.11 333.2,160.90 334.2,160.70 335.2,160.53 336.2,160.39 337.2,160.27 338.2,160.20 339.2,160.16 340.2,160.15 341.2,160.20 342.2,160.29 343.2,160.43 344.2,160.63 345.2,160.88 346.2,161.19 347.2,161.57 348.2,162.02 349.2,162.53 350.2,163.12 351.2,163.79 352.2,164.54 353.2,165.37 354.2,166.27 355.2,167.24 356.2,168.27 357.2,169.35 358.2,170.46 359.2,171.59 360.2,172.74 361.2,173.90 362.2,175.04 363.2,176.17 364.2,177.27 365.2,178.33 366.2,179.34 367.2,180.29 368.2,181.17 369.2,181.99 370.2,182.73 371.2,183.40 372.2,183.99 373.2,184.49 374.2,184.91 375.2,185.23 376.2,185.47 377.2,185.61 378.2,185.67 379.2,185.65 380.2,185.57 381.2,185.41 382.2,185.20 383.2,184.93 384.2,184.62 385.2,184.27 386.2,183.89 387.2,183.48 388.2,183.05 389.2,182.60 390.2,182.15 391.2,181.70 392.2,181.26 393.2,180.82 394.2,180.41 395.2,180.02 396.2,179.66 397.2,179.34 398.2,179.06 399.2,178.83 400.2,178.65 401.2,178.52 402.2,178.43 403.2,178.38 404.2,178.38 405.2,178.41 406.2,178.48 407.2,178.59 408.2,178.73 409.2,178.90 410.2,179.10 411.2,179.32 412.2,179.57 413.2,179.84 414.2,180.13 415.2,180.44 416.2,180.76 417.2,181.09 418.2,181.44 419.2,181.80 420.2,182.16 421.2,182.53 422.2,182.89 423.2,183.25 424.2,183.58 425.2,183.89 426.2,184.15 427.2,184.37 428.2,184.51 429.2,184.59 430.2,184.58 431.2,184.49 432.2,184.33 433.2,184.11 434.2,183.86 435.2,183.60 436.2,183.35 437.2,183.14 438.2,182.99 438.7,182.95 L438.7,192.67 437.7,192.81 436.7,193.01 435.7,193.23 434.7,193.47 433.7,193.71 432.7,193.96 431.7,194.20 430.7,194.42 429.7,194.64 428.7,194.83 427.7,195.00 426.7,195.13 425.7,195.23 424.7,195.29 423.7,195.29 422.7,195.25 421.7,195.14 420.7,194.98 419.7,194.76 418.7,194.50 417.7,194.20 416.7,193.87 415.7,193.55 414.7,193.22 413.7,192.91 412.7,192.64 411.7,192.40 410.7,192.22 409.7,192.08 408.7,191.99 407.7,191.94 406.7,191.94 405.7,191.98 404.7,192.06 403.7,192.18 402.7,192.33 401.7,192.52 400.7,192.73 399.7,192.98 398.7,193.25 397.7,193.55 396.7,193.87 395.7,194.21 394.7,194.56 393.7,194.92 392.7,195.28 391.7,195.65 390.7,196.02 389.7,196.38 388.7,196.74 387.7,197.08 386.7,197.40 385.7,197.70 384.7,197.98 383.7,198.23 382.7,198.45 381.7,198.63 380.7,198.77 379.7,198.87 378.7,198.92 377.7,198.91 376.7,198.85 375.7,198.74 374.7,198.55 373.7,198.30 372.7,197.98 371.7,197.58 370.7,197.10 369.7,196.53 368.7,195.87 367.7,195.11 366.7,194.25 365.7,193.29 364.7,192.23 363.7,191.08 362.7,189.87 361.7,188.59 360.7,187.27 359.7,185.92 358.7,184.55 357.7,183.18 356.7,181.82 355.7,180.48 354.7,179.19 353.7,177.94 352.7,176.76 351.7,175.66 350.7,174.64 349.7,173.69 348.7,172.84 347.7,172.06 346.7,171.37 345.7,170.78 344.7,170.29 343.7,169.89 342.7,169.59 341.7,169.36 340.7,169.22 339.7,169.13 338.7,169.11 337.7,169.13 336.7,169.19 335.7,169.28 334.7,169.39 333.7,169.51 332.7,169.64 331.7,169.76 330.7,169.87 329.7,169.97 328.7,170.05 327.7,170.11 326.7,170.16 325.7,170.20 324.7,170.22 323.7,170.22 322.7,170.21 321.7,170.18 320.7,170.13 319.7,170.07 318.7,170.00 317.7,169.90 316.7,169.79 315.7,169.66 314.7,169.52 313.7,169.36 312.7,169.18 311.7,168.99 310.7,168.77 309.7,168.54 308.7,168.30 307.7,168.04 306.7,167.76 305.7,167.48 304.7,167.19 303.7,166.90 302.7,166.61 301.7,166.33 300.7,166.06 299.7,165.81 298.7,165.58 297.7,165.36 296.7,165.18 295.7,165.03 294.7,164.91 293.7,164.83 292.7,164.80 291.7,164.81 290.7,164.88 289.7,165.00 288.7,165.18 287.7,165.42 286.7,165.73 285.7,166.11 284.7,166.58 283.7,167.12 282.7,167.77 281.7,168.51 280.7,169.38 279.7,170.36 278.7,171.47 277.7,172.73 276.7,174.13 275.7,175.66 274.7,177.31 273.7,179.03 272.7,180.80 271.7,182.56 270.7,184.28 269.7,185.92 268.7,187.44 267.7,188.81 266.7,189.98 265.7,190.89 264.7,191.48 264.2,191.64 Z" fill="#0000ff" fill-opacity="0.2" stroke="none"/>
<path d="M264.2,176.40 265.2,175.52 266.2,174.12 267.2,172.50 268.2,170.82 269.2,169.14 270.2,167.46 271.2,165.80 272.2,164.19 273.2,162.62 274.2,161.13 275.2,159.72 276.2,158.42 277.2,157.22 278.2,156.14 279.2,155.17 280.2,154.31 281.2,153.56 282.2,152.89 283.2,152.31 284.2,151.80 285.2,151.37 286.2,151.00 287.2,150.68 288.2,150.43 289.2,150.22 290.2,150.07 291.2,149.98 292.2,149.93 293.2,149.93 294.2,149.98 295.2,150.08 296.2,150.22 297.2,150.40 298.2,150.63 299.2,150.90 300.2,151.21 301.2,151.56 302.2,151.95 303.2,152.37 304.2,152.83 305.2,153.32 306.2,153.85 307.2,154.41 308.2,154.99 309.2,155.61 310.2,156.25 311.2,156.90 312.2,157.56 313.2,158.22 314.2,158.87 315.2,159.51 316.2,160.12 317.2,160.70 318.2,161.24 319.2,161.72 320.2,162.15 321.2,162.51 322.2,162.80 323.2,163.01 324.2,163.15 325.2,163.21 326.2,163.22 327.2,163.19 328.2,163.11 329.2,163.02 330.2,162.91 331.2,162.79 332.2,162.68 333.2,162.58 334.2,162.51 335.2,162.45 336.2,162.43 337.2,162.45 338.2,162.51 339.2,162.62 340.2,162.78 341.2,162.99 342.2,163.28 343.2,163.63 344.2,164.05 345.2,164.56 346.2,165.16 347.2,165.84 348.2,166.62 349.2,167.51 350.2,168.50 351.2,169.60 352.2,170.83 353.2,172.17 354.2,173.61 355.2,175.14 356.2,176.73 357.2,178.36 358.2,180.00 359.2,181.63 360.2,183.23 361.2,184.76 362.2,186.21 363.2,187.56 364.2,188.81 365.2,189.96 366.2,190.99 367.2,191.92 368.2,192.74 369.2,193.45 370.2,194.06 371.2,194.57 372.2,194.99 373.2,195.31 374.2,195.55 375.2,195.70 376.2,195.78 377.2,195.78 378.2,195.71 379.2,195.58 380.2,195.39 381.2,195.15 382.2,194.86 383.2,194.53 384.2,194.16 385.2,193.76 386.2,193.34 387.2,192.90 388.2,192.45 389.2,191.99 390.2,191.53 391.2,191.07 392.2,190.62 393.2,190.18 394.2,189.76 395.2,189.37 396.2,189.02 397.2,188.69 398.2,188.41 399.2,188.18 400.2,187.99 401.2,187.84 402.2,187.73 403.2,187.66 404.2,187.62 405.2,187.61 406.2,187.63 407.2,187.67 408.2,187.73 409.2,187.81 410.2,187.90 411.2,188.00 412.2,188.11 413.2,188.22 414.2,188.33 415.2,188.44 416.2,188.55 417.2,188.64 418.2,188.73 419.2,188.79 420.2,188.84 421.2,188.87 422.2,188.87 423.2,188.85 424.2,188.80 425.2,188.73 426.2,188.64 427.2,188.52 428.2,188.38 429.2,188.22 430.2,188.03 431.2,187.82 432.2,187.59 433.2,187.34 434.2,187.06 435.2,186.77 436.2,186.45 437.2,186.13 438.2,185.84 438.7,185.73 L438.7,201.16 437.7,201.34 436.7,201.59 435.7,201.86 434.7,202.14 433.7,202.43 432.7,202.70 431.7,202.97 430.7,203.23 429.7,203.46 428.7,203.68 427.7,203.86 426.7,204.02 425.7,204.13 424.7,204.21 423.7,204.24 422.7,204.22 421.7,204.14 420.7,204.01 419.7,203.83 418.7,203.60 417.7,203.33 416.7,203.05 415.7,202.75 414.7,202.46 413.7,202.17 412.7,201.91 411.7,201.68 410.7,201.49 409.7,201.34 408.7,201.23 407.7,201.17 406.7,201.14 405.7,201.16 404.7,201.22 403.7,201.32 402.7,201.46 401.7,201.65 400.7,201.87 399.7,202.14 398.7,202.45 397.7,202.80 396.7,203.18 395.7,203.60 394.7,204.05 393.7,204.52 392.7,205.00 391.7,205.50 390.7,206.00 389.7,206.51 388.7,207.01 387.7,207.50 386.7,207.98 385.7,208.43 384.7,208.86 383.7,209.26 382.7,209.63 381.7,209.95 380.7,210.23 379.7,210.46 378.7,210.62 377.7,210.73 376.7,210.77 375.7,210.74 374.7,210.62 373.7,210.43 372.7,210.14 371.7,209.75 370.7,209.25 369.7,208.64 368.7,207.91 367.7,207.05 366.7,206.05 365.7,204.92 364.7,203.65 363.7,202.27 362.7,200.77 361.7,199.19 360.7,197.52 359.7,195.80 358.7,194.02 357.7,192.22 356.7,190.39 355.7,188.56 354.7,186.75 353.7,184.96 352.7,183.21 351.7,181.52 350.7,179.90 349.7,178.36 348.7,176.92 347.7,175.60 346.7,174.41 345.7,173.38 344.7,172.53 343.7,171.86 342.7,171.36 341.7,171.03 340.7,170.83 339.7,170.76 338.7,170.81 337.7,170.94 336.7,171.15 335.7,171.42 334.7,171.74 333.7,172.09 332.7,172.44 331.7,172.79 330.7,173.13 329.7,173.44 328.7,173.71 327.7,173.94 326.7,174.13 325.7,174.25 324.7,174.32 323.7,174.31 322.7,174.23 321.7,174.07 320.7,173.84 319.7,173.53 318.7,173.17 317.7,172.74 316.7,172.27 315.7,171.76 314.7,171.21 313.7,170.65 312.7,170.06 311.7,169.47 310.7,168.87 309.7,168.28 308.7,167.70 307.7,167.14 306.7,166.61 305.7,166.10 304.7,165.62 303.7,165.18 302.7,164.77 301.7,164.40 300.7,164.08 299.7,163.80 298.7,163.58 297.7,163.40 296.7,163.29 295.7,163.23 294.7,163.23 293.7,163.30 292.7,163.44 291.7,163.66 290.7,163.95 289.7,164.31 288.7,164.76 287.7,165.30 286.7,165.92 285.7,166.64 284.7,167.45 283.7,168.36 282.7,169.38 281.7,170.51 280.7,171.75 279.7,173.12 278.7,174.61 277.7,176.23 276.7,177.98 275.7,179.86 274.7,181.82 273.7,183.85 272.7,185.90 271.7,187.92 270.7,189.90 269.7,191.77 268.7,193.51 267.7,195.07 266.7,196.42 265.7,197.49 264.7,198.18 264.2,198.38 Z" fill="#000000" fill-opacity="0.2" stroke="none"/>
<line x1="264.2" x2="439.0" y1="182.2" y2="182.2" stroke="#7c7c7c" stroke-width="1.0"/>
<path d="M264.2,187.76 265.2,187.16 266.2,186.15 267.2,184.85 268.2,183.39 269.2,181.79 270.2,180.10 271.2,178.35 272.2,176.56 273.2,174.76 274.2,172.98 275.2,171.26 276.2,169.62 277.2,168.08 278.2,166.67 279.2,165.37 280.2,164.19 281.2,163.12 282.2,162.15 283.2,161.28 284.2,160.50 285.2,159.80 286.2,159.18 287.2,158.64 288.2,158.16 289.2,157.76 290.2,157.43 291.2,157.16 292.2,156.95 293.2,156.81 294.2,156.72 295.2,156.70 296.2,156.73 297.2,156.81 298.2,156.95 299.2,157.14 300.2,157.38 301.2,157.66 302.2,157.98 303.2,158.34 304.2,158.73 305.2,159.15 306.2,159.60 307.2,160.07 308.2,160.55 309.2,161.04 310.2,161.54 311.2,162.05 312.2,162.55 313.2,163.06 314.2,163.55 315.2,164.05 316.2,164.53 317.2,164.99 318.2,165.44 319.2,165.86 320.2,166.27 321.2,166.64 322.2,166.99 323.2,167.30 324.2,167.57 325.2,167.81 326.2,168.00 327.2,168.14 328.2,168.24 329.2,168.28 330.2,168.27 331.2,168.20 332.2,168.08 333.2,167.90 334.2,167.70 335.2,167.47 336.2,167.24 337.2,167.04 338.2,166.87 339.2,166.76 340.2,166.72 341.2,166.77 342.2,166.94 343.2,167.23 344.2,167.67 345.2,168.27 346.2,169.04 347.2,169.96 348.2,171.02 349.2,172.20 350.2,173.49 351.2,174.86 352.2,176.33 353.2,177.87 354.2,179.47 355.2,181.12 356.2,182.79 357.2,184.47 358.2,186.13 359.2,187.75 360.2,189.32 361.2,190.81 362.2,192.21 363.2,193.51 364.2,194.73 365.2,195.87 366.2,196.94 367.2,197.95 368.2,198.90 369.2,199.78 370.2,200.59 371.2,201.32 372.2,201.96 373.2,202.51 374.2,202.96 375.2,203.29 376.2,203.51 377.2,203.63 378.2,203.63 379.2,203.54 380.2,203.37 381.2,203.11 382.2,202.78 383.2,202.39 384.2,201.94 385.2,201.44 386.2,200.91 387.2,200.35 388.2,199.76 389.2,199.16 390.2,198.55 391.2,197.95 392.2,197.36 393.2,196.78 394.2,196.24 395.2,195.73 396.2,195.26 397.2,194.84 398.2,194.49 399.2,194.20 400.2,193.97 401.2,193.80 402.2,193.69 403.2,193.63 404.2,193.62 405.2,193.65 406.2,193.72 407.2,193.82 408.2,193.96 409.2,194.11 410.2,194.29 411.2,194.48 412.2,194.68 413.2,194.88 414.2,195.09 415.2,195.29 416.2,195.49 417.2,195.67 418.2,195.84 419.2,195.98 420.2,196.10 421.2,196.18 422.2,196.23 423.2,196.25 424.2,196.23 425.2,196.17 426.2,196.08 427.2,195.95 428.2,195.78 429.2,195.58 430.2,195.33 431.2,195.05 432.2,194.73 433.2,194.37 434.2,193.97 435.2,193.53 436.2,193.05 437.2,192.55 438.2,192.09 438.7,191.93" fill="none" stroke="#0a0a28" stroke-width="1.0" stroke-linejoin="round"/>
<path d="M264.2,188.64 265.2,188.18 266.2,187.36 267.2,186.27 268.2,184.98 269.2,183.54 270.2,181.97 271.2,180.33 272.2,178.62 273.2,176.90 274.2,175.20 275.2,173.54 276.2,171.96 277.2,170.49 278.2,169.14 279.2,167.92 280.2,166.82 281.2,165.83 282.2,164.94 283.2,164.16 284.2,163.48 285.2,162.89 286.2,162.39 287.2,161.96 288.2,161.61 289.2,161.34 290.2,161.13 291.2,160.98 292.2,160.90 293.2,160.87 294.2,160.89 295.2,160.95 296.2,161.06 297.2,161.21 298.2,161.40 299.2,161.61 300.2,161.85 301.2,162.11 302.2,162.39 303.2,162.69 304.2,162.99 305.2,163.30 306.2,163.61 307.2,163.91 308.2,164.22 309.2,164.51 310.2,164.78 311.2,165.05 312.2,165.30 313.2,165.53 314.2,165.76 315.2,165.96 316.2,166.15 317.2,166.33 318.2,166.49 319.2,166.64 320.2,166.77 321.2,166.88 322.2,166.98 323.2,167.06 324.2,167.12 325.2,167.17 326.2,167.20 327.2,167.21 328.2,167.21 329.2,167.19 330.2,167.15 331.2,167.09 332.2,167.01 333.2,166.92 334.2,166.82 335.2,166.72 336.2,166.62 337.2,166.53 338.2,166.45 339.2,166.40 340.2,166.37 341.2,166.37 342.2,166.42 343.2,166.51 344.2,166.65 345.2,166.84 346.2,167.10 347.2,167.43 348.2,167.84 349.2,168.32 350.2,168.90 351.2,169.56 352.2,170.33 353.2,171.19 354.2,172.15 355.2,173.20 356.2,174.32 357.2,175.49 358.2,176.71 359.2,177.96 360.2,179.22 361.2,180.49 362.2,181.75 363.2,182.98 364.2,184.17 365.2,185.31 366.2,186.39 367.2,187.39 368.2,188.31 369.2,189.15 370.2,189.91 371.2,190.58 372.2,191.18 373.2,191.69 374.2,192.12 375.2,192.47 376.2,192.74 377.2,192.93 378.2,193.05 379.2,193.09 380.2,193.08 381.2,193.00 382.2,192.87 383.2,192.69 384.2,192.47 385.2,192.21 386.2,191.91 387.2,191.58 388.2,191.22 389.2,190.85 390.2,190.46 391.2,190.05 392.2,189.65 393.2,189.24 394.2,188.83 395.2,188.43 396.2,188.05 397.2,187.68 398.2,187.33 399.2,187.01 400.2,186.72 401.2,186.47 402.2,186.24 403.2,186.06 404.2,185.91 405.2,185.80 406.2,185.73 407.2,185.71 408.2,185.73 409.2,185.80 410.2,185.92 411.2,186.10 412.2,186.32 413.2,186.59 414.2,186.91 415.2,187.25 416.2,187.60 417.2,187.96 418.2,188.31 419.2,188.64 420.2,188.93 421.2,189.17 422.2,189.36 423.2,189.50 424.2,189.58 425.2,189.61 426.2,189.60 427.2,189.55 428.2,189.47 429.2,189.35 430.2,189.22 431.2,189.06 432.2,188.88 433.2,188.69 434.2,188.49 435.2,188.29 436.2,188.09 437.2,187.91 438.2,187.75 438.7,187.69" fill="none" stroke="#0808d0" stroke-width="1.15" stroke-linejoin="round"/>
</g>
<line x1="372.5" x2="372.5" y1="146.3" y2="212.2" stroke="#6e6e6e" stroke-width="1.0"/>
<line x1="264.5" x2="264.5" y1="146.3" y2="212.5" stroke="#c4c4c4" stroke-width="1"/>
<line x1="264.0" x2="439.5" y1="212.5" y2="212.5" stroke="#7a7a7a" stroke-width="1"/>
<text x="264.20" y="226.5" font-size="10.4" text-anchor="middle" font-weight="normal" fill="#303030">0</text>
<line x1="299.16" x2="299.16" y1="212.5" y2="210.5" stroke="#333333" stroke-width="0.7"/>
<text x="299.16" y="226.5" font-size="10.4" text-anchor="middle" font-weight="normal" fill="#303030">20</text>
<line x1="334.12" x2="334.12" y1="212.5" y2="210.5" stroke="#333333" stroke-width="0.7"/>
<text x="334.12" y="226.5" font-size="10.4" text-anchor="middle" font-weight="normal" fill="#303030">40</text>
<line x1="369.08" x2="369.08" y1="212.5" y2="210.5" stroke="#333333" stroke-width="0.7"/>
<text x="369.08" y="226.5" font-size="10.4" text-anchor="middle" font-weight="normal" fill="#303030">60</text>
<line x1="404.04" x2="404.04" y1="212.5" y2="210.5" stroke="#333333" stroke-width="0.7"/>
<text x="404.04" y="226.5" font-size="10.4" text-anchor="middle" font-weight="normal" fill="#303030">80</text>
<line x1="439.00" x2="439.00" y1="212.5" y2="210.5" stroke="#333333" stroke-width="0.7"/>
<text x="439.00" y="226.5" font-size="10.4" text-anchor="middle" font-weight="normal" fill="#303030">100</text>
<line x1="264.5" x2="266.5" y1="152.8" y2="152.8" stroke="#333333" stroke-width="0.7"/>
<text x="260.9" y="157.0" font-size="10.4" text-anchor="end" font-weight="normal" fill="#303030">10</text>
<line x1="264.5" x2="266.5" y1="182.2" y2="182.2" stroke="#333333" stroke-width="0.7"/>
<text x="260.9" y="186.39999999999998" font-size="10.4" text-anchor="end" font-weight="normal" fill="#303030">0</text>
<line x1="264.5" x2="266.5" y1="211.7" y2="211.7" stroke="#333333" stroke-width="0.7"/>
<text x="260.9" y="215.89999999999998" font-size="10.4" text-anchor="end" font-weight="normal" fill="#303030">-10</text>
<rect x="264.5" y="136.5" width="176.20" height="9.80" fill="#fff" stroke="#dadada" stroke-width="0.8"/>
<rect x="349.0" y="136.2" width="43.50" height="10.40" fill="#8c8c8c"/>
<text x="322.9" y="132.6" font-size="11.15" text-anchor="start" font-weight="bold" fill="#000">Hip Frontal</text>
<text x="241.6" y="175.4" font-size="11.4" text-anchor="middle" font-weight="normal" fill="#262626" transform="rotate(-90 241.6 175.4)">Abd/Add [Deg]</text>
<clipPath id="clipht"><rect x="496.4" y="146.1" width="175.20000000000005" height="65.70000000000002"/></clipPath>
<g clip-path="url(#clipht)">
<path d="M496.4,170.51 497.4,170.28 498.4,169.89 499.4,169.35 500.4,168.69 501.4,167.96 502.4,167.17 503.4,166.36 504.4,165.55 505.4,164.77 506.4,164.05 507.4,163.39 508.4,162.82 509.4,162.33 510.4,161.94 511.4,161.65 512.4,161.45 513.4,161.33 514.4,161.29 515.4,161.32 516.4,161.41 517.4,161.56 518.4,161.75 519.4,161.98 520.4,162.24 521.4,162.52 522.4,162.82 523.4,163.12 524.4,163.41 525.4,163.69 526.4,163.96 527.4,164.19 528.4,164.39 529.4,164.54 530.4,164.63 531.4,164.67 532.4,164.64 533.4,164.56 534.4,164.42 535.4,164.24 536.4,164.02 537.4,163.78 538.4,163.51 539.4,163.22 540.4,162.93 541.4,162.63 542.4,162.33 543.4,162.03 544.4,161.74 545.4,161.44 546.4,161.15 547.4,160.85 548.4,160.56 549.4,160.28 550.4,159.99 551.4,159.72 552.4,159.44 553.4,159.17 554.4,158.91 555.4,158.66 556.4,158.41 557.4,158.16 558.4,157.93 559.4,157.70 560.4,157.49 561.4,157.28 562.4,157.08 563.4,156.89 564.4,156.72 565.4,156.55 566.4,156.40 567.4,156.26 568.4,156.13 569.4,156.02 570.4,155.92 571.4,155.83 572.4,155.76 573.4,155.71 574.4,155.67 575.4,155.65 576.4,155.64 577.4,155.65 578.4,155.69 579.4,155.73 580.4,155.80 581.4,155.89 582.4,156.00 583.4,156.13 584.4,156.28 585.4,156.45 586.4,156.63 587.4,156.84 588.4,157.06 589.4,157.29 590.4,157.54 591.4,157.80 592.4,158.07 593.4,158.35 594.4,158.64 595.4,158.94 596.4,159.24 597.4,159.54 598.4,159.84 599.4,160.13 600.4,160.38 601.4,160.60 602.4,160.78 603.4,160.93 604.4,161.05 605.4,161.16 606.4,161.27 607.4,161.39 608.4,161.52 609.4,161.66 610.4,161.81 611.4,161.96 612.4,162.12 613.4,162.29 614.4,162.47 615.4,162.65 616.4,162.84 617.4,163.03 618.4,163.23 619.4,163.43 620.4,163.63 621.4,163.84 622.4,164.05 623.4,164.26 624.4,164.48 625.4,164.69 626.4,164.90 627.4,165.12 628.4,165.33 629.4,165.55 630.4,165.76 631.4,165.98 632.4,166.20 633.4,166.42 634.4,166.64 635.4,166.87 636.4,167.11 637.4,167.35 638.4,167.61 639.4,167.87 640.4,168.15 641.4,168.44 642.4,168.74 643.4,169.06 644.4,169.40 645.4,169.75 646.4,170.12 647.4,170.51 648.4,170.92 649.4,171.36 650.4,171.82 651.4,172.30 652.4,172.80 653.4,173.32 654.4,173.83 655.4,174.33 656.4,174.80 657.4,175.23 658.4,175.60 659.4,175.89 660.4,176.10 661.4,176.21 662.4,176.22 663.4,176.13 664.4,175.95 665.4,175.67 666.4,175.31 667.4,174.87 668.4,174.35 669.4,173.77 670.4,173.22 671.4,172.86 L671.4,198.08 670.4,198.51 669.4,199.11 668.4,199.67 667.4,200.07 666.4,200.31 665.4,200.40 664.4,200.36 663.4,200.18 662.4,199.90 661.4,199.51 660.4,199.03 659.4,198.46 658.4,197.83 657.4,197.15 656.4,196.42 655.4,195.66 654.4,194.87 653.4,194.08 652.4,193.28 651.4,192.51 650.4,191.74 649.4,191.01 648.4,190.29 647.4,189.60 646.4,188.93 645.4,188.29 644.4,187.67 643.4,187.07 642.4,186.50 641.4,185.95 640.4,185.43 639.4,184.93 638.4,184.46 637.4,184.01 636.4,183.58 635.4,183.18 634.4,182.81 633.4,182.46 632.4,182.13 631.4,181.83 630.4,181.56 629.4,181.31 628.4,181.09 627.4,180.89 626.4,180.72 625.4,180.57 624.4,180.44 623.4,180.33 622.4,180.24 621.4,180.17 620.4,180.11 619.4,180.08 618.4,180.05 617.4,180.04 616.4,180.04 615.4,180.05 614.4,180.07 613.4,180.10 612.4,180.13 611.4,180.17 610.4,180.22 609.4,180.26 608.4,180.31 607.4,180.36 606.4,180.41 605.4,180.46 604.4,180.50 603.4,180.54 602.4,180.57 601.4,180.59 600.4,180.61 599.4,180.61 598.4,180.60 597.4,180.57 596.4,180.53 595.4,180.47 594.4,180.40 593.4,180.31 592.4,180.22 591.4,180.11 590.4,180.00 589.4,179.89 588.4,179.78 587.4,179.67 586.4,179.56 585.4,179.45 584.4,179.36 583.4,179.27 582.4,179.20 581.4,179.14 580.4,179.09 579.4,179.05 578.4,179.03 577.4,179.01 576.4,179.01 575.4,179.02 574.4,179.05 573.4,179.08 572.4,179.12 571.4,179.18 570.4,179.24 569.4,179.31 568.4,179.40 567.4,179.49 566.4,179.59 565.4,179.70 564.4,179.82 563.4,179.94 562.4,180.08 561.4,180.22 560.4,180.37 559.4,180.53 558.4,180.69 557.4,180.86 556.4,181.03 555.4,181.21 554.4,181.40 553.4,181.59 552.4,181.79 551.4,181.99 550.4,182.20 549.4,182.41 548.4,182.63 547.4,182.85 546.4,183.07 545.4,183.30 544.4,183.52 543.4,183.76 542.4,183.99 541.4,184.22 540.4,184.46 539.4,184.69 538.4,184.92 537.4,185.15 536.4,185.36 535.4,185.56 534.4,185.74 533.4,185.91 532.4,186.05 531.4,186.17 530.4,186.25 529.4,186.28 528.4,186.25 527.4,186.15 526.4,185.99 525.4,185.78 524.4,185.51 523.4,185.20 522.4,184.86 521.4,184.50 520.4,184.12 519.4,183.75 518.4,183.38 517.4,183.03 516.4,182.72 515.4,182.46 514.4,182.28 513.4,182.17 512.4,182.17 511.4,182.29 510.4,182.54 509.4,182.93 508.4,183.48 507.4,184.16 506.4,184.96 505.4,185.88 504.4,186.89 503.4,187.98 502.4,189.13 501.4,190.34 500.4,191.58 499.4,192.83 498.4,194.09 497.4,195.26 496.4,196.11 Z" fill="#0000ff" fill-opacity="0.2" stroke="none"/>
<path d="M496.4,177.28 497.4,177.11 498.4,176.81 499.4,176.40 500.4,175.91 501.4,175.34 502.4,174.72 503.4,174.07 504.4,173.40 505.4,172.74 506.4,172.10 507.4,171.50 508.4,170.96 509.4,170.50 510.4,170.14 511.4,169.89 512.4,169.76 513.4,169.77 514.4,169.91 515.4,170.19 516.4,170.56 517.4,170.98 518.4,171.39 519.4,171.74 520.4,172.01 521.4,172.20 522.4,172.30 523.4,172.33 524.4,172.28 525.4,172.17 526.4,171.99 527.4,171.76 528.4,171.48 529.4,171.15 530.4,170.79 531.4,170.39 532.4,169.96 533.4,169.51 534.4,169.04 535.4,168.57 536.4,168.08 537.4,167.59 538.4,167.11 539.4,166.64 540.4,166.19 541.4,165.75 542.4,165.34 543.4,164.96 544.4,164.61 545.4,164.28 546.4,163.98 547.4,163.70 548.4,163.44 549.4,163.20 550.4,162.98 551.4,162.78 552.4,162.60 553.4,162.44 554.4,162.29 555.4,162.15 556.4,162.03 557.4,161.92 558.4,161.81 559.4,161.72 560.4,161.64 561.4,161.56 562.4,161.48 563.4,161.41 564.4,161.35 565.4,161.28 566.4,161.22 567.4,161.17 568.4,161.13 569.4,161.10 570.4,161.09 571.4,161.10 572.4,161.13 573.4,161.19 574.4,161.28 575.4,161.40 576.4,161.55 577.4,161.75 578.4,161.99 579.4,162.28 580.4,162.61 581.4,163.00 582.4,163.45 583.4,163.95 584.4,164.50 585.4,165.10 586.4,165.74 587.4,166.41 588.4,167.10 589.4,167.79 590.4,168.48 591.4,169.16 592.4,169.82 593.4,170.45 594.4,171.03 595.4,171.57 596.4,172.04 597.4,172.45 598.4,172.77 599.4,173.01 600.4,173.14 601.4,173.17 602.4,173.07 603.4,172.85 604.4,172.48 605.4,171.98 606.4,171.33 607.4,170.58 608.4,169.79 609.4,169.03 610.4,168.37 611.4,167.86 612.4,167.51 613.4,167.31 614.4,167.24 615.4,167.29 616.4,167.42 617.4,167.63 618.4,167.89 619.4,168.19 620.4,168.51 621.4,168.85 622.4,169.21 623.4,169.58 624.4,169.96 625.4,170.37 626.4,170.79 627.4,171.23 628.4,171.69 629.4,172.17 630.4,172.67 631.4,173.18 632.4,173.72 633.4,174.26 634.4,174.82 635.4,175.38 636.4,175.95 637.4,176.53 638.4,177.11 639.4,177.69 640.4,178.27 641.4,178.85 642.4,179.42 643.4,179.98 644.4,180.53 645.4,181.07 646.4,181.60 647.4,182.11 648.4,182.60 649.4,183.07 650.4,183.52 651.4,183.95 652.4,184.35 653.4,184.72 654.4,185.06 655.4,185.36 656.4,185.63 657.4,185.87 658.4,186.06 659.4,186.22 660.4,186.33 661.4,186.40 662.4,186.41 663.4,186.38 664.4,186.30 665.4,186.16 666.4,185.97 667.4,185.72 668.4,185.41 669.4,185.05 670.4,184.69 671.4,184.45 L671.4,207.84 670.4,207.86 669.4,207.88 668.4,207.90 667.4,207.91 666.4,207.90 665.4,207.87 664.4,207.82 663.4,207.75 662.4,207.65 661.4,207.52 660.4,207.35 659.4,207.16 658.4,206.92 657.4,206.64 656.4,206.31 655.4,205.94 654.4,205.52 653.4,205.05 652.4,204.53 651.4,203.94 650.4,203.29 649.4,202.59 648.4,201.83 647.4,201.03 646.4,200.20 645.4,199.35 644.4,198.50 643.4,197.65 642.4,196.82 641.4,196.02 640.4,195.27 639.4,194.56 638.4,193.90 637.4,193.28 636.4,192.70 635.4,192.16 634.4,191.66 633.4,191.19 632.4,190.75 631.4,190.34 630.4,189.96 629.4,189.60 628.4,189.26 627.4,188.94 626.4,188.64 625.4,188.36 624.4,188.11 623.4,187.88 622.4,187.69 621.4,187.53 620.4,187.42 619.4,187.35 618.4,187.34 617.4,187.37 616.4,187.47 615.4,187.63 614.4,187.85 613.4,188.13 612.4,188.47 611.4,188.89 610.4,189.36 609.4,189.91 608.4,190.53 607.4,191.21 606.4,191.97 605.4,192.80 604.4,193.66 603.4,194.54 602.4,195.39 601.4,196.16 600.4,196.82 599.4,197.33 598.4,197.68 597.4,197.87 596.4,197.91 595.4,197.84 594.4,197.66 593.4,197.40 592.4,197.07 591.4,196.69 590.4,196.29 589.4,195.87 588.4,195.46 587.4,195.08 586.4,194.73 585.4,194.42 584.4,194.15 583.4,193.92 582.4,193.71 581.4,193.54 580.4,193.39 579.4,193.27 578.4,193.17 577.4,193.08 576.4,193.01 575.4,192.95 574.4,192.90 573.4,192.85 572.4,192.79 571.4,192.73 570.4,192.66 569.4,192.57 568.4,192.46 567.4,192.33 566.4,192.17 565.4,191.98 564.4,191.76 563.4,191.50 562.4,191.22 561.4,190.92 560.4,190.62 559.4,190.33 558.4,190.06 557.4,189.82 556.4,189.63 555.4,189.48 554.4,189.39 553.4,189.36 552.4,189.38 551.4,189.45 550.4,189.56 549.4,189.71 548.4,189.90 547.4,190.11 546.4,190.35 545.4,190.61 544.4,190.88 543.4,191.16 542.4,191.45 541.4,191.74 540.4,192.02 539.4,192.30 538.4,192.57 537.4,192.84 536.4,193.09 535.4,193.33 534.4,193.56 533.4,193.78 532.4,193.98 531.4,194.16 530.4,194.32 529.4,194.46 528.4,194.58 527.4,194.67 526.4,194.74 525.4,194.78 524.4,194.80 523.4,194.78 522.4,194.73 521.4,194.65 520.4,194.53 519.4,194.38 518.4,194.19 517.4,193.99 516.4,193.79 515.4,193.61 514.4,193.48 513.4,193.43 512.4,193.49 511.4,193.67 510.4,194.00 509.4,194.50 508.4,195.18 507.4,196.00 506.4,196.95 505.4,198.00 504.4,199.12 503.4,200.28 502.4,201.46 501.4,202.62 500.4,203.73 499.4,204.78 498.4,205.72 497.4,206.49 496.4,207.01 Z" fill="#000000" fill-opacity="0.2" stroke="none"/>
<line x1="496.4" x2="671.6" y1="180.4" y2="180.4" stroke="#7c7c7c" stroke-width="1.0"/>
<path d="M496.4,196.17 497.4,195.54 498.4,194.62 499.4,193.56 500.4,192.44 501.4,191.28 502.4,190.11 503.4,188.96 504.4,187.85 505.4,186.80 506.4,185.86 507.4,185.03 508.4,184.32 509.4,183.73 510.4,183.27 511.4,182.92 512.4,182.69 513.4,182.56 514.4,182.54 515.4,182.61 516.4,182.77 517.4,183.01 518.4,183.28 519.4,183.56 520.4,183.81 521.4,184.01 522.4,184.15 523.4,184.24 524.4,184.27 525.4,184.25 526.4,184.18 527.4,184.07 528.4,183.91 529.4,183.72 530.4,183.50 531.4,183.24 532.4,182.96 533.4,182.66 534.4,182.33 535.4,182.00 536.4,181.65 537.4,181.29 538.4,180.92 539.4,180.56 540.4,180.20 541.4,179.84 542.4,179.49 543.4,179.16 544.4,178.84 545.4,178.54 546.4,178.25 547.4,177.99 548.4,177.73 549.4,177.50 550.4,177.28 551.4,177.08 552.4,176.89 553.4,176.72 554.4,176.57 555.4,176.44 556.4,176.32 557.4,176.22 558.4,176.13 559.4,176.06 560.4,176.01 561.4,175.98 562.4,175.96 563.4,175.96 564.4,175.97 565.4,176.01 566.4,176.06 567.4,176.12 568.4,176.20 569.4,176.30 570.4,176.40 571.4,176.52 572.4,176.65 573.4,176.79 574.4,176.94 575.4,177.10 576.4,177.26 577.4,177.42 578.4,177.59 579.4,177.77 580.4,177.94 581.4,178.13 582.4,178.34 583.4,178.57 584.4,178.84 585.4,179.16 586.4,179.54 587.4,179.99 588.4,180.52 589.4,181.10 590.4,181.72 591.4,182.36 592.4,182.99 593.4,183.59 594.4,184.13 595.4,184.58 596.4,184.94 597.4,185.16 598.4,185.23 599.4,185.12 600.4,184.83 601.4,184.36 602.4,183.76 603.4,183.08 604.4,182.34 605.4,181.61 606.4,180.91 607.4,180.27 608.4,179.69 609.4,179.18 610.4,178.72 611.4,178.33 612.4,178.00 613.4,177.73 614.4,177.51 615.4,177.34 616.4,177.22 617.4,177.15 618.4,177.13 619.4,177.15 620.4,177.22 621.4,177.33 622.4,177.47 623.4,177.65 624.4,177.87 625.4,178.12 626.4,178.40 627.4,178.72 628.4,179.06 629.4,179.42 630.4,179.82 631.4,180.24 632.4,180.70 633.4,181.18 634.4,181.69 635.4,182.23 636.4,182.80 637.4,183.40 638.4,184.03 639.4,184.69 640.4,185.38 641.4,186.10 642.4,186.84 643.4,187.60 644.4,188.38 645.4,189.15 646.4,189.92 647.4,190.67 648.4,191.40 649.4,192.09 650.4,192.75 651.4,193.37 652.4,193.94 653.4,194.46 654.4,194.94 655.4,195.37 656.4,195.76 657.4,196.11 658.4,196.41 659.4,196.67 660.4,196.89 661.4,197.07 662.4,197.20 663.4,197.29 664.4,197.34 665.4,197.35 666.4,197.32 667.4,197.25 668.4,197.14 669.4,197.00 670.4,196.85 671.4,196.74" fill="none" stroke="#0a0a28" stroke-width="1.0" stroke-linejoin="round"/>
<path d="M496.4,183.54 497.4,183.36 498.4,182.99 499.4,182.43 500.4,181.71 501.4,180.87 502.4,179.93 503.4,178.93 504.4,177.89 505.4,176.86 506.4,175.87 507.4,174.94 508.4,174.10 509.4,173.38 510.4,172.78 511.4,172.30 512.4,171.94 513.4,171.70 514.4,171.56 515.4,171.54 516.4,171.62 517.4,171.80 518.4,172.07 519.4,172.41 520.4,172.81 521.4,173.25 522.4,173.73 523.4,174.21 524.4,174.69 525.4,175.15 526.4,175.57 527.4,175.95 528.4,176.25 529.4,176.48 530.4,176.62 531.4,176.67 532.4,176.64 533.4,176.54 534.4,176.38 535.4,176.17 536.4,175.93 537.4,175.66 538.4,175.38 539.4,175.09 540.4,174.80 541.4,174.52 542.4,174.23 543.4,173.95 544.4,173.66 545.4,173.38 546.4,173.10 547.4,172.83 548.4,172.55 549.4,172.28 550.4,172.01 551.4,171.75 552.4,171.48 553.4,171.22 554.4,170.96 555.4,170.70 556.4,170.45 557.4,170.20 558.4,169.96 559.4,169.71 560.4,169.47 561.4,169.24 562.4,169.01 563.4,168.78 564.4,168.55 565.4,168.33 566.4,168.12 567.4,167.91 568.4,167.70 569.4,167.50 570.4,167.30 571.4,167.10 572.4,166.92 573.4,166.73 574.4,166.55 575.4,166.38 576.4,166.21 577.4,166.05 578.4,165.89 579.4,165.74 580.4,165.59 581.4,165.45 582.4,165.32 583.4,165.19 584.4,165.08 585.4,164.99 586.4,164.93 587.4,164.91 588.4,164.94 589.4,165.03 590.4,165.20 591.4,165.45 592.4,165.79 593.4,166.21 594.4,166.70 595.4,167.22 596.4,167.77 597.4,168.31 598.4,168.82 599.4,169.28 600.4,169.68 601.4,170.01 602.4,170.25 603.4,170.43 604.4,170.57 605.4,170.67 606.4,170.77 607.4,170.88 608.4,170.99 609.4,171.11 610.4,171.23 611.4,171.36 612.4,171.49 613.4,171.63 614.4,171.78 615.4,171.92 616.4,172.07 617.4,172.23 618.4,172.38 619.4,172.54 620.4,172.69 621.4,172.85 622.4,173.01 623.4,173.16 624.4,173.32 625.4,173.47 626.4,173.61 627.4,173.76 628.4,173.90 629.4,174.04 630.4,174.17 631.4,174.31 632.4,174.44 633.4,174.58 634.4,174.73 635.4,174.88 636.4,175.05 637.4,175.23 638.4,175.43 639.4,175.65 640.4,175.89 641.4,176.16 642.4,176.45 643.4,176.77 644.4,177.13 645.4,177.52 646.4,177.94 647.4,178.41 648.4,178.92 649.4,179.47 650.4,180.07 651.4,180.72 652.4,181.41 653.4,182.14 654.4,182.90 655.4,183.66 656.4,184.42 657.4,185.15 658.4,185.85 659.4,186.49 660.4,187.06 661.4,187.55 662.4,187.93 663.4,188.19 664.4,188.32 665.4,188.30 666.4,188.11 667.4,187.74 668.4,187.18 669.4,186.43 670.4,185.63 671.4,185.07" fill="none" stroke="#0808d0" stroke-width="1.15" stroke-linejoin="round"/>
</g>
<line x1="604.5" x2="604.5" y1="146.1" y2="211.8" stroke="#6e6e6e" stroke-width="1.0"/>
<line x1="496.5" x2="496.5" y1="146.1" y2="211.5" stroke="#c4c4c4" stroke-width="1"/>
<line x1="496.0" x2="672.1" y1="211.5" y2="211.5" stroke="#7a7a7a" stroke-width="1"/>
<text x="496.40" y="226.5" font-size="10.4" text-anchor="middle" font-weight="normal" fill="#303030">0</text>
<line x1="531.44" x2="531.44" y1="211.5" y2="209.5" stroke="#333333" stroke-width="0.7"/>
<text x="531.44" y="226.5" font-size="10.4" text-anchor="middle" font-weight="normal" fill="#303030">20</text>
<line x1="566.48" x2="566.48" y1="211.5" y2="209.5" stroke="#333333" stroke-width="0.7"/>
<text x="566.48" y="226.5" font-size="10.4" text-anchor="middle" font-weight="normal" fill="#303030">40</text>
<line x1="601.52" x2="601.52" y1="211.5" y2="209.5" stroke="#333333" stroke-width="0.7"/>
<text x="601.52" y="226.5" font-size="10.4" text-anchor="middle" font-weight="normal" fill="#303030">60</text>
<line x1="636.56" x2="636.56" y1="211.5" y2="209.5" stroke="#333333" stroke-width="0.7"/>
<text x="636.56" y="226.5" font-size="10.4" text-anchor="middle" font-weight="normal" fill="#303030">80</text>
<line x1="671.60" x2="671.60" y1="211.5" y2="209.5" stroke="#333333" stroke-width="0.7"/>
<text x="671.60" y="226.5" font-size="10.4" text-anchor="middle" font-weight="normal" fill="#303030">100</text>
<line x1="496.5" x2="498.5" y1="138.8" y2="138.8" stroke="#333333" stroke-width="0.7"/>
<text x="493.09999999999997" y="143.0" font-size="10.4" text-anchor="end" font-weight="normal" fill="#303030">20</text>
<line x1="496.5" x2="498.5" y1="159.4" y2="159.4" stroke="#333333" stroke-width="0.7"/>
<text x="493.09999999999997" y="163.6" font-size="10.4" text-anchor="end" font-weight="normal" fill="#303030">10</text>
<line x1="496.5" x2="498.5" y1="180.4" y2="180.4" stroke="#333333" stroke-width="0.7"/>
<text x="493.09999999999997" y="184.6" font-size="10.4" text-anchor="end" font-weight="normal" fill="#303030">0</text>
<line x1="496.5" x2="498.5" y1="201.3" y2="201.3" stroke="#333333" stroke-width="0.7"/>
<text x="493.09999999999997" y="205.5" font-size="10.4" text-anchor="end" font-weight="normal" fill="#303030">-10</text>
<rect x="496.5" y="136.4" width="175.80" height="9.70" fill="#fff" stroke="#dadada" stroke-width="0.8"/>
<rect x="581.4" y="136.1" width="26.40" height="10.30" fill="#8c8c8c"/>
<rect x="635.3" y="136.1" width="20.50" height="10.30" fill="#8c8c8c"/>
<text x="542.6" y="132.7" font-size="11.15" text-anchor="start" font-weight="bold" fill="#000">Hip Transversal</text>
<text x="473.6" y="174.6" font-size="11.4" text-anchor="middle" font-weight="normal" fill="#262626" transform="rotate(-90 473.6 174.6)">Ext Rot/Int Rot [Deg]</text>
<clipPath id="clipks"><rect x="32.4" y="269.5" width="174.6" height="65.5"/></clipPath>
<g clip-path="url(#clipks)">
<path d="M32.4,324.13 33.4,323.59 34.4,322.81 35.4,321.99 36.4,321.21 37.4,320.48 38.4,319.81 39.4,319.20 40.4,318.64 41.4,318.14 42.4,317.68 43.4,317.27 44.4,316.91 45.4,316.60 46.4,316.33 47.4,316.11 48.4,315.93 49.4,315.79 50.4,315.69 51.4,315.62 52.4,315.60 53.4,315.61 54.4,315.65 55.4,315.72 56.4,315.83 57.4,315.97 58.4,316.13 59.4,316.32 60.4,316.53 61.4,316.77 62.4,317.03 63.4,317.30 64.4,317.60 65.4,317.90 66.4,318.23 67.4,318.56 68.4,318.90 69.4,319.25 70.4,319.61 71.4,319.97 72.4,320.33 73.4,320.70 74.4,321.06 75.4,321.42 76.4,321.77 77.4,322.12 78.4,322.46 79.4,322.79 80.4,323.10 81.4,323.40 82.4,323.69 83.4,323.95 84.4,324.20 85.4,324.43 86.4,324.64 87.4,324.83 88.4,324.99 89.4,325.14 90.4,325.27 91.4,325.37 92.4,325.46 93.4,325.52 94.4,325.56 95.4,325.59 96.4,325.59 97.4,325.56 98.4,325.52 99.4,325.45 100.4,325.36 101.4,325.25 102.4,325.12 103.4,324.96 104.4,324.78 105.4,324.58 106.4,324.36 107.4,324.11 108.4,323.84 109.4,323.54 110.4,323.22 111.4,322.87 112.4,322.50 113.4,322.09 114.4,321.65 115.4,321.17 116.4,320.66 117.4,320.11 118.4,319.52 119.4,318.89 120.4,318.21 121.4,317.48 122.4,316.68 123.4,315.80 124.4,314.82 125.4,313.76 126.4,312.61 127.4,311.38 128.4,310.07 129.4,308.68 130.4,307.24 131.4,305.73 132.4,304.17 133.4,302.55 134.4,300.90 135.4,299.21 136.4,297.49 137.4,295.76 138.4,294.03 139.4,292.32 140.4,290.64 141.4,289.03 142.4,287.53 143.4,286.16 144.4,284.95 145.4,283.92 146.4,283.03 147.4,282.28 148.4,281.63 149.4,281.06 150.4,280.56 151.4,280.13 152.4,279.76 153.4,279.45 154.4,279.21 155.4,279.03 156.4,278.91 157.4,278.86 158.4,278.87 159.4,278.94 160.4,279.08 161.4,279.28 162.4,279.55 163.4,279.89 164.4,280.29 165.4,280.75 166.4,281.28 167.4,281.88 168.4,282.54 169.4,283.27 170.4,284.07 171.4,284.93 172.4,285.86 173.4,286.86 174.4,287.93 175.4,289.06 176.4,290.26 177.4,291.54 178.4,292.88 179.4,294.29 180.4,295.77 181.4,297.32 182.4,298.94 183.4,300.63 184.4,302.38 185.4,304.19 186.4,306.05 187.4,307.93 188.4,309.83 189.4,311.72 190.4,313.59 191.4,315.43 192.4,317.22 193.4,318.94 194.4,320.58 195.4,322.11 196.4,323.50 197.4,324.73 198.4,325.74 199.4,326.52 200.4,327.03 201.4,327.25 202.4,327.19 203.4,326.90 204.4,326.42 205.4,325.83 206.4,325.27 206.9,325.06 L206.9,330.40 205.9,330.84 204.9,331.37 203.9,331.82 202.9,332.14 201.9,332.31 200.9,332.34 199.9,332.20 198.9,331.91 197.9,331.46 196.9,330.85 195.9,330.07 194.9,329.12 193.9,328.01 192.9,326.75 191.9,325.33 190.9,323.80 189.9,322.16 188.9,320.43 187.9,318.64 186.9,316.80 185.9,314.94 184.9,313.08 183.9,311.23 182.9,309.41 181.9,307.63 180.9,305.90 179.9,304.21 178.9,302.57 177.9,300.99 176.9,299.45 175.9,297.97 174.9,296.55 173.9,295.19 172.9,293.89 171.9,292.66 170.9,291.49 169.9,290.38 168.9,289.35 167.9,288.39 166.9,287.50 165.9,286.69 164.9,285.96 163.9,285.31 162.9,284.75 161.9,284.29 160.9,283.91 159.9,283.63 158.9,283.45 157.9,283.37 156.9,283.40 155.9,283.53 154.9,283.78 153.9,284.15 152.9,284.63 151.9,285.24 150.9,285.97 149.9,286.82 148.9,287.81 147.9,288.92 146.9,290.15 145.9,291.48 144.9,292.89 143.9,294.38 142.9,295.92 141.9,297.50 140.9,299.11 139.9,300.73 138.9,302.35 137.9,303.96 136.9,305.54 135.9,307.10 134.9,308.62 133.9,310.12 132.9,311.57 131.9,312.98 130.9,314.35 129.9,315.66 128.9,316.93 127.9,318.14 126.9,319.29 125.9,320.37 124.9,321.39 123.9,322.34 122.9,323.22 121.9,324.02 120.9,324.76 119.9,325.43 118.9,326.03 117.9,326.58 116.9,327.07 115.9,327.52 114.9,327.92 113.9,328.28 112.9,328.60 111.9,328.89 110.9,329.15 109.9,329.39 108.9,329.61 107.9,329.81 106.9,329.99 105.9,330.16 104.9,330.31 103.9,330.45 102.9,330.57 101.9,330.68 100.9,330.77 99.9,330.85 98.9,330.91 97.9,330.96 96.9,331.00 95.9,331.02 94.9,331.02 93.9,331.02 92.9,331.00 91.9,330.96 90.9,330.92 89.9,330.86 88.9,330.79 87.9,330.71 86.9,330.61 85.9,330.50 84.9,330.38 83.9,330.25 82.9,330.11 81.9,329.95 80.9,329.79 79.9,329.62 78.9,329.44 77.9,329.25 76.9,329.06 75.9,328.86 74.9,328.66 73.9,328.45 72.9,328.24 71.9,328.03 70.9,327.82 69.9,327.61 68.9,327.40 67.9,327.19 66.9,326.99 65.9,326.79 64.9,326.60 63.9,326.41 62.9,326.23 61.9,326.06 60.9,325.89 59.9,325.74 58.9,325.60 57.9,325.47 56.9,325.35 55.9,325.25 54.9,325.16 53.9,325.10 52.9,325.07 51.9,325.06 50.9,325.09 49.9,325.16 48.9,325.26 47.9,325.41 46.9,325.61 45.9,325.85 44.9,326.13 43.9,326.45 42.9,326.80 41.9,327.17 40.9,327.55 39.9,327.93 38.9,328.32 37.9,328.69 36.9,329.05 35.9,329.38 34.9,329.67 33.9,329.93 32.9,330.10 32.4,330.16 Z" fill="#0000ff" fill-opacity="0.2" stroke="none"/>
<path d="M32.4,320.50 33.4,319.91 34.4,319.05 35.4,318.14 36.4,317.29 37.4,316.51 38.4,315.80 39.4,315.15 40.4,314.56 41.4,314.03 42.4,313.56 43.4,313.15 44.4,312.80 45.4,312.50 46.4,312.25 47.4,312.05 48.4,311.89 49.4,311.79 50.4,311.73 51.4,311.71 52.4,311.73 53.4,311.78 54.4,311.88 55.4,312.01 56.4,312.17 57.4,312.36 58.4,312.58 59.4,312.83 60.4,313.11 61.4,313.40 62.4,313.72 63.4,314.06 64.4,314.42 65.4,314.79 66.4,315.17 67.4,315.57 68.4,315.98 69.4,316.39 70.4,316.82 71.4,317.24 72.4,317.67 73.4,318.10 74.4,318.53 75.4,318.95 76.4,319.37 77.4,319.78 78.4,320.19 79.4,320.58 80.4,320.96 81.4,321.33 82.4,321.68 83.4,322.01 84.4,322.32 85.4,322.61 86.4,322.88 87.4,323.13 88.4,323.36 89.4,323.56 90.4,323.75 91.4,323.91 92.4,324.05 93.4,324.16 94.4,324.25 95.4,324.31 96.4,324.35 97.4,324.37 98.4,324.36 99.4,324.32 100.4,324.26 101.4,324.17 102.4,324.05 103.4,323.90 104.4,323.73 105.4,323.52 106.4,323.29 107.4,323.03 108.4,322.74 109.4,322.42 110.4,322.06 111.4,321.67 112.4,321.24 113.4,320.76 114.4,320.24 115.4,319.66 116.4,319.02 117.4,318.32 118.4,317.55 119.4,316.72 120.4,315.80 121.4,314.81 122.4,313.73 123.4,312.56 124.4,311.31 125.4,309.98 126.4,308.57 127.4,307.10 128.4,305.57 129.4,304.00 130.4,302.38 131.4,300.74 132.4,299.07 133.4,297.39 134.4,295.71 135.4,294.03 136.4,292.36 137.4,290.71 138.4,289.10 139.4,287.52 140.4,285.99 141.4,284.51 142.4,283.10 143.4,281.76 144.4,280.51 145.4,279.34 146.4,278.27 147.4,277.31 148.4,276.47 149.4,275.74 150.4,275.14 151.4,274.66 152.4,274.27 153.4,273.98 154.4,273.78 155.4,273.65 156.4,273.58 157.4,273.55 158.4,273.57 159.4,273.62 160.4,273.71 161.4,273.84 162.4,274.01 163.4,274.24 164.4,274.53 165.4,274.88 166.4,275.32 167.4,275.83 168.4,276.44 169.4,277.13 170.4,277.92 171.4,278.79 172.4,279.75 173.4,280.79 174.4,281.91 175.4,283.11 176.4,284.37 177.4,285.70 178.4,287.10 179.4,288.56 180.4,290.08 181.4,291.65 182.4,293.27 183.4,294.94 184.4,296.66 185.4,298.42 186.4,300.21 187.4,302.04 188.4,303.90 189.4,305.79 190.4,307.70 191.4,309.64 192.4,311.59 193.4,313.56 194.4,315.52 195.4,317.47 196.4,319.34 197.4,321.10 198.4,322.69 199.4,324.06 200.4,325.16 201.4,325.94 202.4,326.37 203.4,326.43 204.4,326.11 205.4,325.44 206.4,324.61 206.9,324.27 L206.9,328.50 205.9,328.77 204.9,329.17 203.9,329.59 202.9,329.93 201.9,330.11 200.9,330.06 199.9,329.72 198.9,329.10 197.9,328.21 196.9,327.08 195.9,325.75 194.9,324.26 193.9,322.62 192.9,320.88 191.9,319.04 190.9,317.13 189.9,315.17 188.9,313.17 187.9,311.15 186.9,309.12 185.9,307.11 184.9,305.12 183.9,303.18 182.9,301.30 181.9,299.48 180.9,297.72 179.9,296.03 178.9,294.42 177.9,292.86 176.9,291.38 175.9,289.97 174.9,288.62 173.9,287.35 172.9,286.14 171.9,285.01 170.9,283.95 169.9,282.95 168.9,282.03 167.9,281.18 166.9,280.41 165.9,279.71 164.9,279.08 163.9,278.54 162.9,278.07 161.9,277.69 160.9,277.40 159.9,277.19 158.9,277.07 157.9,277.05 156.9,277.12 155.9,277.29 154.9,277.56 153.9,277.92 152.9,278.40 151.9,278.97 150.9,279.66 149.9,280.45 148.9,281.36 147.9,282.37 146.9,283.49 145.9,284.71 144.9,286.02 143.9,287.41 142.9,288.88 141.9,290.42 140.9,292.02 139.9,293.68 138.9,295.38 137.9,297.11 136.9,298.86 135.9,300.59 134.9,302.28 133.9,303.91 132.9,305.44 131.9,306.89 130.9,308.27 129.9,309.60 128.9,310.89 127.9,312.18 126.9,313.48 125.9,314.82 124.9,316.21 123.9,317.67 122.9,319.19 121.9,320.69 120.9,322.01 119.9,322.97 118.9,323.58 117.9,324.03 116.9,324.59 115.9,325.32 114.9,326.12 113.9,326.84 112.9,327.42 111.9,327.85 110.9,328.15 109.9,328.37 108.9,328.54 107.9,328.68 106.9,328.81 105.9,328.91 104.9,329.00 103.9,329.08 102.9,329.14 101.9,329.18 100.9,329.21 99.9,329.21 98.9,329.21 97.9,329.19 96.9,329.15 95.9,329.09 94.9,329.02 93.9,328.94 92.9,328.83 91.9,328.71 90.9,328.58 89.9,328.43 88.9,328.26 87.9,328.08 86.9,327.88 85.9,327.67 84.9,327.44 83.9,327.19 82.9,326.93 81.9,326.65 80.9,326.36 79.9,326.06 78.9,325.75 77.9,325.43 76.9,325.10 75.9,324.77 74.9,324.44 73.9,324.10 72.9,323.76 71.9,323.43 70.9,323.10 69.9,322.77 68.9,322.45 67.9,322.14 66.9,321.84 65.9,321.56 64.9,321.28 63.9,321.02 62.9,320.78 61.9,320.56 60.9,320.35 59.9,320.17 58.9,320.02 57.9,319.89 56.9,319.78 55.9,319.71 54.9,319.66 53.9,319.65 52.9,319.66 51.9,319.71 50.9,319.78 49.9,319.89 48.9,320.04 47.9,320.22 46.9,320.43 45.9,320.68 44.9,320.97 43.9,321.29 42.9,321.66 41.9,322.06 40.9,322.50 39.9,322.98 38.9,323.50 37.9,324.06 36.9,324.67 35.9,325.32 34.9,326.01 33.9,326.70 32.9,327.28 32.4,327.48 Z" fill="#000000" fill-opacity="0.2" stroke="none"/>
<line x1="32.4" x2="207.0" y1="331.1" y2="331.1" stroke="#7c7c7c" stroke-width="1.0"/>
<path d="M32.4,323.92 33.4,323.55 34.4,322.97 35.4,322.32 36.4,321.64 37.4,320.97 38.4,320.29 39.4,319.63 40.4,318.99 41.4,318.37 42.4,317.79 43.4,317.25 44.4,316.75 45.4,316.32 46.4,315.94 47.4,315.63 48.4,315.39 49.4,315.22 50.4,315.11 51.4,315.06 52.4,315.06 53.4,315.11 54.4,315.20 55.4,315.33 56.4,315.49 57.4,315.69 58.4,315.90 59.4,316.14 60.4,316.40 61.4,316.68 62.4,316.98 63.4,317.29 64.4,317.62 65.4,317.96 66.4,318.31 67.4,318.67 68.4,319.04 69.4,319.41 70.4,319.79 71.4,320.18 72.4,320.57 73.4,320.96 74.4,321.35 75.4,321.73 76.4,322.12 77.4,322.50 78.4,322.87 79.4,323.23 80.4,323.59 81.4,323.93 82.4,324.26 83.4,324.58 84.4,324.88 85.4,325.17 86.4,325.44 87.4,325.69 88.4,325.92 89.4,326.14 90.4,326.34 91.4,326.52 92.4,326.67 93.4,326.81 94.4,326.93 95.4,327.02 96.4,327.09 97.4,327.14 98.4,327.17 99.4,327.17 100.4,327.14 101.4,327.10 102.4,327.02 103.4,326.92 104.4,326.79 105.4,326.63 106.4,326.45 107.4,326.23 108.4,325.99 109.4,325.71 110.4,325.41 111.4,325.06 112.4,324.66 113.4,324.21 114.4,323.70 115.4,323.12 116.4,322.46 117.4,321.71 118.4,320.88 119.4,319.96 120.4,318.94 121.4,317.83 122.4,316.65 123.4,315.41 124.4,314.12 125.4,312.78 126.4,311.40 127.4,309.98 128.4,308.53 129.4,307.04 130.4,305.53 131.4,303.99 132.4,302.43 133.4,300.85 134.4,299.26 135.4,297.65 136.4,296.04 137.4,294.43 138.4,292.81 139.4,291.20 140.4,289.60 141.4,288.04 142.4,286.51 143.4,285.04 144.4,283.64 145.4,282.32 146.4,281.10 147.4,279.99 148.4,279.00 149.4,278.15 150.4,277.44 151.4,276.86 152.4,276.40 153.4,276.05 154.4,275.79 155.4,275.63 156.4,275.53 157.4,275.49 158.4,275.50 159.4,275.56 160.4,275.66 161.4,275.80 162.4,276.00 163.4,276.26 164.4,276.59 165.4,277.00 166.4,277.50 167.4,278.08 168.4,278.77 169.4,279.55 170.4,280.44 171.4,281.42 172.4,282.49 173.4,283.64 174.4,284.88 175.4,286.19 176.4,287.57 177.4,289.02 178.4,290.53 179.4,292.10 180.4,293.72 181.4,295.39 182.4,297.10 183.4,298.85 184.4,300.63 185.4,302.44 186.4,304.28 187.4,306.13 188.4,308.00 189.4,309.88 190.4,311.77 191.4,313.65 192.4,315.53 193.4,317.41 194.4,319.25 195.4,321.05 196.4,322.76 197.4,324.32 198.4,325.70 199.4,326.83 200.4,327.66 201.4,328.17 202.4,328.35 203.4,328.22 204.4,327.83 205.4,327.23 206.4,326.59 206.9,326.34" fill="none" stroke="#0a0a28" stroke-width="1.0" stroke-linejoin="round"/>
<path d="M32.4,326.93 33.4,326.56 34.4,326.03 35.4,325.46 36.4,324.91 37.4,324.40 38.4,323.93 39.4,323.49 40.4,323.08 41.4,322.70 42.4,322.36 43.4,322.04 44.4,321.76 45.4,321.51 46.4,321.29 47.4,321.09 48.4,320.93 49.4,320.79 50.4,320.68 51.4,320.60 52.4,320.55 53.4,320.52 54.4,320.52 55.4,320.54 56.4,320.59 57.4,320.66 58.4,320.76 59.4,320.87 60.4,321.01 61.4,321.17 62.4,321.34 63.4,321.53 64.4,321.74 65.4,321.96 66.4,322.19 67.4,322.43 68.4,322.68 69.4,322.94 70.4,323.21 71.4,323.48 72.4,323.75 73.4,324.02 74.4,324.30 75.4,324.57 76.4,324.84 77.4,325.11 78.4,325.37 79.4,325.62 80.4,325.87 81.4,326.10 82.4,326.33 83.4,326.54 84.4,326.74 85.4,326.92 86.4,327.09 87.4,327.25 88.4,327.38 89.4,327.51 90.4,327.62 91.4,327.71 92.4,327.79 93.4,327.85 94.4,327.90 95.4,327.93 96.4,327.94 97.4,327.94 98.4,327.92 99.4,327.88 100.4,327.83 101.4,327.76 102.4,327.67 103.4,327.57 104.4,327.44 105.4,327.30 106.4,327.14 107.4,326.96 108.4,326.77 109.4,326.55 110.4,326.31 111.4,326.05 112.4,325.76 113.4,325.44 114.4,325.08 115.4,324.67 116.4,324.22 117.4,323.72 118.4,323.16 119.4,322.54 120.4,321.86 121.4,321.10 122.4,320.27 123.4,319.37 124.4,318.39 125.4,317.33 126.4,316.20 127.4,315.00 128.4,313.74 129.4,312.42 130.4,311.05 131.4,309.63 132.4,308.16 133.4,306.66 134.4,305.11 135.4,303.54 136.4,301.94 137.4,300.32 138.4,298.68 139.4,297.04 140.4,295.40 141.4,293.78 142.4,292.22 143.4,290.72 144.4,289.31 145.4,288.00 146.4,286.80 147.4,285.72 148.4,284.76 149.4,283.93 150.4,283.22 151.4,282.64 152.4,282.18 153.4,281.82 154.4,281.56 155.4,281.39 156.4,281.31 157.4,281.30 158.4,281.36 159.4,281.48 160.4,281.66 161.4,281.91 162.4,282.22 163.4,282.59 164.4,283.04 165.4,283.56 166.4,284.16 167.4,284.83 168.4,285.58 169.4,286.41 170.4,287.33 171.4,288.32 172.4,289.38 173.4,290.52 174.4,291.73 175.4,293.02 176.4,294.37 177.4,295.78 178.4,297.26 179.4,298.80 180.4,300.41 181.4,302.07 182.4,303.79 183.4,305.56 184.4,307.37 185.4,309.23 186.4,311.10 187.4,312.98 188.4,314.83 189.4,316.65 190.4,318.42 191.4,320.11 192.4,321.71 193.4,323.21 194.4,324.57 195.4,325.80 196.4,326.88 197.4,327.80 198.4,328.56 199.4,329.14 200.4,329.54 201.4,329.76 202.4,329.78 203.4,329.60 204.4,329.21 205.4,328.63 206.4,327.99 206.9,327.74" fill="none" stroke="#0808d0" stroke-width="1.15" stroke-linejoin="round"/>
</g>
<line x1="140.5" x2="140.5" y1="269.5" y2="335.0" stroke="#6e6e6e" stroke-width="1.0"/>
<line x1="32.5" x2="32.5" y1="269.5" y2="335.5" stroke="#c4c4c4" stroke-width="1"/>
<line x1="32.0" x2="207.5" y1="335.5" y2="335.5" stroke="#7a7a7a" stroke-width="1"/>
<text x="32.40" y="350.3" font-size="10.4" text-anchor="middle" font-weight="normal" fill="#303030">0</text>
<line x1="67.32" x2="67.32" y1="335.5" y2="333.5" stroke="#333333" stroke-width="0.7"/>
<text x="67.32" y="350.3" font-size="10.4" text-anchor="middle" font-weight="normal" fill="#303030">20</text>
<line x1="102.24" x2="102.24" y1="335.5" y2="333.5" stroke="#333333" stroke-width="0.7"/>
<text x="102.24" y="350.3" font-size="10.4" text-anchor="middle" font-weight="normal" fill="#303030">40</text>
<line x1="137.16" x2="137.16" y1="335.5" y2="333.5" stroke="#333333" stroke-width="0.7"/>
<text x="137.16" y="350.3" font-size="10.4" text-anchor="middle" font-weight="normal" fill="#303030">60</text>
<line x1="172.08" x2="172.08" y1="335.5" y2="333.5" stroke="#333333" stroke-width="0.7"/>
<text x="172.08" y="350.3" font-size="10.4" text-anchor="middle" font-weight="normal" fill="#303030">80</text>
<line x1="207.00" x2="207.00" y1="335.5" y2="333.5" stroke="#333333" stroke-width="0.7"/>
<text x="207.00" y="350.3" font-size="10.4" text-anchor="middle" font-weight="normal" fill="#303030">100</text>
<line x1="32.5" x2="34.5" y1="261.5" y2="261.5" stroke="#333333" stroke-width="0.7"/>
<text x="29.099999999999998" y="265.7" font-size="10.4" text-anchor="end" font-weight="normal" fill="#303030">80</text>
<line x1="32.5" x2="34.5" y1="278.0" y2="278.0" stroke="#333333" stroke-width="0.7"/>
<text x="29.099999999999998" y="282.2" font-size="10.4" text-anchor="end" font-weight="normal" fill="#303030">60</text>
<line x1="32.5" x2="34.5" y1="296.0" y2="296.0" stroke="#333333" stroke-width="0.7"/>
<text x="29.099999999999998" y="300.2" font-size="10.4" text-anchor="end" font-weight="normal" fill="#303030">40</text>
<line x1="32.5" x2="34.5" y1="313.6" y2="313.6" stroke="#333333" stroke-width="0.7"/>
<text x="29.099999999999998" y="317.8" font-size="10.4" text-anchor="end" font-weight="normal" fill="#303030">20</text>
<line x1="32.5" x2="34.5" y1="331.1" y2="331.1" stroke="#333333" stroke-width="0.7"/>
<text x="29.099999999999998" y="335.3" font-size="10.4" text-anchor="end" font-weight="normal" fill="#303030">0</text>
<rect x="32.5" y="260.5" width="176.70" height="9.00" fill="#fff" stroke="#dadada" stroke-width="0.8"/>
<rect x="32.6" y="260.2" width="31.20" height="9.60" fill="#8c8c8c"/>
<rect x="144.0" y="260.2" width="50.70" height="9.60" fill="#8c8c8c"/>
<path d="M156.90,247.30 L159.00,245.40 L159.00,250.80" fill="none" stroke="#000" stroke-width="1.35" stroke-linejoin="bevel"/>
<text x="84.9" y="255.8" font-size="11.15" text-anchor="start" font-weight="bold" fill="#000">Knee Sagittal</text>
<text x="12.8" y="298.25" font-size="11.4" text-anchor="middle" font-weight="normal" fill="#262626" transform="rotate(-90 12.8 298.25)">Ext/Flex [Deg]</text>
<clipPath id="clipkf"><rect x="264.7" y="270.4" width="174.3" height="64.60000000000002"/></clipPath>
<g clip-path="url(#clipkf)">
<path d="M264.7,314.08 265.7,310.82 266.7,307.10 267.7,304.05 268.7,301.88 269.7,300.47 270.7,299.64 271.7,299.20 272.7,298.99 273.7,298.84 274.7,298.62 275.7,298.25 276.7,297.64 277.7,296.73 278.7,295.48 279.7,293.91 280.7,292.12 281.7,290.23 282.7,288.37 283.7,286.63 284.7,285.09 285.7,283.75 286.7,282.57 287.7,281.53 288.7,280.61 289.7,279.78 290.7,279.05 291.7,278.40 292.7,277.86 293.7,277.41 294.7,277.08 295.7,276.85 296.7,276.73 297.7,276.73 298.7,276.85 299.7,277.10 300.7,277.47 301.7,277.98 302.7,278.62 303.7,279.40 304.7,280.30 305.7,281.30 306.7,282.38 307.7,283.50 308.7,284.65 309.7,285.78 310.7,286.88 311.7,287.91 312.7,288.85 313.7,289.68 314.7,290.38 315.7,290.96 316.7,291.44 317.7,291.81 318.7,292.10 319.7,292.31 320.7,292.47 321.7,292.58 322.7,292.65 323.7,292.70 324.7,292.74 325.7,292.78 326.7,292.84 327.7,292.92 328.7,293.04 329.7,293.19 330.7,293.38 331.7,293.59 332.7,293.81 333.7,294.04 334.7,294.26 335.7,294.45 336.7,294.63 337.7,294.76 338.7,294.84 339.7,294.88 340.7,294.86 341.7,294.79 342.7,294.68 343.7,294.53 344.7,294.34 345.7,294.12 346.7,293.86 347.7,293.57 348.7,293.26 349.7,292.93 350.7,292.57 351.7,292.20 352.7,291.82 353.7,291.43 354.7,291.03 355.7,290.63 356.7,290.22 357.7,289.80 358.7,289.38 359.7,288.95 360.7,288.53 361.7,288.10 362.7,287.67 363.7,287.24 364.7,286.81 365.7,286.38 366.7,285.96 367.7,285.53 368.7,285.11 369.7,284.70 370.7,284.29 371.7,283.89 372.7,283.50 373.7,283.11 374.7,282.73 375.7,282.37 376.7,282.01 377.7,281.66 378.7,281.33 379.7,281.00 380.7,280.68 381.7,280.37 382.7,280.05 383.7,279.72 384.7,279.39 385.7,279.04 386.7,278.68 387.7,278.30 388.7,277.90 389.7,277.48 390.7,277.07 391.7,276.67 392.7,276.30 393.7,275.98 394.7,275.71 395.7,275.51 396.7,275.41 397.7,275.40 398.7,275.51 399.7,275.73 400.7,276.06 401.7,276.50 402.7,277.04 403.7,277.67 404.7,278.40 405.7,279.20 406.7,280.09 407.7,281.05 408.7,282.08 409.7,283.18 410.7,284.33 411.7,285.53 412.7,286.77 413.7,288.06 414.7,289.38 415.7,290.74 416.7,292.12 417.7,293.53 418.7,294.96 419.7,296.40 420.7,297.86 421.7,299.33 422.7,300.80 423.7,302.27 424.7,303.71 425.7,305.10 426.7,306.43 427.7,307.65 428.7,308.74 429.7,309.68 430.7,310.43 431.7,310.99 432.7,311.37 433.7,311.59 434.7,311.71 435.7,311.78 436.7,311.84 437.7,311.94 438.7,312.04 L438.7,323.65 437.7,323.44 436.7,323.20 435.7,323.00 434.7,322.84 433.7,322.73 432.7,322.63 431.7,322.55 430.7,322.46 429.7,322.36 428.7,322.22 427.7,322.04 426.7,321.80 425.7,321.49 424.7,321.09 423.7,320.60 422.7,320.00 421.7,319.30 420.7,318.49 419.7,317.58 418.7,316.58 417.7,315.49 416.7,314.32 415.7,313.10 414.7,311.84 413.7,310.56 412.7,309.27 411.7,307.99 410.7,306.74 409.7,305.53 408.7,304.39 407.7,303.32 406.7,302.36 405.7,301.51 404.7,300.79 403.7,300.22 402.7,299.81 401.7,299.57 400.7,299.49 399.7,299.56 398.7,299.77 397.7,300.12 396.7,300.58 395.7,301.15 394.7,301.81 393.7,302.56 392.7,303.39 391.7,304.27 390.7,305.18 389.7,306.12 388.7,307.07 387.7,307.99 386.7,308.89 385.7,309.76 384.7,310.58 383.7,311.36 382.7,312.09 381.7,312.78 380.7,313.41 379.7,313.98 378.7,314.49 377.7,314.94 376.7,315.33 375.7,315.67 374.7,315.97 373.7,316.24 372.7,316.49 371.7,316.73 370.7,316.98 369.7,317.24 368.7,317.52 367.7,317.84 366.7,318.20 365.7,318.59 364.7,319.03 363.7,319.49 362.7,319.98 361.7,320.50 360.7,321.04 359.7,321.59 358.7,322.16 357.7,322.74 356.7,323.32 355.7,323.90 354.7,324.48 353.7,325.06 352.7,325.63 351.7,326.18 350.7,326.72 349.7,327.24 348.7,327.74 347.7,328.21 346.7,328.67 345.7,329.09 344.7,329.48 343.7,329.84 342.7,330.17 341.7,330.46 340.7,330.71 339.7,330.91 338.7,331.07 337.7,331.19 336.7,331.26 335.7,331.29 334.7,331.27 333.7,331.21 332.7,331.12 331.7,330.99 330.7,330.83 329.7,330.64 328.7,330.42 327.7,330.18 326.7,329.91 325.7,329.62 324.7,329.31 323.7,328.99 322.7,328.65 321.7,328.31 320.7,327.95 319.7,327.58 318.7,327.22 317.7,326.84 316.7,326.47 315.7,326.11 314.7,325.74 313.7,325.39 312.7,325.04 311.7,324.70 310.7,324.38 309.7,324.06 308.7,323.76 307.7,323.46 306.7,323.17 305.7,322.90 304.7,322.63 303.7,322.37 302.7,322.13 301.7,321.89 300.7,321.66 299.7,321.44 298.7,321.23 297.7,321.03 296.7,320.84 295.7,320.65 294.7,320.48 293.7,320.31 292.7,320.15 291.7,320.00 290.7,319.86 289.7,319.73 288.7,319.60 287.7,319.48 286.7,319.38 285.7,319.29 284.7,319.22 283.7,319.18 282.7,319.16 281.7,319.19 280.7,319.25 279.7,319.35 278.7,319.50 277.7,319.71 276.7,319.98 275.7,320.30 274.7,320.70 273.7,321.17 272.7,321.72 271.7,322.35 270.7,323.06 269.7,323.87 268.7,324.77 267.7,325.78 266.7,326.88 265.7,327.99 264.7,328.87 Z" fill="#0000ff" fill-opacity="0.2" stroke="none"/>
<path d="M264.7,319.39 265.7,318.70 266.7,317.45 267.7,315.71 268.7,313.58 269.7,311.16 270.7,308.55 271.7,305.87 272.7,303.22 273.7,300.68 274.7,298.31 275.7,296.13 276.7,294.12 277.7,292.29 278.7,290.63 279.7,289.12 280.7,287.75 281.7,286.52 282.7,285.40 283.7,284.39 284.7,283.48 285.7,282.65 286.7,281.89 287.7,281.19 288.7,280.54 289.7,279.93 290.7,279.37 291.7,278.88 292.7,278.44 293.7,278.09 294.7,277.81 295.7,277.63 296.7,277.55 297.7,277.57 298.7,277.72 299.7,277.99 300.7,278.39 301.7,278.93 302.7,279.61 303.7,280.41 304.7,281.30 305.7,282.27 306.7,283.28 307.7,284.31 308.7,285.34 309.7,286.33 310.7,287.26 311.7,288.11 312.7,288.86 313.7,289.51 314.7,290.08 315.7,290.56 316.7,290.96 317.7,291.30 318.7,291.59 319.7,291.83 320.7,292.03 321.7,292.20 322.7,292.36 323.7,292.51 324.7,292.65 325.7,292.81 326.7,292.98 327.7,293.17 328.7,293.39 329.7,293.61 330.7,293.85 331.7,294.08 332.7,294.31 333.7,294.53 334.7,294.73 335.7,294.90 336.7,295.04 337.7,295.15 338.7,295.21 339.7,295.22 340.7,295.18 341.7,295.08 342.7,294.91 343.7,294.68 344.7,294.37 345.7,293.99 346.7,293.52 347.7,293.01 348.7,292.49 349.7,292.02 350.7,291.63 351.7,291.34 352.7,291.20 353.7,291.21 354.7,291.38 355.7,291.69 356.7,292.12 357.7,292.63 358.7,293.22 359.7,293.86 360.7,294.51 361.7,295.16 362.7,295.79 363.7,296.36 364.7,296.87 365.7,297.27 366.7,297.56 367.7,297.70 368.7,297.68 369.7,297.51 370.7,297.19 371.7,296.73 372.7,296.16 373.7,295.49 374.7,294.73 375.7,293.90 376.7,293.03 377.7,292.11 378.7,291.16 379.7,290.20 380.7,289.20 381.7,288.17 382.7,287.11 383.7,286.00 384.7,284.84 385.7,283.63 386.7,282.36 387.7,281.02 388.7,279.63 389.7,278.21 390.7,276.81 391.7,275.47 392.7,274.25 393.7,273.18 394.7,272.28 395.7,271.57 396.7,271.02 397.7,270.65 398.7,270.45 399.7,270.41 400.7,270.53 401.7,270.81 402.7,271.24 403.7,271.81 404.7,272.52 405.7,273.34 406.7,274.27 407.7,275.27 408.7,276.34 409.7,277.45 410.7,278.59 411.7,279.74 412.7,280.89 413.7,282.04 414.7,283.21 415.7,284.47 416.7,285.88 417.7,287.49 418.7,289.33 419.7,291.40 420.7,293.63 421.7,295.96 422.7,298.31 423.7,300.61 424.7,302.78 425.7,304.77 426.7,306.55 427.7,308.09 428.7,309.36 429.7,310.36 430.7,311.06 431.7,311.46 432.7,311.59 433.7,311.51 434.7,311.32 435.7,311.09 436.7,310.92 437.7,310.85 438.7,310.89 L438.7,320.82 437.7,320.65 436.7,320.50 435.7,320.43 434.7,320.43 433.7,320.44 432.7,320.40 431.7,320.27 430.7,320.00 429.7,319.58 428.7,319.00 427.7,318.28 426.7,317.44 425.7,316.48 424.7,315.42 423.7,314.26 422.7,313.03 421.7,311.73 420.7,310.38 419.7,308.98 418.7,307.55 417.7,306.10 416.7,304.64 415.7,303.18 414.7,301.73 413.7,300.30 412.7,298.91 411.7,297.57 410.7,296.30 409.7,295.09 408.7,293.98 407.7,292.96 406.7,292.06 405.7,291.28 404.7,290.64 403.7,290.16 402.7,289.83 401.7,289.68 400.7,289.72 399.7,289.96 398.7,290.42 397.7,291.11 396.7,292.05 395.7,293.25 394.7,294.71 393.7,296.42 392.7,298.27 391.7,300.17 390.7,301.97 389.7,303.57 388.7,304.89 387.7,305.93 386.7,306.73 385.7,307.36 384.7,307.87 383.7,308.32 382.7,308.73 381.7,309.12 380.7,309.51 379.7,309.91 378.7,310.35 377.7,310.83 376.7,311.38 375.7,312.00 374.7,312.71 373.7,313.49 372.7,314.33 371.7,315.17 370.7,315.96 369.7,316.65 368.7,317.18 367.7,317.50 366.7,317.55 365.7,317.32 364.7,316.82 363.7,316.08 362.7,315.18 361.7,314.21 360.7,313.26 359.7,312.46 358.7,311.90 357.7,311.66 356.7,311.77 355.7,312.15 354.7,312.69 353.7,313.27 352.7,313.79 351.7,314.20 350.7,314.50 349.7,314.72 348.7,314.92 347.7,315.12 346.7,315.38 345.7,315.69 344.7,316.03 343.7,316.36 342.7,316.64 341.7,316.84 340.7,316.97 339.7,317.05 338.7,317.09 337.7,317.10 336.7,317.09 335.7,317.06 334.7,317.00 333.7,316.93 332.7,316.83 331.7,316.71 330.7,316.56 329.7,316.38 328.7,316.17 327.7,315.93 326.7,315.66 325.7,315.35 324.7,315.00 323.7,314.60 322.7,314.16 321.7,313.66 320.7,313.11 319.7,312.51 318.7,311.84 317.7,311.11 316.7,310.32 315.7,309.45 314.7,308.51 313.7,307.49 312.7,306.40 311.7,305.25 310.7,304.04 309.7,302.82 308.7,301.59 307.7,300.38 306.7,299.21 305.7,298.10 304.7,297.07 303.7,296.14 302.7,295.34 301.7,294.66 300.7,294.10 299.7,293.66 298.7,293.34 297.7,293.12 296.7,293.00 295.7,292.99 294.7,293.06 293.7,293.22 292.7,293.46 291.7,293.77 290.7,294.15 289.7,294.60 288.7,295.10 287.7,295.66 286.7,296.29 285.7,297.00 284.7,297.80 283.7,298.71 282.7,299.75 281.7,300.93 280.7,302.27 279.7,303.79 278.7,305.50 277.7,307.40 276.7,309.43 275.7,311.53 274.7,313.62 273.7,315.61 272.7,317.43 271.7,319.04 270.7,320.44 269.7,321.62 268.7,322.60 267.7,323.38 266.7,323.97 265.7,324.36 264.7,324.57 Z" fill="#000000" fill-opacity="0.2" stroke="none"/>
<line x1="264.7" x2="439.0" y1="325.5" y2="325.5" stroke="#7c7c7c" stroke-width="1.0"/>
<path d="M264.7,321.69 265.7,321.21 266.7,320.77 267.7,320.44 268.7,319.99 269.7,319.12 270.7,317.71 271.7,315.76 272.7,313.35 273.7,310.61 274.7,307.69 275.7,304.73 276.7,301.88 277.7,299.28 278.7,297.04 279.7,295.19 280.7,293.67 281.7,292.38 282.7,291.26 283.7,290.25 284.7,289.35 285.7,288.55 286.7,287.85 287.7,287.24 288.7,286.72 289.7,286.29 290.7,285.94 291.7,285.67 292.7,285.48 293.7,285.36 294.7,285.31 295.7,285.33 296.7,285.42 297.7,285.57 298.7,285.79 299.7,286.08 300.7,286.43 301.7,286.85 302.7,287.33 303.7,287.87 304.7,288.46 305.7,289.11 306.7,289.81 307.7,290.55 308.7,291.32 309.7,292.11 310.7,292.93 311.7,293.76 312.7,294.61 313.7,295.45 314.7,296.29 315.7,297.11 316.7,297.92 317.7,298.71 318.7,299.47 319.7,300.19 320.7,300.88 321.7,301.53 322.7,302.15 323.7,302.73 324.7,303.28 325.7,303.79 326.7,304.26 327.7,304.69 328.7,305.08 329.7,305.43 330.7,305.75 331.7,306.02 332.7,306.25 333.7,306.45 334.7,306.60 335.7,306.71 336.7,306.78 337.7,306.81 338.7,306.79 339.7,306.74 340.7,306.65 341.7,306.53 342.7,306.36 343.7,306.15 344.7,305.91 345.7,305.63 346.7,305.31 347.7,304.96 348.7,304.57 349.7,304.14 350.7,303.67 351.7,303.18 352.7,302.65 353.7,302.10 354.7,301.56 355.7,301.09 356.7,300.74 357.7,300.56 358.7,300.60 359.7,300.94 360.7,301.60 361.7,302.60 362.7,303.83 363.7,305.11 364.7,306.18 365.7,306.88 366.7,307.18 367.7,307.11 368.7,306.73 369.7,306.10 370.7,305.28 371.7,304.35 372.7,303.38 373.7,302.44 374.7,301.58 375.7,300.86 376.7,300.26 377.7,299.77 378.7,299.35 379.7,298.95 380.7,298.55 381.7,298.11 382.7,297.59 383.7,296.96 384.7,296.19 385.7,295.26 386.7,294.18 387.7,292.97 388.7,291.65 389.7,290.27 390.7,288.83 391.7,287.39 392.7,285.96 393.7,284.58 394.7,283.29 395.7,282.12 396.7,281.09 397.7,280.25 398.7,279.63 399.7,279.24 400.7,279.11 401.7,279.22 402.7,279.54 403.7,280.03 404.7,280.66 405.7,281.40 406.7,282.21 407.7,283.04 408.7,283.88 409.7,284.70 410.7,285.49 411.7,286.31 412.7,287.23 413.7,288.32 414.7,289.64 415.7,291.24 416.7,293.09 417.7,295.13 418.7,297.30 419.7,299.52 420.7,301.73 421.7,303.86 422.7,305.89 423.7,307.76 424.7,309.48 425.7,311.03 426.7,312.39 427.7,313.56 428.7,314.50 429.7,315.23 430.7,315.71 431.7,315.96 432.7,316.01 433.7,315.93 434.7,315.81 435.7,315.75 436.7,315.82 437.7,316.06 438.7,316.36" fill="none" stroke="#0a0a28" stroke-width="1.0" stroke-linejoin="round"/>
<path d="M264.7,325.26 265.7,323.43 266.7,321.13 267.7,318.93 268.7,316.98 269.7,315.29 270.7,313.83 271.7,312.58 272.7,311.51 273.7,310.60 274.7,309.82 275.7,309.15 276.7,308.58 277.7,308.06 278.7,307.59 279.7,307.13 280.7,306.67 281.7,306.17 282.7,305.64 283.7,305.07 284.7,304.47 285.7,303.85 286.7,303.22 287.7,302.60 288.7,302.00 289.7,301.42 290.7,300.89 291.7,300.41 292.7,300.00 293.7,299.67 294.7,299.42 295.7,299.28 296.7,299.24 297.7,299.31 298.7,299.48 299.7,299.74 300.7,300.09 301.7,300.52 302.7,301.02 303.7,301.58 304.7,302.20 305.7,302.87 306.7,303.57 307.7,304.29 308.7,305.02 309.7,305.74 310.7,306.44 311.7,307.11 312.7,307.73 313.7,308.28 314.7,308.75 315.7,309.14 316.7,309.46 317.7,309.70 318.7,309.90 319.7,310.06 320.7,310.21 321.7,310.34 322.7,310.47 323.7,310.60 324.7,310.71 325.7,310.83 326.7,310.94 327.7,311.05 328.7,311.15 329.7,311.26 330.7,311.36 331.7,311.47 332.7,311.58 333.7,311.69 334.7,311.80 335.7,311.91 336.7,312.01 337.7,312.10 338.7,312.19 339.7,312.25 340.7,312.29 341.7,312.31 342.7,312.30 343.7,312.26 344.7,312.18 345.7,312.07 346.7,311.91 347.7,311.71 348.7,311.45 349.7,311.14 350.7,310.77 351.7,310.34 352.7,309.85 353.7,309.29 354.7,308.68 355.7,308.03 356.7,307.35 357.7,306.67 358.7,305.99 359.7,305.34 360.7,304.73 361.7,304.18 362.7,303.71 363.7,303.31 364.7,302.99 365.7,302.73 366.7,302.50 367.7,302.29 368.7,302.08 369.7,301.86 370.7,301.62 371.7,301.37 372.7,301.11 373.7,300.84 374.7,300.55 375.7,300.23 376.7,299.89 377.7,299.51 378.7,299.08 379.7,298.61 380.7,298.10 381.7,297.55 382.7,296.97 383.7,296.36 384.7,295.71 385.7,295.05 386.7,294.37 387.7,293.67 388.7,292.96 389.7,292.25 390.7,291.53 391.7,290.81 392.7,290.10 393.7,289.41 394.7,288.74 395.7,288.13 396.7,287.59 397.7,287.16 398.7,286.85 399.7,286.69 400.7,286.71 401.7,286.92 402.7,287.32 403.7,287.90 404.7,288.63 405.7,289.50 406.7,290.48 407.7,291.53 408.7,292.64 409.7,293.78 410.7,294.95 411.7,296.13 412.7,297.33 413.7,298.56 414.7,299.83 415.7,301.13 416.7,302.45 417.7,303.79 418.7,305.13 419.7,306.46 420.7,307.75 421.7,309.00 422.7,310.19 423.7,311.30 424.7,312.33 425.7,313.25 426.7,314.07 427.7,314.78 428.7,315.38 429.7,315.87 430.7,316.24 431.7,316.51 432.7,316.67 433.7,316.76 434.7,316.80 435.7,316.83 436.7,316.87 437.7,316.94 438.7,317.02" fill="none" stroke="#0808d0" stroke-width="1.15" stroke-linejoin="round"/>
</g>
<line x1="372.95" x2="372.95" y1="270.4" y2="335.0" stroke="#6e6e6e" stroke-width="1.0"/>
<line x1="264.5" x2="264.5" y1="270.4" y2="335.5" stroke="#c4c4c4" stroke-width="1"/>
<line x1="264.0" x2="439.5" y1="335.5" y2="335.5" stroke="#7a7a7a" stroke-width="1"/>
<text x="264.70" y="350.3" font-size="10.4" text-anchor="middle" font-weight="normal" fill="#303030">0</text>
<line x1="299.56" x2="299.56" y1="335.5" y2="333.5" stroke="#333333" stroke-width="0.7"/>
<text x="299.56" y="350.3" font-size="10.4" text-anchor="middle" font-weight="normal" fill="#303030">20</text>
<line x1="334.42" x2="334.42" y1="335.5" y2="333.5" stroke="#333333" stroke-width="0.7"/>
<text x="334.42" y="350.3" font-size="10.4" text-anchor="middle" font-weight="normal" fill="#303030">40</text>
<line x1="369.28" x2="369.28" y1="335.5" y2="333.5" stroke="#333333" stroke-width="0.7"/>
<text x="369.28" y="350.3" font-size="10.4" text-anchor="middle" font-weight="normal" fill="#303030">60</text>
<line x1="404.14" x2="404.14" y1="335.5" y2="333.5" stroke="#333333" stroke-width="0.7"/>
<text x="404.14" y="350.3" font-size="10.4" text-anchor="middle" font-weight="normal" fill="#303030">80</text>
<line x1="439.00" x2="439.00" y1="335.5" y2="333.5" stroke="#333333" stroke-width="0.7"/>
<text x="439.00" y="350.3" font-size="10.4" text-anchor="middle" font-weight="normal" fill="#303030">100</text>
<line x1="264.5" x2="266.5" y1="269.2" y2="269.2" stroke="#333333" stroke-width="0.7"/>
<text x="261.4" y="273.4" font-size="10.4" text-anchor="end" font-weight="normal" fill="#303030">3</text>
<line x1="264.5" x2="266.5" y1="288.0" y2="288.0" stroke="#333333" stroke-width="0.7"/>
<text x="261.4" y="292.2" font-size="10.4" text-anchor="end" font-weight="normal" fill="#303030">2</text>
<line x1="264.5" x2="266.5" y1="306.8" y2="306.8" stroke="#333333" stroke-width="0.7"/>
<text x="261.4" y="311.0" font-size="10.4" text-anchor="end" font-weight="normal" fill="#303030">1</text>
<line x1="264.5" x2="266.5" y1="325.5" y2="325.5" stroke="#333333" stroke-width="0.7"/>
<text x="261.4" y="329.7" font-size="10.4" text-anchor="end" font-weight="normal" fill="#303030">0</text>
<rect x="264.5" y="261.4" width="176.50" height="9.00" fill="#fff" stroke="#dadada" stroke-width="0.8"/>
<rect x="278.8" y="261.09999999999997" width="6.50" height="9.60" fill="#8c8c8c"/>
<rect x="418.0" y="261.09999999999997" width="7.00" height="9.60" fill="#8c8c8c"/>
<path d="M387.80,247.30 L389.90,245.40 L389.90,250.80" fill="none" stroke="#000" stroke-width="1.35" stroke-linejoin="bevel"/>
<text x="318.1" y="255.8" font-size="11.15" text-anchor="start" font-weight="bold" fill="#000">Knee Frontal</text>
<text x="250.6" y="298.75" font-size="11.4" text-anchor="middle" font-weight="normal" fill="#262626" transform="rotate(-90 250.6 298.75)">Abd/Add [Deg]</text>
<text x="316.4" y="364.6" font-size="11.1" text-anchor="start" font-weight="normal" fill="#262626">Gait Cycle (%)</text>
<clipPath id="clipkt"><rect x="496.8" y="270.5" width="174.2" height="64.89999999999998"/></clipPath>
<g clip-path="url(#clipkt)">
<path d="M496.8,307.43 497.8,307.44 498.8,307.48 499.8,307.55 500.8,307.67 501.8,307.83 502.8,308.03 503.8,308.26 504.8,308.52 505.8,308.81 506.8,309.12 507.8,309.45 508.8,309.81 509.8,310.17 510.8,310.55 511.8,310.94 512.8,311.33 513.8,311.73 514.8,312.12 515.8,312.52 516.8,312.90 517.8,313.28 518.8,313.64 519.8,313.99 520.8,314.32 521.8,314.62 522.8,314.90 523.8,315.16 524.8,315.40 525.8,315.61 526.8,315.79 527.8,315.95 528.8,316.08 529.8,316.18 530.8,316.26 531.8,316.31 532.8,316.33 533.8,316.33 534.8,316.29 535.8,316.23 536.8,316.14 537.8,316.01 538.8,315.86 539.8,315.68 540.8,315.46 541.8,315.22 542.8,314.94 543.8,314.63 544.8,314.30 545.8,313.93 546.8,313.54 547.8,313.13 548.8,312.69 549.8,312.22 550.8,311.74 551.8,311.23 552.8,310.70 553.8,310.15 554.8,309.58 555.8,309.00 556.8,308.39 557.8,307.78 558.8,307.14 559.8,306.50 560.8,305.84 561.8,305.17 562.8,304.49 563.8,303.81 564.8,303.11 565.8,302.40 566.8,301.70 567.8,300.98 568.8,300.27 569.8,299.56 570.8,298.86 571.8,298.16 572.8,297.48 573.8,296.82 574.8,296.18 575.8,295.55 576.8,294.95 577.8,294.33 578.8,293.67 579.8,292.91 580.8,292.01 581.8,290.99 582.8,289.96 583.8,289.08 584.8,288.41 585.8,287.96 586.8,287.67 587.8,287.48 588.8,287.36 589.8,287.27 590.8,287.19 591.8,287.12 592.8,287.06 593.8,286.98 594.8,286.91 595.8,286.84 596.8,286.78 597.8,286.73 598.8,286.72 599.8,286.73 600.8,286.77 601.8,286.85 602.8,286.95 603.8,287.08 604.8,287.25 605.8,287.44 606.8,287.67 607.8,287.92 608.8,288.21 609.8,288.53 610.8,288.87 611.8,289.25 612.8,289.65 613.8,290.07 614.8,290.52 615.8,291.00 616.8,291.50 617.8,292.02 618.8,292.56 619.8,293.12 620.8,293.70 621.8,294.30 622.8,294.91 623.8,295.54 624.8,296.18 625.8,296.84 626.8,297.51 627.8,298.20 628.8,298.89 629.8,299.59 630.8,300.30 631.8,301.01 632.8,301.72 633.8,302.44 634.8,303.15 635.8,303.86 636.8,304.56 637.8,305.25 638.8,305.93 639.8,306.60 640.8,307.25 641.8,307.88 642.8,308.50 643.8,309.09 644.8,309.66 645.8,310.20 646.8,310.71 647.8,311.19 648.8,311.64 649.8,312.05 650.8,312.43 651.8,312.77 652.8,313.06 653.8,313.31 654.8,313.53 655.8,313.70 656.8,313.85 657.8,313.96 658.8,314.05 659.8,314.12 660.8,314.18 661.8,314.22 662.8,314.26 663.8,314.29 664.8,314.33 665.8,314.37 666.8,314.41 667.8,314.48 668.8,314.56 669.8,314.65 670.8,314.73 L670.8,328.10 669.8,328.00 668.8,327.88 667.8,327.74 666.8,327.61 665.8,327.47 664.8,327.34 663.8,327.20 662.8,327.06 661.8,326.93 660.8,326.79 659.8,326.66 658.8,326.52 657.8,326.39 656.8,326.26 655.8,326.13 654.8,326.00 653.8,325.88 652.8,325.75 651.8,325.63 650.8,325.51 649.8,325.39 648.8,325.27 647.8,325.14 646.8,325.02 645.8,324.89 644.8,324.76 643.8,324.63 642.8,324.49 641.8,324.34 640.8,324.19 639.8,324.03 638.8,323.86 637.8,323.68 636.8,323.49 635.8,323.29 634.8,323.08 633.8,322.85 632.8,322.61 631.8,322.36 630.8,322.09 629.8,321.81 628.8,321.50 627.8,321.19 626.8,320.85 625.8,320.50 624.8,320.14 623.8,319.77 622.8,319.39 621.8,319.00 620.8,318.62 619.8,318.23 618.8,317.85 617.8,317.47 616.8,317.10 615.8,316.74 614.8,316.40 613.8,316.07 612.8,315.76 611.8,315.48 610.8,315.21 609.8,314.98 608.8,314.77 607.8,314.59 606.8,314.45 605.8,314.34 604.8,314.26 603.8,314.20 602.8,314.17 601.8,314.16 600.8,314.18 599.8,314.21 598.8,314.26 597.8,314.32 596.8,314.40 595.8,314.48 594.8,314.57 593.8,314.67 592.8,314.78 591.8,314.88 590.8,314.99 589.8,315.09 588.8,315.18 587.8,315.27 586.8,315.35 585.8,315.42 584.8,315.48 583.8,315.52 582.8,315.54 581.8,315.55 580.8,315.55 579.8,315.55 578.8,315.56 577.8,315.58 576.8,315.62 575.8,315.69 574.8,315.80 573.8,315.94 572.8,316.12 571.8,316.34 570.8,316.61 569.8,316.92 568.8,317.27 567.8,317.68 566.8,318.13 565.8,318.64 564.8,319.19 563.8,319.78 562.8,320.41 561.8,321.06 560.8,321.73 559.8,322.41 558.8,323.09 557.8,323.77 556.8,324.43 555.8,325.07 554.8,325.69 553.8,326.28 552.8,326.85 551.8,327.39 550.8,327.90 549.8,328.38 548.8,328.84 547.8,329.27 546.8,329.66 545.8,330.03 544.8,330.36 543.8,330.67 542.8,330.94 541.8,331.18 540.8,331.39 539.8,331.56 538.8,331.70 537.8,331.81 536.8,331.88 535.8,331.92 534.8,331.92 533.8,331.89 532.8,331.82 531.8,331.72 530.8,331.58 529.8,331.40 528.8,331.19 527.8,330.94 526.8,330.65 525.8,330.33 524.8,329.96 523.8,329.56 522.8,329.12 521.8,328.64 520.8,328.12 519.8,327.57 518.8,326.98 517.8,326.37 516.8,325.74 515.8,325.09 514.8,324.43 513.8,323.76 512.8,323.10 511.8,322.44 510.8,321.79 509.8,321.15 508.8,320.54 507.8,319.95 506.8,319.39 505.8,318.87 504.8,318.39 503.8,317.96 502.8,317.58 501.8,317.25 500.8,316.99 499.8,316.79 498.8,316.67 497.8,316.62 496.8,316.61 Z" fill="#0000ff" fill-opacity="0.2" stroke="none"/>
<path d="M496.8,306.51 497.8,306.43 498.8,306.36 499.8,306.35 500.8,306.41 501.8,306.53 502.8,306.71 503.8,306.94 504.8,307.22 505.8,307.54 506.8,307.90 507.8,308.30 508.8,308.72 509.8,309.16 510.8,309.62 511.8,310.10 512.8,310.58 513.8,311.06 514.8,311.54 515.8,312.01 516.8,312.47 517.8,312.92 518.8,313.33 519.8,313.72 520.8,314.08 521.8,314.40 522.8,314.68 523.8,314.92 524.8,315.12 525.8,315.29 526.8,315.41 527.8,315.49 528.8,315.54 529.8,315.55 530.8,315.53 531.8,315.47 532.8,315.37 533.8,315.24 534.8,315.08 535.8,314.88 536.8,314.65 537.8,314.39 538.8,314.09 539.8,313.77 540.8,313.41 541.8,313.02 542.8,312.61 543.8,312.16 544.8,311.68 545.8,311.17 546.8,310.63 547.8,310.06 548.8,309.45 549.8,308.81 550.8,308.13 551.8,307.42 552.8,306.67 553.8,305.88 554.8,305.06 555.8,304.19 556.8,303.30 557.8,302.36 558.8,301.39 559.8,300.40 560.8,299.39 561.8,298.35 562.8,297.31 563.8,296.26 564.8,295.20 565.8,294.15 566.8,293.11 567.8,292.07 568.8,291.05 569.8,290.04 570.8,289.04 571.8,288.06 572.8,287.09 573.8,286.14 574.8,285.21 575.8,284.30 576.8,283.41 577.8,282.54 578.8,281.71 579.8,280.91 580.8,280.16 581.8,279.46 582.8,278.82 583.8,278.25 584.8,277.74 585.8,277.29 586.8,276.91 587.8,276.60 588.8,276.34 589.8,276.15 590.8,276.01 591.8,275.92 592.8,275.89 593.8,275.92 594.8,275.99 595.8,276.12 596.8,276.29 597.8,276.50 598.8,276.76 599.8,277.07 600.8,277.41 601.8,277.79 602.8,278.21 603.8,278.67 604.8,279.15 605.8,279.68 606.8,280.23 607.8,280.81 608.8,281.42 609.8,282.05 610.8,282.71 611.8,283.39 612.8,284.09 613.8,284.81 614.8,285.54 615.8,286.30 616.8,287.06 617.8,287.84 618.8,288.63 619.8,289.42 620.8,290.23 621.8,291.04 622.8,291.85 623.8,292.67 624.8,293.48 625.8,294.29 626.8,295.11 627.8,295.91 628.8,296.71 629.8,297.50 630.8,298.29 631.8,299.06 632.8,299.82 633.8,300.57 634.8,301.30 635.8,302.02 636.8,302.72 637.8,303.41 638.8,304.07 639.8,304.72 640.8,305.34 641.8,305.93 642.8,306.51 643.8,307.06 644.8,307.57 645.8,308.07 646.8,308.53 647.8,308.96 648.8,309.36 649.8,309.72 650.8,310.05 651.8,310.34 652.8,310.60 653.8,310.81 654.8,311.00 655.8,311.14 656.8,311.26 657.8,311.36 658.8,311.43 659.8,311.48 660.8,311.51 661.8,311.53 662.8,311.54 663.8,311.55 664.8,311.56 665.8,311.56 666.8,311.57 667.8,311.59 668.8,311.62 669.8,311.66 670.8,311.69 L670.8,320.56 669.8,320.46 668.8,320.35 667.8,320.25 666.8,320.17 665.8,320.11 664.8,320.07 663.8,320.04 662.8,320.02 661.8,320.01 660.8,319.99 659.8,319.97 658.8,319.94 657.8,319.89 656.8,319.83 655.8,319.75 654.8,319.64 653.8,319.51 652.8,319.34 651.8,319.13 650.8,318.90 649.8,318.62 648.8,318.32 647.8,317.99 646.8,317.63 645.8,317.24 644.8,316.83 643.8,316.40 642.8,315.95 641.8,315.48 640.8,314.99 639.8,314.49 638.8,313.97 637.8,313.44 636.8,312.90 635.8,312.36 634.8,311.81 633.8,311.25 632.8,310.69 631.8,310.13 630.8,309.57 629.8,309.02 628.8,308.47 627.8,307.92 626.8,307.38 625.8,306.86 624.8,306.34 623.8,305.83 622.8,305.33 621.8,304.84 620.8,304.37 619.8,303.91 618.8,303.47 617.8,303.03 616.8,302.62 615.8,302.22 614.8,301.84 613.8,301.48 612.8,301.13 611.8,300.81 610.8,300.50 609.8,300.22 608.8,299.96 607.8,299.72 606.8,299.51 605.8,299.31 604.8,299.14 603.8,298.99 602.8,298.86 601.8,298.76 600.8,298.67 599.8,298.60 598.8,298.55 597.8,298.52 596.8,298.51 595.8,298.51 594.8,298.54 593.8,298.57 592.8,298.63 591.8,298.70 590.8,298.78 589.8,298.88 588.8,298.99 587.8,299.12 586.8,299.26 585.8,299.41 584.8,299.57 583.8,299.74 582.8,299.92 581.8,300.12 580.8,300.34 579.8,300.58 578.8,300.85 577.8,301.16 576.8,301.51 575.8,301.91 574.8,302.35 573.8,302.84 572.8,303.37 571.8,303.94 570.8,304.54 569.8,305.16 568.8,305.81 567.8,306.48 566.8,307.16 565.8,307.85 564.8,308.54 563.8,309.24 562.8,309.94 561.8,310.64 560.8,311.35 559.8,312.04 558.8,312.74 557.8,313.42 556.8,314.10 555.8,314.77 554.8,315.43 553.8,316.08 552.8,316.71 551.8,317.32 550.8,317.92 549.8,318.49 548.8,319.05 547.8,319.58 546.8,320.08 545.8,320.56 544.8,321.01 543.8,321.44 542.8,321.82 541.8,322.18 540.8,322.50 539.8,322.79 538.8,323.04 537.8,323.25 536.8,323.43 535.8,323.57 534.8,323.67 533.8,323.73 532.8,323.76 531.8,323.75 530.8,323.71 529.8,323.62 528.8,323.50 527.8,323.34 526.8,323.15 525.8,322.91 524.8,322.64 523.8,322.32 522.8,321.97 521.8,321.58 520.8,321.15 519.8,320.69 518.8,320.20 517.8,319.68 516.8,319.14 515.8,318.59 514.8,318.02 513.8,317.46 512.8,316.90 511.8,316.34 510.8,315.80 509.8,315.27 508.8,314.77 507.8,314.30 506.8,313.86 505.8,313.47 504.8,313.12 503.8,312.82 502.8,312.58 501.8,312.40 500.8,312.28 499.8,312.24 498.8,312.28 497.8,312.38 496.8,312.49 Z" fill="#000000" fill-opacity="0.2" stroke="none"/>
<line x1="496.8" x2="671.0" y1="320.3" y2="320.3" stroke="#7c7c7c" stroke-width="1.0"/>
<path d="M496.8,309.41 497.8,309.36 498.8,309.34 499.8,309.36 500.8,309.45 501.8,309.59 502.8,309.79 503.8,310.04 504.8,310.33 505.8,310.67 506.8,311.04 507.8,311.44 508.8,311.87 509.8,312.32 510.8,312.80 511.8,313.29 512.8,313.79 513.8,314.30 514.8,314.81 515.8,315.32 516.8,315.82 517.8,316.32 518.8,316.80 519.8,317.26 520.8,317.70 521.8,318.11 522.8,318.50 523.8,318.85 524.8,319.17 525.8,319.46 526.8,319.72 527.8,319.95 528.8,320.13 529.8,320.29 530.8,320.40 531.8,320.48 532.8,320.52 533.8,320.51 534.8,320.47 535.8,320.39 536.8,320.26 537.8,320.09 538.8,319.87 539.8,319.61 540.8,319.30 541.8,318.95 542.8,318.55 543.8,318.10 544.8,317.61 545.8,317.08 546.8,316.52 547.8,315.91 548.8,315.28 549.8,314.61 550.8,313.91 551.8,313.19 552.8,312.44 553.8,311.67 554.8,310.88 555.8,310.07 556.8,309.24 557.8,308.40 558.8,307.55 559.8,306.69 560.8,305.83 561.8,304.96 562.8,304.08 563.8,303.21 564.8,302.34 565.8,301.47 566.8,300.61 567.8,299.76 568.8,298.92 569.8,298.09 570.8,297.28 571.8,296.48 572.8,295.71 573.8,294.96 574.8,294.23 575.8,293.53 576.8,292.86 577.8,292.21 578.8,291.61 579.8,291.03 580.8,290.50 581.8,290.00 582.8,289.55 583.8,289.14 584.8,288.77 585.8,288.45 586.8,288.17 587.8,287.93 588.8,287.73 589.8,287.58 590.8,287.46 591.8,287.37 592.8,287.33 593.8,287.32 594.8,287.34 595.8,287.40 596.8,287.49 597.8,287.62 598.8,287.78 599.8,287.96 600.8,288.18 601.8,288.42 602.8,288.70 603.8,289.00 604.8,289.32 605.8,289.67 606.8,290.04 607.8,290.44 608.8,290.86 609.8,291.30 610.8,291.76 611.8,292.24 612.8,292.74 613.8,293.26 614.8,293.79 615.8,294.34 616.8,294.90 617.8,295.48 618.8,296.07 619.8,296.68 620.8,297.29 621.8,297.91 622.8,298.55 623.8,299.19 624.8,299.84 625.8,300.50 626.8,301.16 627.8,301.83 628.8,302.50 629.8,303.17 630.8,303.84 631.8,304.51 632.8,305.18 633.8,305.85 634.8,306.50 635.8,307.15 636.8,307.79 637.8,308.42 638.8,309.03 639.8,309.63 640.8,310.21 641.8,310.78 642.8,311.32 643.8,311.84 644.8,312.34 645.8,312.81 646.8,313.25 647.8,313.66 648.8,314.04 649.8,314.39 650.8,314.71 651.8,314.99 652.8,315.23 653.8,315.43 654.8,315.60 655.8,315.73 656.8,315.83 657.8,315.91 658.8,315.97 659.8,316.01 660.8,316.03 661.8,316.04 662.8,316.05 663.8,316.05 664.8,316.06 665.8,316.07 666.8,316.08 667.8,316.11 668.8,316.16 669.8,316.21 670.8,316.27" fill="none" stroke="#0a0a28" stroke-width="1.0" stroke-linejoin="round"/>
<path d="M496.8,310.75 497.8,310.73 498.8,310.74 499.8,310.79 500.8,310.91 501.8,311.09 502.8,311.31 503.8,311.59 504.8,311.90 505.8,312.26 506.8,312.65 507.8,313.07 508.8,313.52 509.8,313.99 510.8,314.48 511.8,314.99 512.8,315.51 513.8,316.03 514.8,316.56 515.8,317.08 516.8,317.60 517.8,318.11 518.8,318.61 519.8,319.09 520.8,319.54 521.8,319.98 522.8,320.38 523.8,320.76 524.8,321.11 525.8,321.42 526.8,321.71 527.8,321.97 528.8,322.20 529.8,322.40 530.8,322.57 531.8,322.71 532.8,322.82 533.8,322.89 534.8,322.93 535.8,322.94 536.8,322.92 537.8,322.87 538.8,322.78 539.8,322.66 540.8,322.50 541.8,322.32 542.8,322.09 543.8,321.84 544.8,321.56 545.8,321.24 546.8,320.90 547.8,320.54 548.8,320.14 549.8,319.73 550.8,319.29 551.8,318.84 552.8,318.36 553.8,317.87 554.8,317.36 555.8,316.84 556.8,316.30 557.8,315.76 558.8,315.20 559.8,314.63 560.8,314.06 561.8,313.49 562.8,312.90 563.8,312.32 564.8,311.74 565.8,311.15 566.8,310.57 567.8,309.99 568.8,309.42 569.8,308.85 570.8,308.29 571.8,307.74 572.8,307.21 573.8,306.68 574.8,306.17 575.8,305.67 576.8,305.19 577.8,304.73 578.8,304.29 579.8,303.87 580.8,303.47 581.8,303.10 582.8,302.75 583.8,302.43 584.8,302.13 585.8,301.87 586.8,301.62 587.8,301.41 588.8,301.22 589.8,301.06 590.8,300.92 591.8,300.80 592.8,300.71 593.8,300.64 594.8,300.59 595.8,300.57 596.8,300.57 597.8,300.59 598.8,300.63 599.8,300.70 600.8,300.78 601.8,300.89 602.8,301.01 603.8,301.15 604.8,301.32 605.8,301.50 606.8,301.69 607.8,301.91 608.8,302.14 609.8,302.39 610.8,302.66 611.8,302.94 612.8,303.24 613.8,303.55 614.8,303.88 615.8,304.22 616.8,304.57 617.8,304.94 618.8,305.32 619.8,305.72 620.8,306.12 621.8,306.54 622.8,306.97 623.8,307.41 624.8,307.86 625.8,308.32 626.8,308.79 627.8,309.27 628.8,309.76 629.8,310.26 630.8,310.76 631.8,311.26 632.8,311.76 633.8,312.27 634.8,312.77 635.8,313.26 636.8,313.75 637.8,314.23 638.8,314.70 639.8,315.16 640.8,315.61 641.8,316.03 642.8,316.44 643.8,316.83 644.8,317.19 645.8,317.54 646.8,317.85 647.8,318.14 648.8,318.40 649.8,318.62 650.8,318.81 651.8,318.97 652.8,319.08 653.8,319.17 654.8,319.22 655.8,319.24 656.8,319.26 657.8,319.27 658.8,319.29 659.8,319.33 660.8,319.39 661.8,319.49 662.8,319.64 663.8,319.83 664.8,320.06 665.8,320.31 666.8,320.55 667.8,320.78 668.8,320.96 669.8,321.08 670.8,321.13" fill="none" stroke="#0808d0" stroke-width="1.15" stroke-linejoin="round"/>
</g>
<line x1="604.5" x2="604.5" y1="270.5" y2="335.4" stroke="#6e6e6e" stroke-width="1.0"/>
<line x1="496.5" x2="496.5" y1="270.5" y2="335.5" stroke="#c4c4c4" stroke-width="1"/>
<line x1="496.0" x2="671.5" y1="335.5" y2="335.5" stroke="#7a7a7a" stroke-width="1"/>
<text x="496.80" y="350.3" font-size="10.4" text-anchor="middle" font-weight="normal" fill="#303030">0</text>
<line x1="531.64" x2="531.64" y1="335.5" y2="333.5" stroke="#333333" stroke-width="0.7"/>
<text x="531.64" y="350.3" font-size="10.4" text-anchor="middle" font-weight="normal" fill="#303030">20</text>
<line x1="566.48" x2="566.48" y1="335.5" y2="333.5" stroke="#333333" stroke-width="0.7"/>
<text x="566.48" y="350.3" font-size="10.4" text-anchor="middle" font-weight="normal" fill="#303030">40</text>
<line x1="601.32" x2="601.32" y1="335.5" y2="333.5" stroke="#333333" stroke-width="0.7"/>
<text x="601.32" y="350.3" font-size="10.4" text-anchor="middle" font-weight="normal" fill="#303030">60</text>
<line x1="636.16" x2="636.16" y1="335.5" y2="333.5" stroke="#333333" stroke-width="0.7"/>
<text x="636.16" y="350.3" font-size="10.4" text-anchor="middle" font-weight="normal" fill="#303030">80</text>
<line x1="671.00" x2="671.00" y1="335.5" y2="333.5" stroke="#333333" stroke-width="0.7"/>
<text x="671.00" y="350.3" font-size="10.4" text-anchor="middle" font-weight="normal" fill="#303030">100</text>
<line x1="496.5" x2="498.5" y1="265.0" y2="265.0" stroke="#333333" stroke-width="0.7"/>
<text x="493.5" y="269.2" font-size="10.4" text-anchor="end" font-weight="normal" fill="#303030">15</text>
<line x1="496.5" x2="498.5" y1="283.5" y2="283.5" stroke="#333333" stroke-width="0.7"/>
<text x="493.5" y="287.7" font-size="10.4" text-anchor="end" font-weight="normal" fill="#303030">10</text>
<line x1="496.5" x2="498.5" y1="302.0" y2="302.0" stroke="#333333" stroke-width="0.7"/>
<text x="493.5" y="306.2" font-size="10.4" text-anchor="end" font-weight="normal" fill="#303030">5</text>
<line x1="496.5" x2="498.5" y1="320.3" y2="320.3" stroke="#333333" stroke-width="0.7"/>
<text x="493.5" y="324.5" font-size="10.4" text-anchor="end" font-weight="normal" fill="#303030">0</text>
<rect x="496.5" y="261.1" width="176.50" height="9.40" fill="#fff" stroke="#dadada" stroke-width="0.8"/>
<rect x="554.2" y="260.8" width="81.30" height="10.00" fill="#8c8c8c"/>
<path d="M633.10,247.30 L635.20,245.40 L635.20,250.80" fill="none" stroke="#000" stroke-width="1.35" stroke-linejoin="bevel"/>
<text x="538.0" y="255.7" font-size="11.15" text-anchor="start" font-weight="bold" fill="#000">Knee Transversal</text>
<text x="477.0" y="298.35" font-size="11.4" text-anchor="middle" font-weight="normal" fill="#262626" transform="rotate(-90 477.0 298.35)">Ext Rot/Int Rot [Deg]</text>
<clipPath id="clipas"><rect x="32.4" y="392.2" width="173.9" height="66.0"/></clipPath>
<g clip-path="url(#clipas)">
<path d="M32.4,415.54 33.4,416.40 34.4,417.57 35.4,418.79 36.4,419.96 37.4,421.05 38.4,422.02 39.4,422.87 40.4,423.56 41.4,424.10 42.4,424.44 43.4,424.59 44.4,424.55 45.4,424.32 46.4,423.93 47.4,423.39 48.4,422.74 49.4,421.99 50.4,421.16 51.4,420.29 52.4,419.38 53.4,418.47 54.4,417.57 55.4,416.70 56.4,415.89 57.4,415.12 58.4,414.42 59.4,413.76 60.4,413.15 61.4,412.59 62.4,412.07 63.4,411.59 64.4,411.14 65.4,410.72 66.4,410.33 67.4,409.97 68.4,409.63 69.4,409.30 70.4,409.00 71.4,408.70 72.4,408.41 73.4,408.13 74.4,407.85 75.4,407.56 76.4,407.28 77.4,406.98 78.4,406.67 79.4,406.36 80.4,406.03 81.4,405.69 82.4,405.34 83.4,404.98 84.4,404.62 85.4,404.25 86.4,403.88 87.4,403.51 88.4,403.13 89.4,402.76 90.4,402.38 91.4,402.01 92.4,401.64 93.4,401.28 94.4,400.93 95.4,400.58 96.4,400.24 97.4,399.91 98.4,399.60 99.4,399.30 100.4,399.01 101.4,398.74 102.4,398.48 103.4,398.24 104.4,398.02 105.4,397.83 106.4,397.65 107.4,397.50 108.4,397.38 109.4,397.28 110.4,397.22 111.4,397.20 112.4,397.22 113.4,397.30 114.4,397.44 115.4,397.64 116.4,397.92 117.4,398.27 118.4,398.71 119.4,399.23 120.4,399.86 121.4,400.58 122.4,401.42 123.4,402.37 124.4,403.46 125.4,404.68 126.4,406.07 127.4,407.62 128.4,409.35 129.4,411.28 130.4,413.39 131.4,415.67 132.4,418.09 133.4,420.58 134.4,423.10 135.4,425.60 136.4,428.02 137.4,430.31 138.4,432.41 139.4,434.28 140.4,435.86 141.4,437.10 142.4,438.00 143.4,438.54 144.4,438.73 145.4,438.57 146.4,438.03 147.4,437.08 148.4,435.77 149.4,434.23 150.4,432.66 151.4,431.18 152.4,429.75 153.4,428.28 154.4,426.72 155.4,425.09 156.4,423.43 157.4,421.79 158.4,420.23 159.4,418.74 160.4,417.36 161.4,416.09 162.4,414.96 163.4,413.96 164.4,413.12 165.4,412.41 166.4,411.84 167.4,411.39 168.4,411.05 169.4,410.81 170.4,410.67 171.4,410.61 172.4,410.62 173.4,410.69 174.4,410.81 175.4,410.97 176.4,411.17 177.4,411.38 178.4,411.61 179.4,411.83 180.4,412.05 181.4,412.25 182.4,412.42 183.4,412.57 184.4,412.70 185.4,412.80 186.4,412.88 187.4,412.94 188.4,412.98 189.4,413.01 190.4,413.03 191.4,413.03 192.4,413.03 193.4,413.02 194.4,413.00 195.4,412.98 196.4,412.96 197.4,412.95 198.4,412.93 199.4,412.92 200.4,412.92 201.4,412.92 202.4,412.94 203.4,412.97 204.4,413.02 205.4,413.06 205.9,413.08 L205.9,423.95 204.9,423.83 203.9,423.71 202.9,423.65 201.9,423.67 200.9,423.76 199.9,423.92 198.9,424.15 197.9,424.43 196.9,424.76 195.9,425.14 194.9,425.54 193.9,425.94 192.9,426.30 191.9,426.60 190.9,426.80 189.9,426.90 188.9,426.90 187.9,426.80 186.9,426.63 185.9,426.39 184.9,426.09 183.9,425.76 182.9,425.39 181.9,425.01 180.9,424.62 179.9,424.24 178.9,423.88 177.9,423.54 176.9,423.24 175.9,422.98 174.9,422.78 173.9,422.64 172.9,422.57 171.9,422.59 170.9,422.70 169.9,422.91 168.9,423.24 167.9,423.69 166.9,424.26 165.9,424.98 164.9,425.85 163.9,426.88 162.9,428.07 161.9,429.41 160.9,430.87 159.9,432.42 158.9,434.00 157.9,435.58 156.9,437.11 155.9,438.60 154.9,440.15 153.9,441.90 152.9,443.97 151.9,446.30 150.9,448.66 149.9,450.83 148.9,452.69 147.9,454.20 146.9,455.35 145.9,456.13 144.9,456.54 143.9,456.57 142.9,456.22 141.9,455.48 140.9,454.34 139.9,452.83 138.9,450.98 137.9,448.84 136.9,446.46 135.9,443.88 134.9,441.16 133.9,438.35 132.9,435.49 131.9,432.64 130.9,429.85 129.9,427.17 128.9,424.62 127.9,422.24 126.9,420.03 125.9,418.00 124.9,416.16 123.9,414.53 122.9,413.10 121.9,411.88 120.9,410.86 119.9,410.02 118.9,409.31 117.9,408.70 116.9,408.16 115.9,407.69 114.9,407.27 113.9,406.90 112.9,406.59 111.9,406.34 110.9,406.15 109.9,406.02 108.9,405.94 107.9,405.93 106.9,405.97 105.9,406.07 104.9,406.22 103.9,406.42 102.9,406.67 101.9,406.96 100.9,407.30 99.9,407.67 98.9,408.07 97.9,408.51 96.9,408.98 95.9,409.47 94.9,409.98 93.9,410.52 92.9,411.07 91.9,411.63 90.9,412.21 89.9,412.79 88.9,413.37 87.9,413.96 86.9,414.54 85.9,415.12 84.9,415.69 83.9,416.25 82.9,416.80 81.9,417.33 80.9,417.84 79.9,418.32 78.9,418.78 77.9,419.21 76.9,419.61 75.9,419.98 74.9,420.33 73.9,420.67 72.9,420.98 71.9,421.29 70.9,421.60 69.9,421.90 68.9,422.20 67.9,422.52 66.9,422.85 65.9,423.19 64.9,423.56 63.9,423.95 62.9,424.37 61.9,424.83 60.9,425.33 59.9,425.87 58.9,426.45 57.9,427.10 56.9,427.80 55.9,428.55 54.9,429.37 53.9,430.24 52.9,431.13 51.9,432.02 50.9,432.89 49.9,433.72 48.9,434.47 47.9,435.12 46.9,435.65 45.9,436.03 44.9,436.24 43.9,436.25 42.9,436.04 41.9,435.60 40.9,434.94 39.9,434.08 38.9,433.04 37.9,431.83 36.9,430.47 35.9,429.00 34.9,427.42 33.9,425.81 32.9,424.42 32.4,423.93 Z" fill="#0000ff" fill-opacity="0.2" stroke="none"/>
<path d="M32.4,418.03 33.4,418.95 34.4,420.18 35.4,421.44 36.4,422.59 37.4,423.62 38.4,424.51 39.4,425.26 40.4,425.84 41.4,426.25 42.4,426.48 43.4,426.52 44.4,426.37 45.4,426.05 46.4,425.56 47.4,424.94 48.4,424.20 49.4,423.35 50.4,422.42 51.4,421.42 52.4,420.37 53.4,419.29 54.4,418.20 55.4,417.12 56.4,416.06 57.4,415.03 58.4,414.06 59.4,413.15 60.4,412.31 61.4,411.56 62.4,410.90 63.4,410.36 64.4,409.92 65.4,409.59 66.4,409.33 67.4,409.10 68.4,408.89 69.4,408.67 70.4,408.44 71.4,408.19 72.4,407.93 73.4,407.66 74.4,407.38 75.4,407.08 76.4,406.78 77.4,406.47 78.4,406.15 79.4,405.83 80.4,405.50 81.4,405.17 82.4,404.83 83.4,404.49 84.4,404.15 85.4,403.82 86.4,403.48 87.4,403.15 88.4,402.82 89.4,402.49 90.4,402.17 91.4,401.86 92.4,401.56 93.4,401.26 94.4,400.98 95.4,400.70 96.4,400.44 97.4,400.19 98.4,399.96 99.4,399.74 100.4,399.54 101.4,399.35 102.4,399.19 103.4,399.04 104.4,398.92 105.4,398.81 106.4,398.73 107.4,398.68 108.4,398.65 109.4,398.64 110.4,398.67 111.4,398.73 112.4,398.82 113.4,398.95 114.4,399.13 115.4,399.34 116.4,399.61 117.4,399.92 118.4,400.29 119.4,400.72 120.4,401.25 121.4,401.87 122.4,402.63 123.4,403.52 124.4,404.57 125.4,405.78 126.4,407.17 127.4,408.74 128.4,410.51 129.4,412.48 130.4,414.65 131.4,417.00 132.4,419.48 133.4,422.05 134.4,424.64 135.4,427.21 136.4,429.69 137.4,432.03 138.4,434.19 139.4,436.09 140.4,437.70 141.4,438.96 142.4,439.85 143.4,440.37 144.4,440.53 145.4,440.33 146.4,439.81 147.4,438.97 148.4,437.84 149.4,436.51 150.4,435.02 151.4,433.46 152.4,431.84 153.4,430.20 154.4,428.55 155.4,426.89 156.4,425.26 157.4,423.66 158.4,422.11 159.4,420.63 160.4,419.23 161.4,417.93 162.4,416.74 163.4,415.68 164.4,414.75 165.4,413.95 166.4,413.28 167.4,412.71 168.4,412.26 169.4,411.91 170.4,411.66 171.4,411.49 172.4,411.40 173.4,411.39 174.4,411.45 175.4,411.58 176.4,411.77 177.4,412.02 178.4,412.33 179.4,412.69 180.4,413.09 181.4,413.46 182.4,413.76 183.4,413.97 184.4,414.09 185.4,414.12 186.4,414.09 187.4,414.01 188.4,413.89 189.4,413.75 190.4,413.61 191.4,413.47 192.4,413.34 193.4,413.23 194.4,413.12 195.4,413.02 196.4,412.92 197.4,412.81 198.4,412.71 199.4,412.63 200.4,412.57 201.4,412.54 202.4,412.57 203.4,412.66 204.4,412.81 205.4,412.99 205.9,413.07 L205.9,422.89 204.9,422.86 203.9,422.82 202.9,422.78 201.9,422.74 200.9,422.69 199.9,422.64 198.9,422.59 197.9,422.54 196.9,422.49 195.9,422.44 194.9,422.38 193.9,422.33 192.9,422.27 191.9,422.22 190.9,422.16 189.9,422.10 188.9,422.04 187.9,421.98 186.9,421.93 185.9,421.87 184.9,421.81 183.9,421.75 182.9,421.69 181.9,421.63 180.9,421.57 179.9,421.52 178.9,421.49 177.9,421.47 176.9,421.48 175.9,421.52 174.9,421.61 173.9,421.76 172.9,421.96 171.9,422.23 170.9,422.58 169.9,423.02 168.9,423.54 167.9,424.17 166.9,424.91 165.9,425.76 164.9,426.74 163.9,427.86 162.9,429.11 161.9,430.48 160.9,431.95 159.9,433.49 158.9,435.05 157.9,436.59 156.9,438.10 155.9,439.60 154.9,441.22 153.9,443.06 152.9,445.11 151.9,447.25 150.9,449.33 149.9,451.25 148.9,452.94 147.9,454.37 146.9,455.52 145.9,456.36 144.9,456.86 143.9,457.01 142.9,456.77 141.9,456.14 140.9,455.08 139.9,453.62 138.9,451.79 137.9,449.63 136.9,447.21 135.9,444.58 134.9,441.80 133.9,438.93 132.9,436.02 131.9,433.13 130.9,430.31 129.9,427.63 128.9,425.10 127.9,422.76 126.9,420.59 125.9,418.59 124.9,416.76 123.9,415.08 122.9,413.56 121.9,412.18 120.9,410.93 119.9,409.82 118.9,408.83 117.9,407.96 116.9,407.19 115.9,406.53 114.9,405.97 113.9,405.50 112.9,405.10 111.9,404.79 110.9,404.55 109.9,404.36 108.9,404.24 107.9,404.16 106.9,404.13 105.9,404.14 104.9,404.19 103.9,404.27 102.9,404.39 101.9,404.55 100.9,404.73 99.9,404.94 98.9,405.18 97.9,405.45 96.9,405.74 95.9,406.05 94.9,406.38 93.9,406.72 92.9,407.08 91.9,407.46 90.9,407.84 89.9,408.24 88.9,408.64 87.9,409.05 86.9,409.46 85.9,409.87 84.9,410.28 83.9,410.69 82.9,411.09 81.9,411.49 80.9,411.87 79.9,412.25 78.9,412.62 77.9,412.97 76.9,413.31 75.9,413.64 74.9,413.97 73.9,414.31 72.9,414.66 71.9,415.02 70.9,415.42 69.9,415.84 68.9,416.31 67.9,416.82 66.9,417.38 65.9,417.99 64.9,418.64 63.9,419.33 62.9,420.05 61.9,420.80 60.9,421.57 59.9,422.35 58.9,423.15 57.9,423.95 56.9,424.75 55.9,425.55 54.9,426.33 53.9,427.09 52.9,427.83 51.9,428.52 50.9,429.15 49.9,429.72 48.9,430.21 47.9,430.60 46.9,430.90 45.9,431.08 44.9,431.13 43.9,431.04 42.9,430.81 41.9,430.42 40.9,429.88 39.9,429.21 38.9,428.40 37.9,427.48 36.9,426.44 35.9,425.31 34.9,424.09 33.9,422.84 32.9,421.75 32.4,421.36 Z" fill="#000000" fill-opacity="0.2" stroke="none"/>
<line x1="32.4" x2="206.3" y1="419.5" y2="419.5" stroke="#7c7c7c" stroke-width="1.0"/>
<path d="M32.4,419.80 33.4,421.01 34.4,422.60 35.4,424.13 36.4,425.47 37.4,426.61 38.4,427.53 39.4,428.26 40.4,428.79 41.4,429.14 42.4,429.30 43.4,429.30 44.4,429.14 45.4,428.83 46.4,428.39 47.4,427.82 48.4,427.13 49.4,426.35 50.4,425.47 51.4,424.51 52.4,423.49 53.4,422.44 54.4,421.38 55.4,420.32 56.4,419.31 57.4,418.35 58.4,417.47 59.4,416.68 60.4,415.96 61.4,415.32 62.4,414.74 63.4,414.20 64.4,413.71 65.4,413.25 66.4,412.82 67.4,412.42 68.4,412.05 69.4,411.71 70.4,411.38 71.4,411.06 72.4,410.76 73.4,410.47 74.4,410.19 75.4,409.90 76.4,409.62 77.4,409.34 78.4,409.04 79.4,408.74 80.4,408.43 81.4,408.12 82.4,407.80 83.4,407.48 84.4,407.15 85.4,406.82 86.4,406.49 87.4,406.16 88.4,405.83 89.4,405.50 90.4,405.18 91.4,404.86 92.4,404.55 93.4,404.24 94.4,403.94 95.4,403.65 96.4,403.37 97.4,403.11 98.4,402.85 99.4,402.61 100.4,402.38 101.4,402.17 102.4,401.97 103.4,401.79 104.4,401.63 105.4,401.49 106.4,401.37 107.4,401.28 108.4,401.21 109.4,401.16 110.4,401.15 111.4,401.19 112.4,401.27 113.4,401.41 114.4,401.62 115.4,401.90 116.4,402.25 117.4,402.70 118.4,403.24 119.4,403.88 120.4,404.63 121.4,405.50 122.4,406.49 123.4,407.62 124.4,408.89 125.4,410.30 126.4,411.87 127.4,413.60 128.4,415.51 129.4,417.58 130.4,419.83 131.4,422.23 132.4,424.74 133.4,427.32 134.4,429.90 135.4,432.45 136.4,434.91 137.4,437.23 138.4,439.36 139.4,441.26 140.4,442.86 141.4,444.14 142.4,445.07 143.4,445.66 144.4,445.91 145.4,445.87 146.4,445.53 147.4,444.93 148.4,444.09 149.4,443.02 150.4,441.76 151.4,440.33 152.4,438.76 153.4,437.10 154.4,435.38 155.4,433.64 156.4,431.93 157.4,430.26 158.4,428.66 159.4,427.13 160.4,425.69 161.4,424.33 162.4,423.07 163.4,421.91 164.4,420.85 165.4,419.90 166.4,419.07 167.4,418.35 168.4,417.75 169.4,417.25 170.4,416.84 171.4,416.53 172.4,416.29 173.4,416.14 174.4,416.04 175.4,416.01 176.4,416.03 177.4,416.09 178.4,416.19 179.4,416.32 180.4,416.46 181.4,416.62 182.4,416.79 183.4,416.95 184.4,417.10 185.4,417.24 186.4,417.36 187.4,417.46 188.4,417.55 189.4,417.63 190.4,417.69 191.4,417.74 192.4,417.78 193.4,417.82 194.4,417.85 195.4,417.87 196.4,417.89 197.4,417.91 198.4,417.93 199.4,417.95 200.4,417.97 201.4,418.00 202.4,418.03 203.4,418.08 204.4,418.12 205.4,418.17 205.9,418.19" fill="none" stroke="#0a0a28" stroke-width="1.0" stroke-linejoin="round"/>
<path d="M32.4,420.69 33.4,422.06 34.4,423.83 35.4,425.51 36.4,426.97 37.4,428.18 38.4,429.16 39.4,429.92 40.4,430.49 41.4,430.87 42.4,431.08 43.4,431.14 44.4,431.05 45.4,430.85 46.4,430.53 47.4,430.12 48.4,429.63 49.4,429.08 50.4,428.47 51.4,427.84 52.4,427.18 53.4,426.50 54.4,425.82 55.4,425.13 56.4,424.44 57.4,423.75 58.4,423.08 59.4,422.41 60.4,421.77 61.4,421.15 62.4,420.55 63.4,419.99 64.4,419.46 65.4,418.97 66.4,418.50 67.4,418.07 68.4,417.66 69.4,417.27 70.4,416.89 71.4,416.53 72.4,416.17 73.4,415.81 74.4,415.46 75.4,415.09 76.4,414.72 77.4,414.33 78.4,413.92 79.4,413.49 80.4,413.05 81.4,412.58 82.4,412.11 83.4,411.62 84.4,411.12 85.4,410.61 86.4,410.10 87.4,409.58 88.4,409.06 89.4,408.54 90.4,408.02 91.4,407.51 92.4,407.00 93.4,406.50 94.4,406.01 95.4,405.54 96.4,405.08 97.4,404.63 98.4,404.21 99.4,403.81 100.4,403.43 101.4,403.07 102.4,402.74 103.4,402.45 104.4,402.18 105.4,401.95 106.4,401.75 107.4,401.59 108.4,401.47 109.4,401.40 110.4,401.37 111.4,401.41 112.4,401.50 113.4,401.66 114.4,401.90 115.4,402.21 116.4,402.61 117.4,403.10 118.4,403.69 119.4,404.39 120.4,405.19 121.4,406.11 122.4,407.15 123.4,408.32 124.4,409.62 125.4,411.07 126.4,412.66 127.4,414.40 128.4,416.30 129.4,418.36 130.4,420.57 131.4,422.93 132.4,425.39 133.4,427.91 134.4,430.45 135.4,432.96 136.4,435.39 137.4,437.70 138.4,439.85 139.4,441.80 140.4,443.49 141.4,444.88 142.4,445.94 143.4,446.65 144.4,446.98 145.4,446.90 146.4,446.41 147.4,445.48 148.4,444.16 149.4,442.55 150.4,440.81 151.4,439.05 152.4,437.33 153.4,435.64 154.4,433.98 155.4,432.36 156.4,430.76 157.4,429.20 158.4,427.67 159.4,426.20 160.4,424.78 161.4,423.44 162.4,422.19 163.4,421.05 164.4,420.01 165.4,419.11 166.4,418.34 167.4,417.71 168.4,417.23 169.4,416.87 170.4,416.63 171.4,416.49 172.4,416.46 173.4,416.50 174.4,416.62 175.4,416.81 176.4,417.05 177.4,417.33 178.4,417.64 179.4,417.97 180.4,418.30 181.4,418.64 182.4,418.96 183.4,419.26 184.4,419.52 185.4,419.74 186.4,419.92 187.4,420.04 188.4,420.13 189.4,420.17 190.4,420.17 191.4,420.13 192.4,420.05 193.4,419.94 194.4,419.79 195.4,419.61 196.4,419.39 197.4,419.15 198.4,418.88 199.4,418.59 200.4,418.29 201.4,418.01 202.4,417.82 203.4,417.76 204.4,417.87 205.4,418.11 205.9,418.23" fill="none" stroke="#0808d0" stroke-width="1.15" stroke-linejoin="round"/>
</g>
<line x1="140.4" x2="140.4" y1="392.2" y2="458.2" stroke="#6e6e6e" stroke-width="1.0"/>
<line x1="32.5" x2="32.5" y1="392.2" y2="458.5" stroke="#c4c4c4" stroke-width="1"/>
<line x1="32.0" x2="206.8" y1="458.5" y2="458.5" stroke="#7a7a7a" stroke-width="1"/>
<text x="32.40" y="472.9" font-size="10.4" text-anchor="middle" font-weight="normal" fill="#303030">0</text>
<line x1="67.18" x2="67.18" y1="458.5" y2="456.5" stroke="#333333" stroke-width="0.7"/>
<text x="67.18" y="472.9" font-size="10.4" text-anchor="middle" font-weight="normal" fill="#303030">20</text>
<line x1="101.96" x2="101.96" y1="458.5" y2="456.5" stroke="#333333" stroke-width="0.7"/>
<text x="101.96" y="472.9" font-size="10.4" text-anchor="middle" font-weight="normal" fill="#303030">40</text>
<line x1="136.74" x2="136.74" y1="458.5" y2="456.5" stroke="#333333" stroke-width="0.7"/>
<text x="136.74" y="472.9" font-size="10.4" text-anchor="middle" font-weight="normal" fill="#303030">60</text>
<line x1="171.52" x2="171.52" y1="458.5" y2="456.5" stroke="#333333" stroke-width="0.7"/>
<text x="171.52" y="472.9" font-size="10.4" text-anchor="middle" font-weight="normal" fill="#303030">80</text>
<line x1="206.30" x2="206.30" y1="458.5" y2="456.5" stroke="#333333" stroke-width="0.7"/>
<text x="206.30" y="472.9" font-size="10.4" text-anchor="middle" font-weight="normal" fill="#303030">100</text>
<line x1="32.5" x2="34.5" y1="390.3" y2="390.3" stroke="#333333" stroke-width="0.7"/>
<text x="29.099999999999998" y="394.5" font-size="10.4" text-anchor="end" font-weight="normal" fill="#303030">20</text>
<line x1="32.5" x2="34.5" y1="419.5" y2="419.5" stroke="#333333" stroke-width="0.7"/>
<text x="29.099999999999998" y="423.7" font-size="10.4" text-anchor="end" font-weight="normal" fill="#303030">0</text>
<line x1="32.5" x2="34.5" y1="448.8" y2="448.8" stroke="#333333" stroke-width="0.7"/>
<text x="29.099999999999998" y="453.0" font-size="10.4" text-anchor="end" font-weight="normal" fill="#303030">-20</text>
<rect x="32.5" y="382.8" width="176.30" height="9.40" fill="#fff" stroke="#dadada" stroke-width="0.8"/>
<path d="M159.10,370.60 L161.20,368.70 L161.20,374.10" fill="none" stroke="#000" stroke-width="1.35" stroke-linejoin="bevel"/>
<text x="83.3" y="379.1" font-size="11.15" text-anchor="start" font-weight="bold" fill="#000">Ankle Sagittal</text>
<text x="9.8" y="421.45" font-size="11.4" text-anchor="middle" font-weight="normal" fill="#262626" transform="rotate(-90 9.8 421.45)">Ext/Flex [Deg]</text>
<text x="84.2" y="487.7" font-size="11.1" text-anchor="start" font-weight="normal" fill="#262626">Gait Cycle (%)</text>
<clipPath id="clipfp"><rect x="496.3" y="391.5" width="172.49999999999994" height="64.69999999999999"/></clipPath>
<g clip-path="url(#clipfp)">
<path d="M496.3,420.87 497.3,421.20 498.3,421.63 499.3,422.07 500.3,422.49 501.3,422.89 502.3,423.26 503.3,423.61 504.3,423.94 505.3,424.24 506.3,424.51 507.3,424.77 508.3,425.01 509.3,425.22 510.3,425.42 511.3,425.59 512.3,425.75 513.3,425.88 514.3,426.00 515.3,426.10 516.3,426.19 517.3,426.26 518.3,426.31 519.3,426.35 520.3,426.37 521.3,426.38 522.3,426.37 523.3,426.36 524.3,426.33 525.3,426.29 526.3,426.24 527.3,426.17 528.3,426.10 529.3,426.02 530.3,425.93 531.3,425.83 532.3,425.72 533.3,425.61 534.3,425.48 535.3,425.36 536.3,425.23 537.3,425.09 538.3,424.95 539.3,424.80 540.3,424.65 541.3,424.50 542.3,424.35 543.3,424.19 544.3,424.04 545.3,423.88 546.3,423.73 547.3,423.57 548.3,423.42 549.3,423.27 550.3,423.12 551.3,422.98 552.3,422.84 553.3,422.71 554.3,422.59 555.3,422.47 556.3,422.37 557.3,422.27 558.3,422.19 559.3,422.11 560.3,422.05 561.3,422.01 562.3,421.97 563.3,421.96 564.3,421.96 565.3,421.98 566.3,422.01 567.3,422.07 568.3,422.14 569.3,422.24 570.3,422.36 571.3,422.50 572.3,422.66 573.3,422.84 574.3,423.02 575.3,423.21 576.3,423.39 577.3,423.56 578.3,423.71 579.3,423.83 580.3,423.91 581.3,423.96 582.3,423.96 583.3,423.93 584.3,423.87 585.3,423.82 586.3,423.77 587.3,423.74 588.3,423.75 589.3,423.79 590.3,423.85 591.3,423.91 592.3,423.93 593.3,423.90 594.3,423.79 595.3,423.58 596.3,423.24 597.3,422.76 598.3,422.09 599.3,421.23 600.3,420.15 601.3,418.82 602.3,417.25 603.3,415.48 604.3,413.55 605.3,411.51 606.3,409.43 607.3,407.36 608.3,405.37 609.3,403.53 610.3,401.95 611.3,400.69 612.3,399.81 613.3,399.31 614.3,399.12 615.3,399.20 616.3,399.48 617.3,399.93 618.3,400.52 619.3,401.20 620.3,401.94 621.3,402.70 622.3,403.46 623.3,404.18 624.3,404.84 625.3,405.43 626.3,405.97 627.3,406.45 628.3,406.88 629.3,407.27 630.3,407.61 631.3,407.91 632.3,408.18 633.3,408.43 634.3,408.65 635.3,408.84 636.3,409.03 637.3,409.20 638.3,409.37 639.3,409.53 640.3,409.70 641.3,409.87 642.3,410.06 643.3,410.26 644.3,410.49 645.3,410.74 646.3,411.02 647.3,411.33 648.3,411.68 649.3,412.07 650.3,412.49 651.3,412.95 652.3,413.43 653.3,413.93 654.3,414.45 655.3,414.98 656.3,415.51 657.3,416.05 658.3,416.59 659.3,417.11 660.3,417.63 661.3,418.12 662.3,418.60 663.3,419.04 664.3,419.45 665.3,419.83 666.3,420.16 667.3,420.44 668.3,420.62 668.8,420.68 L668.8,428.99 667.8,428.80 666.8,428.50 665.8,428.17 664.8,427.85 663.8,427.55 662.8,427.27 661.8,427.01 660.8,426.76 659.8,426.53 658.8,426.32 657.8,426.13 656.8,425.95 655.8,425.79 654.8,425.64 653.8,425.50 652.8,425.38 651.8,425.27 650.8,425.17 649.8,425.08 648.8,425.01 647.8,424.94 646.8,424.88 645.8,424.83 644.8,424.79 643.8,424.76 642.8,424.73 641.8,424.71 640.8,424.70 639.8,424.69 638.8,424.69 637.8,424.69 636.8,424.69 635.8,424.69 634.8,424.70 633.8,424.71 632.8,424.72 631.8,424.73 630.8,424.73 629.8,424.74 628.8,424.75 627.8,424.75 626.8,424.75 625.8,424.75 624.8,424.76 623.8,424.78 622.8,424.82 621.8,424.90 620.8,425.04 619.8,425.23 618.8,425.50 617.8,425.85 616.8,426.30 615.8,426.87 614.8,427.59 613.8,428.50 612.8,429.67 611.8,431.13 610.8,432.95 609.8,435.18 608.8,437.88 607.8,441.07 606.8,444.75 605.8,448.61 604.8,451.83 603.8,453.49 602.8,453.19 601.8,451.26 600.8,448.49 599.8,445.68 598.8,443.31 597.8,441.48 596.8,440.12 595.8,439.13 594.8,438.43 593.8,437.92 592.8,437.52 591.8,437.17 590.8,436.84 589.8,436.53 588.8,436.24 587.8,435.96 586.8,435.70 585.8,435.45 584.8,435.22 583.8,435.01 582.8,434.81 581.8,434.62 580.8,434.45 579.8,434.29 578.8,434.15 577.8,434.01 576.8,433.89 575.8,433.79 574.8,433.69 573.8,433.60 572.8,433.53 571.8,433.47 570.8,433.41 569.8,433.37 568.8,433.34 567.8,433.31 566.8,433.30 565.8,433.29 564.8,433.29 563.8,433.30 562.8,433.32 561.8,433.34 560.8,433.37 559.8,433.41 558.8,433.45 557.8,433.50 556.8,433.56 555.8,433.61 554.8,433.68 553.8,433.75 552.8,433.82 551.8,433.89 550.8,433.97 549.8,434.05 548.8,434.13 547.8,434.22 546.8,434.31 545.8,434.39 544.8,434.48 543.8,434.57 542.8,434.66 541.8,434.75 540.8,434.84 539.8,434.93 538.8,435.02 537.8,435.10 536.8,435.19 535.8,435.27 534.8,435.35 533.8,435.42 532.8,435.50 531.8,435.57 530.8,435.63 529.8,435.69 528.8,435.75 527.8,435.80 526.8,435.84 525.8,435.88 524.8,435.92 523.8,435.94 522.8,435.96 521.8,435.97 520.8,435.98 519.8,435.98 518.8,435.96 517.8,435.94 516.8,435.91 515.8,435.88 514.8,435.83 513.8,435.77 512.8,435.70 511.8,435.62 510.8,435.53 509.8,435.42 508.8,435.31 507.8,435.18 506.8,435.04 505.8,434.89 504.8,434.72 503.8,434.54 502.8,434.35 501.8,434.14 500.8,433.91 499.8,433.67 498.8,433.42 497.8,433.16 496.8,432.93 496.3,432.84 Z" fill="#0000ff" fill-opacity="0.2" stroke="none"/>
<path d="M496.3,419.77 497.3,420.09 498.3,420.46 499.3,420.79 500.3,421.03 501.3,421.18 502.3,421.27 503.3,421.29 504.3,421.26 505.3,421.19 506.3,421.07 507.3,420.94 508.3,420.78 509.3,420.62 510.3,420.46 511.3,420.31 512.3,420.17 513.3,420.05 514.3,419.95 515.3,419.86 516.3,419.79 517.3,419.73 518.3,419.68 519.3,419.64 520.3,419.61 521.3,419.59 522.3,419.57 523.3,419.56 524.3,419.55 525.3,419.55 526.3,419.55 527.3,419.56 528.3,419.56 529.3,419.58 530.3,419.59 531.3,419.61 532.3,419.63 533.3,419.65 534.3,419.67 535.3,419.70 536.3,419.72 537.3,419.75 538.3,419.78 539.3,419.80 540.3,419.83 541.3,419.85 542.3,419.88 543.3,419.90 544.3,419.92 545.3,419.94 546.3,419.95 547.3,419.97 548.3,419.98 549.3,419.99 550.3,419.99 551.3,420.00 552.3,420.00 553.3,420.00 554.3,419.99 555.3,419.99 556.3,419.98 557.3,419.97 558.3,419.96 559.3,419.94 560.3,419.93 561.3,419.91 562.3,419.89 563.3,419.87 564.3,419.85 565.3,419.83 566.3,419.80 567.3,419.78 568.3,419.75 569.3,419.72 570.3,419.69 571.3,419.66 572.3,419.63 573.3,419.60 574.3,419.57 575.3,419.53 576.3,419.50 577.3,419.46 578.3,419.43 579.3,419.39 580.3,419.36 581.3,419.32 582.3,419.29 583.3,419.25 584.3,419.21 585.3,419.18 586.3,419.14 587.3,419.10 588.3,419.06 589.3,419.01 590.3,418.92 591.3,418.77 592.3,418.54 593.3,418.21 594.3,417.74 595.3,417.12 596.3,416.31 597.3,415.30 598.3,414.05 599.3,412.56 600.3,410.81 601.3,408.85 602.3,406.74 603.3,404.57 604.3,402.41 605.3,400.37 606.3,398.50 607.3,396.89 608.3,395.58 609.3,394.58 610.3,393.92 611.3,393.61 612.3,393.68 613.3,394.12 614.3,394.87 615.3,395.84 616.3,396.88 617.3,397.92 618.3,398.89 619.3,399.80 620.3,400.64 621.3,401.42 622.3,402.14 623.3,402.81 624.3,403.44 625.3,404.02 626.3,404.57 627.3,405.09 628.3,405.58 629.3,406.04 630.3,406.48 631.3,406.90 632.3,407.29 633.3,407.67 634.3,408.04 635.3,408.38 636.3,408.72 637.3,409.05 638.3,409.37 639.3,409.69 640.3,410.00 641.3,410.31 642.3,410.62 643.3,410.94 644.3,411.26 645.3,411.59 646.3,411.93 647.3,412.28 648.3,412.64 649.3,413.02 650.3,413.41 651.3,413.83 652.3,414.27 653.3,414.72 654.3,415.18 655.3,415.64 656.3,416.10 657.3,416.56 658.3,417.00 659.3,417.43 660.3,417.83 661.3,418.20 662.3,418.53 663.3,418.82 664.3,419.06 665.3,419.25 666.3,419.37 667.3,419.44 668.3,419.46 668.8,419.46 L668.8,426.68 667.8,426.61 666.8,426.51 665.8,426.40 664.8,426.32 663.8,426.26 662.8,426.23 661.8,426.21 660.8,426.22 659.8,426.24 658.8,426.27 657.8,426.32 656.8,426.38 655.8,426.45 654.8,426.54 653.8,426.62 652.8,426.72 651.8,426.81 650.8,426.91 649.8,427.01 648.8,427.11 647.8,427.21 646.8,427.30 645.8,427.38 644.8,427.47 643.8,427.54 642.8,427.62 641.8,427.68 640.8,427.75 639.8,427.81 638.8,427.86 637.8,427.91 636.8,427.95 635.8,427.98 634.8,428.01 633.8,428.04 632.8,428.06 631.8,428.07 630.8,428.08 629.8,428.08 628.8,428.07 627.8,428.06 626.8,428.04 625.8,428.01 624.8,427.98 623.8,427.94 622.8,427.89 621.8,427.84 620.8,427.80 619.8,427.77 618.8,427.75 617.8,427.76 616.8,427.81 615.8,427.91 614.8,428.05 613.8,428.26 612.8,428.53 611.8,428.87 610.8,429.26 609.8,429.69 608.8,430.15 607.8,430.62 606.8,431.09 605.8,431.54 604.8,431.96 603.8,432.33 602.8,432.66 601.8,432.94 600.8,433.18 599.8,433.37 598.8,433.54 597.8,433.66 596.8,433.76 595.8,433.83 594.8,433.87 593.8,433.89 592.8,433.89 591.8,433.88 590.8,433.85 589.8,433.81 588.8,433.77 587.8,433.72 586.8,433.67 585.8,433.63 584.8,433.58 583.8,433.55 582.8,433.52 581.8,433.50 580.8,433.48 579.8,433.44 578.8,433.40 577.8,433.34 576.8,433.27 575.8,433.19 574.8,433.10 573.8,433.00 572.8,432.89 571.8,432.79 570.8,432.68 569.8,432.58 568.8,432.48 567.8,432.40 566.8,432.32 565.8,432.26 564.8,432.21 563.8,432.18 562.8,432.16 561.8,432.16 560.8,432.17 559.8,432.19 558.8,432.23 557.8,432.27 556.8,432.33 555.8,432.40 554.8,432.48 553.8,432.56 552.8,432.66 551.8,432.76 550.8,432.87 549.8,432.99 548.8,433.12 547.8,433.25 546.8,433.39 545.8,433.53 544.8,433.67 543.8,433.82 542.8,433.97 541.8,434.13 540.8,434.28 539.8,434.44 538.8,434.60 537.8,434.76 536.8,434.91 535.8,435.07 534.8,435.22 533.8,435.37 532.8,435.52 531.8,435.66 530.8,435.79 529.8,435.92 528.8,436.05 527.8,436.16 526.8,436.27 525.8,436.37 524.8,436.46 523.8,436.54 522.8,436.61 521.8,436.66 520.8,436.70 519.8,436.74 518.8,436.75 517.8,436.75 516.8,436.74 515.8,436.71 514.8,436.66 513.8,436.60 512.8,436.52 511.8,436.42 510.8,436.30 509.8,436.16 508.8,435.99 507.8,435.81 506.8,435.60 505.8,435.37 504.8,435.12 503.8,434.84 502.8,434.54 501.8,434.21 500.8,433.85 499.8,433.47 498.8,433.05 497.8,432.63 496.8,432.25 496.3,432.11 Z" fill="#000000" fill-opacity="0.2" stroke="none"/>
<line x1="496.3" x2="668.8" y1="432.6" y2="432.6" stroke="#7c7c7c" stroke-width="1.0"/>
<path d="M496.3,425.47 497.3,425.75 498.3,426.12 499.3,426.48 500.3,426.81 501.3,427.11 502.3,427.37 503.3,427.61 504.3,427.81 505.3,427.99 506.3,428.14 507.3,428.27 508.3,428.38 509.3,428.46 510.3,428.52 511.3,428.57 512.3,428.60 513.3,428.61 514.3,428.61 515.3,428.59 516.3,428.57 517.3,428.53 518.3,428.49 519.3,428.44 520.3,428.38 521.3,428.33 522.3,428.26 523.3,428.20 524.3,428.13 525.3,428.07 526.3,428.00 527.3,427.93 528.3,427.86 529.3,427.79 530.3,427.71 531.3,427.64 532.3,427.57 533.3,427.50 534.3,427.42 535.3,427.35 536.3,427.28 537.3,427.20 538.3,427.13 539.3,427.06 540.3,426.99 541.3,426.92 542.3,426.86 543.3,426.79 544.3,426.73 545.3,426.67 546.3,426.61 547.3,426.55 548.3,426.50 549.3,426.45 550.3,426.40 551.3,426.35 552.3,426.31 553.3,426.27 554.3,426.23 555.3,426.20 556.3,426.16 557.3,426.14 558.3,426.11 559.3,426.09 560.3,426.08 561.3,426.06 562.3,426.05 563.3,426.05 564.3,426.05 565.3,426.05 566.3,426.06 567.3,426.07 568.3,426.09 569.3,426.11 570.3,426.13 571.3,426.16 572.3,426.20 573.3,426.24 574.3,426.28 575.3,426.34 576.3,426.39 577.3,426.45 578.3,426.52 579.3,426.59 580.3,426.67 581.3,426.75 582.3,426.84 583.3,426.94 584.3,427.04 585.3,427.15 586.3,427.27 587.3,427.39 588.3,427.51 589.3,427.63 590.3,427.74 591.3,427.83 592.3,427.86 593.3,427.85 594.3,427.76 595.3,427.59 596.3,427.31 597.3,426.92 598.3,426.40 599.3,425.73 600.3,424.91 601.3,423.93 602.3,422.82 603.3,421.60 604.3,420.31 605.3,418.99 606.3,417.69 607.3,416.43 608.3,415.25 609.3,414.19 610.3,413.27 611.3,412.53 612.3,412.00 613.3,411.69 614.3,411.60 615.3,411.69 616.3,411.91 617.3,412.22 618.3,412.58 619.3,412.98 620.3,413.41 621.3,413.87 622.3,414.33 623.3,414.79 624.3,415.24 625.3,415.67 626.3,416.07 627.3,416.43 628.3,416.75 629.3,417.03 630.3,417.28 631.3,417.50 632.3,417.69 633.3,417.86 634.3,418.00 635.3,418.13 636.3,418.24 637.3,418.34 638.3,418.42 639.3,418.50 640.3,418.58 641.3,418.65 642.3,418.73 643.3,418.81 644.3,418.90 645.3,419.00 646.3,419.12 647.3,419.25 648.3,419.40 649.3,419.58 650.3,419.78 651.3,420.01 652.3,420.27 653.3,420.55 654.3,420.86 655.3,421.18 656.3,421.52 657.3,421.86 658.3,422.20 659.3,422.54 660.3,422.86 661.3,423.17 662.3,423.46 663.3,423.73 664.3,423.96 665.3,424.16 666.3,424.32 667.3,424.42 668.3,424.48 668.8,424.50" fill="none" stroke="#0a0a28" stroke-width="1.0" stroke-linejoin="round"/>
<path d="M496.3,426.61 497.3,426.87 498.3,427.22 499.3,427.58 500.3,427.93 501.3,428.25 502.3,428.56 503.3,428.85 504.3,429.12 505.3,429.38 506.3,429.61 507.3,429.83 508.3,430.04 509.3,430.23 510.3,430.40 511.3,430.55 512.3,430.70 513.3,430.83 514.3,430.94 515.3,431.04 516.3,431.13 517.3,431.20 518.3,431.26 519.3,431.31 520.3,431.34 521.3,431.37 522.3,431.38 523.3,431.39 524.3,431.38 525.3,431.36 526.3,431.33 527.3,431.30 528.3,431.25 529.3,431.20 530.3,431.14 531.3,431.06 532.3,430.99 533.3,430.90 534.3,430.81 535.3,430.71 536.3,430.61 537.3,430.50 538.3,430.38 539.3,430.26 540.3,430.14 541.3,430.01 542.3,429.87 543.3,429.74 544.3,429.60 545.3,429.45 546.3,429.31 547.3,429.16 548.3,429.01 549.3,428.87 550.3,428.72 551.3,428.57 552.3,428.43 553.3,428.29 554.3,428.16 555.3,428.04 556.3,427.92 557.3,427.81 558.3,427.70 559.3,427.61 560.3,427.53 561.3,427.47 562.3,427.41 563.3,427.37 564.3,427.35 565.3,427.34 566.3,427.35 567.3,427.38 568.3,427.43 569.3,427.50 570.3,427.59 571.3,427.70 572.3,427.83 573.3,427.98 574.3,428.14 575.3,428.31 576.3,428.48 577.3,428.64 578.3,428.78 579.3,428.91 580.3,429.01 581.3,429.08 582.3,429.13 583.3,429.16 584.3,429.19 585.3,429.25 586.3,429.36 587.3,429.53 588.3,429.78 589.3,430.12 590.3,430.53 591.3,431.01 592.3,431.53 593.3,432.08 594.3,432.63 595.3,433.18 596.3,433.70 597.3,434.18 598.3,434.59 599.3,434.92 600.3,435.15 601.3,435.23 602.3,435.03 603.3,434.33 604.3,432.95 605.3,430.92 606.3,428.56 607.3,426.16 608.3,423.92 609.3,421.90 610.3,420.14 611.3,418.67 612.3,417.50 613.3,416.64 614.3,416.07 615.3,415.72 616.3,415.50 617.3,415.36 618.3,415.27 619.3,415.19 620.3,415.15 621.3,415.12 622.3,415.11 623.3,415.12 624.3,415.14 625.3,415.18 626.3,415.22 627.3,415.26 628.3,415.32 629.3,415.37 630.3,415.44 631.3,415.51 632.3,415.59 633.3,415.68 634.3,415.77 635.3,415.87 636.3,415.98 637.3,416.10 638.3,416.23 639.3,416.37 640.3,416.52 641.3,416.67 642.3,416.84 643.3,417.02 644.3,417.21 645.3,417.42 646.3,417.63 647.3,417.86 648.3,418.10 649.3,418.35 650.3,418.62 651.3,418.90 652.3,419.20 653.3,419.51 654.3,419.84 655.3,420.18 656.3,420.54 657.3,420.91 658.3,421.31 659.3,421.72 660.3,422.15 661.3,422.59 662.3,423.06 663.3,423.55 664.3,424.06 665.3,424.59 666.3,425.14 667.3,425.67 668.3,426.08 668.8,426.20" fill="none" stroke="#0808d0" stroke-width="1.15" stroke-linejoin="round"/>
</g>
<line x1="603.3" x2="603.3" y1="391.5" y2="456.2" stroke="#6e6e6e" stroke-width="1.0"/>
<line x1="496.5" x2="496.5" y1="391.5" y2="456.5" stroke="#c4c4c4" stroke-width="1"/>
<line x1="496.0" x2="669.3" y1="456.5" y2="456.5" stroke="#7a7a7a" stroke-width="1"/>
<text x="496.30" y="469.8" font-size="10.4" text-anchor="middle" font-weight="normal" fill="#303030">0</text>
<line x1="530.80" x2="530.80" y1="456.5" y2="454.5" stroke="#333333" stroke-width="0.7"/>
<text x="530.80" y="469.8" font-size="10.4" text-anchor="middle" font-weight="normal" fill="#303030">20</text>
<line x1="565.30" x2="565.30" y1="456.5" y2="454.5" stroke="#333333" stroke-width="0.7"/>
<text x="565.30" y="469.8" font-size="10.4" text-anchor="middle" font-weight="normal" fill="#303030">40</text>
<line x1="599.80" x2="599.80" y1="456.5" y2="454.5" stroke="#333333" stroke-width="0.7"/>
<text x="599.80" y="469.8" font-size="10.4" text-anchor="middle" font-weight="normal" fill="#303030">60</text>
<line x1="634.30" x2="634.30" y1="456.5" y2="454.5" stroke="#333333" stroke-width="0.7"/>
<text x="634.30" y="469.8" font-size="10.4" text-anchor="middle" font-weight="normal" fill="#303030">80</text>
<line x1="668.80" x2="668.80" y1="456.5" y2="454.5" stroke="#333333" stroke-width="0.7"/>
<text x="668.80" y="469.8" font-size="10.4" text-anchor="middle" font-weight="normal" fill="#303030">100</text>
<line x1="496.5" x2="498.5" y1="384.0" y2="384.0" stroke="#333333" stroke-width="0.7"/>
<text x="493.0" y="388.2" font-size="10.4" text-anchor="end" font-weight="normal" fill="#303030">40</text>
<line x1="496.5" x2="498.5" y1="408.4" y2="408.4" stroke="#333333" stroke-width="0.7"/>
<text x="493.0" y="412.59999999999997" font-size="10.4" text-anchor="end" font-weight="normal" fill="#303030">20</text>
<line x1="496.5" x2="498.5" y1="432.6" y2="432.6" stroke="#333333" stroke-width="0.7"/>
<text x="493.0" y="436.8" font-size="10.4" text-anchor="end" font-weight="normal" fill="#303030">0</text>
<rect x="496.5" y="382.3" width="176.30" height="9.20" fill="#fff" stroke="#dadada" stroke-width="0.8"/>
<text x="520.7" y="378.3" font-size="11.15" text-anchor="start" font-weight="bold" fill="#000">Foot Progression angle</text>
<text x="476.7" y="420.55" font-size="11.4" text-anchor="middle" font-weight="normal" fill="#262626" transform="rotate(-90 476.7 420.55)">Ext Rot/Int Rot [Deg]</text>
<text x="547.3" y="485.2" font-size="11.1" text-anchor="start" font-weight="normal" fill="#262626">Gait Cycle (%)</text>
<line x1="237.9" y1="424.1" x2="249.8" y2="424.1" stroke="#0000ff" stroke-width="1.6"/>
<text x="250.6" y="422.8" font-size="8.5" fill="#262626">Patellainstability Group</text>
<text x="253.1" y="432.8" font-size="8.5" fill="#262626">+/- Standard Deviation</text>
<line x1="350.1" y1="424.1" x2="361.9" y2="424.1" stroke="#000000" stroke-width="1.6"/>
<text x="362.7" y="422.5" font-size="8.5" fill="#262626">Control Group</text>
<text x="365.1" y="432.8" font-size="8.5" fill="#262626">+/- Standard Deviation</text>

</svg>
</body></html>
